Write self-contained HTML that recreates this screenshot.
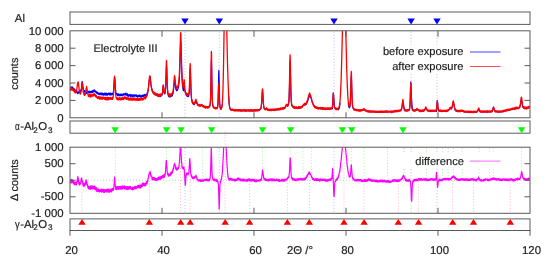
<!DOCTYPE html><html><head><meta charset="utf-8"><style>html,body{margin:0;padding:0;background:#fff;}svg{display:block;will-change:transform;}text{font-family:"Liberation Sans",sans-serif;font-size:11.4px;fill:#222;stroke:#222;stroke-width:0.18px;text-rendering:geometricPrecision;}</style></head><body><svg width="550" height="264" viewBox="0 0 550 264"><rect width="550" height="264" fill="#fff"/><defs><clipPath id="cm"><rect x="70.00" y="30.80" width="460.00" height="87.00"/></clipPath><clipPath id="cd"><rect x="70.00" y="147.20" width="460.00" height="66.10"/></clipPath></defs><path d="M185.0 31.8V117.8M219.3 31.8V117.8M334.0 31.8V117.8M411.1 31.8V117.8M437.0 31.8V117.8" stroke="#0000ff" stroke-opacity="0.27" stroke-width="1" stroke-dasharray="1 2" fill="none"/><path d="M115.3 148.2V186.5M166.6 148.2V161.4M181.0 148.2V150.9M202.7 148.2V179.3M211.6 148.2V155.5M262.6 148.2V169.2M290.3 148.2V157.7M302.9 148.2V178.3M311.4 148.2V175.7M342.4 148.2V148.2M351.2 148.2V165.5M364.2 148.2V179.5M387.5 148.2V179.7M403.4 148.2V174.8M405.0 148.2V177.4M426.5 148.2V178.7M442.5 148.2V178.6M448.2 148.2V178.4M453.6 148.2V175.5M462.2 148.2V178.6M479.1 148.2V177.0M489.6 148.2V178.8M493.3 148.2V178.8M521.6 148.2V170.9" stroke="#00dd00" stroke-opacity="0.35" stroke-width="1" stroke-dasharray="1 2" fill="none"/><path d="M81.8 180.4V213.3M149.5 174.5V213.3M180.6 147.1V213.3M190.1 163.7V213.3M225.1 131.4V213.3M249.7 181.1V213.3M287.4 180.3V213.3M309.4 174.1V213.3M344.0 141.5V213.3M364.1 181.5V213.3M398.3 181.6V213.3M418.6 180.7V213.3M452.7 177.6V213.3M473.6 180.7V213.3M510.2 180.7V213.3" stroke="#ff0000" stroke-opacity="0.3" stroke-width="1" stroke-dasharray="1 2" fill="none"/><path d="M185.0 148.2V213.3M219.3 148.2V213.3M334.0 148.2V213.3M411.1 148.2V213.3M437.0 148.2V213.3" stroke="#0000ff" stroke-opacity="0.27" stroke-width="1" stroke-dasharray="1 2" fill="none"/><path d="M70.0 180.25H530.0" stroke="#000" stroke-opacity="0.22" stroke-width="1" stroke-dasharray="1 2" fill="none"/><g clip-path="url(#cm)"><path d="M70.0 87.7L70.1 88.1L70.2 87.8L70.3 88.3L70.4 87.8L70.5 88.3L70.6 87.4L70.7 87.3L70.8 87.1L70.9 88.0L71.0 86.7L71.1 87.1L71.2 87.8L71.3 87.2L71.4 87.4L71.5 87.9L71.6 87.4L71.7 87.4L71.8 87.1L71.9 88.0L72.0 87.2L72.1 87.5L72.2 86.9L72.3 86.9L72.4 88.0L72.5 87.2L72.6 88.2L72.7 87.5L72.8 88.4L72.9 88.8L73.0 88.1L73.1 88.7L73.2 88.6L73.3 89.2L73.4 88.8L73.5 88.8L73.6 88.1L73.7 88.4L73.8 89.6L73.9 88.9L74.0 89.3L74.1 88.9L74.2 89.1L74.3 90.4L74.4 90.7L74.5 89.1L74.6 90.5L74.7 90.2L74.8 89.8L74.9 89.7L75.0 90.2L75.1 91.1L75.2 90.7L75.3 90.4L75.4 90.7L75.5 90.2L75.6 91.2L75.7 90.4L75.8 90.6L75.9 91.3L76.0 91.3L76.1 92.4L76.2 91.3L76.3 91.2L76.4 92.2L76.5 91.4L76.6 90.9L76.7 90.8L76.8 92.1L76.9 92.5L77.0 91.3L77.1 92.2L77.2 91.8L77.3 92.5L77.4 92.5L77.5 93.3L77.6 93.0L77.7 92.3L77.8 93.6L77.9 93.2L78.0 93.0L78.1 92.5L78.2 93.7L78.3 93.4L78.4 92.4L78.5 92.7L78.6 92.1L78.7 92.4L78.8 92.5L78.9 91.0L79.0 91.9L79.1 91.1L79.2 92.2L79.3 91.9L79.4 92.5L79.5 91.4L79.6 90.9L79.7 91.4L79.8 92.1L79.9 91.9L80.0 91.9L80.1 91.6L80.2 91.2L80.3 90.3L80.4 90.7L80.5 92.1L80.6 90.8L80.7 91.5L80.8 90.5L80.9 90.7L81.0 90.5L81.1 90.2L81.2 89.5L81.3 89.3L81.4 88.5L81.5 87.6L81.6 86.8L81.7 85.6L81.8 84.4L81.9 83.5L82.0 82.3L82.1 81.4L82.2 81.7L82.3 81.8L82.4 82.0L82.5 82.2L82.6 83.1L82.7 84.2L82.8 85.2L82.9 86.1L83.0 87.1L83.1 88.0L83.2 88.3L83.3 89.2L83.4 90.0L83.5 89.8L83.6 89.8L83.7 90.7L83.8 90.8L83.9 90.7L84.0 90.3L84.1 91.7L84.2 90.5L84.3 90.9L84.4 90.7L84.5 91.5L84.6 90.5L84.7 92.2L84.8 90.8L84.9 91.6L85.0 91.8L85.1 91.6L85.2 91.5L85.3 91.5L85.4 92.1L85.5 92.8L85.6 92.7L85.7 93.0L85.8 93.3L85.9 91.9L86.0 92.9L86.1 92.8L86.2 93.1L86.3 93.5L86.4 92.5L86.5 93.5L86.6 92.2L86.7 92.7L86.8 91.7L86.9 92.7L87.0 93.0L87.1 92.5L87.2 92.6L87.3 91.2L87.4 93.0L87.5 91.6L87.6 91.7L87.7 90.9L87.8 93.0L87.9 91.4L88.0 91.7L88.1 91.8L88.2 91.6L88.3 92.5L88.4 92.2L88.5 92.1L88.6 91.9L88.7 91.9L88.8 91.4L88.9 92.7L89.0 91.7L89.1 92.2L89.2 92.0L89.3 91.3L89.4 92.7L89.5 91.8L89.6 92.0L89.7 92.7L89.8 91.4L89.9 93.0L90.0 92.8L90.1 91.3L90.2 91.9L90.3 92.8L90.4 92.2L90.5 92.6L90.6 92.1L90.7 92.3L90.8 92.3L90.9 91.7L91.0 91.8L91.1 91.2L91.2 92.2L91.3 91.7L91.4 92.5L91.5 92.9L91.6 91.7L91.7 91.5L91.8 91.0L91.9 92.3L92.0 92.0L92.1 91.8L92.2 92.4L92.3 90.5L92.4 92.1L92.5 92.5L92.6 92.3L92.7 92.0L92.8 91.8L92.9 90.8L93.0 91.8L93.1 91.2L93.2 92.0L93.3 91.6L93.4 91.4L93.5 90.5L93.6 90.6L93.7 90.0L93.8 91.3L93.9 91.3L94.0 90.8L94.1 91.7L94.2 91.0L94.3 89.7L94.4 91.6L94.5 90.2L94.6 90.6L94.7 90.4L94.8 90.9L94.9 90.3L95.0 91.1L95.1 90.7L95.2 91.0L95.3 91.3L95.4 91.7L95.5 92.2L95.6 91.1L95.7 91.9L95.8 92.5L95.9 92.5L96.0 91.6L96.1 91.4L96.2 91.8L96.3 92.1L96.4 91.5L96.5 93.1L96.6 92.3L96.7 92.6L96.8 93.5L96.9 92.3L97.0 92.4L97.1 93.2L97.2 92.2L97.3 93.5L97.4 92.4L97.5 93.0L97.6 93.6L97.7 92.4L97.8 93.0L97.9 92.8L98.0 93.3L98.1 94.3L98.2 92.8L98.3 93.7L98.4 94.4L98.5 93.3L98.6 93.8L98.7 94.4L98.8 94.0L98.9 93.4L99.0 93.9L99.1 93.8L99.2 94.0L99.3 94.2L99.4 94.0L99.5 93.9L99.6 93.1L99.7 94.6L99.8 94.3L99.9 93.8L100.0 93.1L100.1 94.6L100.2 94.5L100.3 94.7L100.4 93.9L100.5 94.0L100.6 93.6L100.7 93.0L100.8 93.1L100.9 93.0L101.0 93.7L101.1 94.1L101.2 94.8L101.3 94.2L101.4 93.8L101.5 93.3L101.6 93.5L101.7 93.2L101.8 94.6L101.9 93.9L102.0 93.1L102.1 95.0L102.2 93.6L102.3 94.2L102.4 93.1L102.5 94.8L102.6 94.9L102.7 94.4L102.8 93.6L102.9 93.5L103.0 94.3L103.1 93.8L103.2 94.7L103.3 95.2L103.4 93.7L103.5 93.9L103.6 94.8L103.7 93.5L103.8 94.6L103.9 94.8L104.0 94.7L104.1 95.1L104.2 94.8L104.3 93.1L104.4 94.8L104.5 94.9L104.6 93.5L104.7 94.7L104.8 93.4L104.9 94.5L105.0 93.7L105.1 93.8L105.2 94.7L105.3 94.7L105.4 94.5L105.5 94.2L105.6 95.2L105.7 93.1L105.8 93.7L105.9 94.6L106.0 92.9L106.1 92.9L106.2 94.9L106.3 95.2L106.4 95.1L106.5 93.4L106.6 93.9L106.7 93.7L106.8 94.3L106.9 95.2L107.0 93.7L107.1 93.4L107.2 94.5L107.3 94.9L107.4 93.5L107.5 94.7L107.6 95.1L107.7 94.3L107.8 93.5L107.9 94.4L108.0 94.7L108.1 93.6L108.2 93.5L108.3 93.6L108.4 94.3L108.5 94.4L108.6 93.1L108.7 93.5L108.8 93.4L108.9 93.6L109.0 94.4L109.1 93.8L109.2 93.2L109.3 93.0L109.4 94.3L109.5 94.6L109.6 94.8L109.7 93.4L109.8 95.3L109.9 95.2L110.0 94.4L110.1 93.5L110.2 93.8L110.3 93.0L110.4 94.6L110.5 93.1L110.6 94.5L110.7 94.3L110.8 94.9L110.9 94.1L111.0 93.9L111.1 94.9L111.2 94.0L111.3 93.5L111.4 95.0L111.5 93.4L111.6 94.0L111.7 94.3L111.8 93.5L111.9 94.5L112.0 94.7L112.1 93.7L112.2 94.0L112.3 94.5L112.4 93.2L112.5 94.6L112.6 93.2L112.7 94.5L112.8 93.5L112.9 94.4L113.0 94.1L113.1 93.0L113.2 92.7L113.3 92.6L113.4 91.5L113.5 90.8L113.6 89.7L113.7 88.7L113.8 87.1L113.9 85.4L114.0 83.8L114.1 82.1L114.2 80.6L114.3 79.8L114.4 78.6L114.5 77.9L114.6 77.2L114.7 78.1L114.8 78.7L114.9 79.5L115.0 81.0L115.1 82.2L115.2 84.2L115.3 85.7L115.4 87.4L115.5 88.9L115.6 90.0L115.7 90.7L115.8 92.1L115.9 92.9L116.0 93.5L116.1 93.1L116.2 94.2L116.3 93.8L116.4 93.2L116.5 93.9L116.6 94.2L116.7 94.8L116.8 93.4L116.9 94.3L117.0 94.0L117.1 95.3L117.2 94.0L117.3 95.0L117.4 94.8L117.5 94.4L117.6 95.6L117.7 95.3L117.8 93.8L117.9 94.9L118.0 95.4L118.1 94.1L118.2 94.6L118.3 95.8L118.4 93.8L118.5 94.6L118.6 94.6L118.7 95.7L118.8 95.4L118.9 94.0L119.0 95.0L119.1 95.6L119.2 94.7L119.3 94.4L119.4 95.6L119.5 95.1L119.6 94.3L119.7 94.5L119.8 95.7L119.9 95.2L120.0 95.9L120.1 95.6L120.2 94.4L120.3 95.3L120.4 94.1L120.5 94.6L120.6 94.6L120.7 95.7L120.8 94.2L120.9 95.2L121.0 94.9L121.1 94.1L121.2 95.1L121.3 94.4L121.4 95.5L121.5 94.9L121.6 94.6L121.7 95.6L121.8 94.4L121.9 95.0L122.0 95.3L122.1 94.3L122.2 94.7L122.3 95.9L122.4 94.2L122.5 94.9L122.6 95.3L122.7 94.4L122.8 94.2L122.9 94.5L123.0 94.5L123.1 94.7L123.2 94.6L123.3 93.7L123.4 95.2L123.5 94.1L123.6 94.0L123.7 95.3L123.8 94.6L123.9 93.6L124.0 93.8L124.1 95.0L124.2 94.1L124.3 94.2L124.4 93.9L124.5 94.5L124.6 94.7L124.7 94.6L124.8 93.8L124.9 94.3L125.0 94.5L125.1 94.5L125.2 93.6L125.3 95.2L125.4 94.6L125.5 93.7L125.6 93.4L125.7 93.1L125.8 93.9L125.9 94.6L126.0 93.9L126.1 93.8L126.2 93.3L126.3 94.2L126.4 94.4L126.5 93.7L126.6 94.8L126.7 94.5L126.8 94.6L126.9 95.6L127.0 95.5L127.1 94.5L127.2 95.2L127.3 93.9L127.4 95.5L127.5 93.7L127.6 94.0L127.7 94.5L127.8 96.1L127.9 95.8L128.0 95.2L128.1 95.0L128.2 95.4L128.3 94.9L128.4 95.1L128.5 95.3L128.6 95.1L128.7 94.9L128.8 96.4L128.9 95.3L129.0 94.8L129.1 94.9L129.2 95.1L129.3 96.0L129.4 94.6L129.5 95.4L129.6 95.3L129.7 95.8L129.8 94.6L129.9 95.4L130.0 95.5L130.1 94.4L130.2 95.9L130.3 95.4L130.4 95.4L130.5 94.6L130.6 96.5L130.7 96.0L130.8 95.2L130.9 95.6L131.0 95.7L131.1 95.7L131.2 94.7L131.3 96.1L131.4 95.3L131.5 96.2L131.6 96.2L131.7 95.4L131.8 95.9L131.9 96.5L132.0 94.9L132.1 95.6L132.2 96.3L132.3 95.5L132.4 95.2L132.5 95.1L132.6 96.7L132.7 95.4L132.8 95.0L132.9 95.4L133.0 96.7L133.1 94.9L133.2 96.1L133.3 96.1L133.4 95.1L133.5 95.5L133.6 95.6L133.7 96.2L133.8 96.2L133.9 95.8L134.0 95.5L134.1 95.9L134.2 96.0L134.3 94.7L134.4 95.2L134.5 95.5L134.6 96.4L134.7 95.9L134.8 95.6L134.9 95.5L135.0 94.7L135.1 95.7L135.2 95.8L135.3 96.2L135.4 95.1L135.5 95.5L135.6 95.5L135.7 95.7L135.8 95.4L135.9 96.0L136.0 95.3L136.1 94.8L136.2 95.2L136.3 95.0L136.4 96.1L136.5 95.2L136.6 96.6L136.7 95.0L136.8 95.9L136.9 95.6L137.0 96.2L137.1 96.4L137.2 95.3L137.3 96.0L137.4 96.6L137.5 97.0L137.6 96.0L137.7 97.1L137.8 96.8L137.9 96.4L138.0 96.6L138.1 96.5L138.2 96.1L138.3 95.7L138.4 96.0L138.5 95.4L138.6 96.6L138.7 95.4L138.8 95.5L138.9 96.6L139.0 95.8L139.1 96.4L139.2 96.4L139.3 96.3L139.4 96.7L139.5 95.6L139.6 96.2L139.7 96.3L139.8 94.9L139.9 96.6L140.0 96.4L140.1 95.2L140.2 96.2L140.3 95.7L140.4 96.7L140.5 96.9L140.6 95.9L140.7 96.2L140.8 97.0L140.9 96.0L141.0 95.7L141.1 96.4L141.2 96.7L141.3 95.8L141.4 97.1L141.5 95.8L141.6 96.5L141.7 96.9L141.8 95.5L141.9 96.7L142.0 95.7L142.1 95.6L142.2 96.8L142.3 95.9L142.4 96.5L142.5 95.1L142.6 96.2L142.7 96.4L142.8 96.6L142.9 96.6L143.0 95.1L143.1 96.2L143.2 95.3L143.3 95.3L143.4 96.4L143.5 95.8L143.6 96.4L143.7 96.4L143.8 94.7L143.9 95.6L144.0 95.6L144.1 95.5L144.2 95.5L144.3 94.4L144.4 94.7L144.5 95.0L144.6 95.0L144.7 94.9L144.8 94.9L144.9 95.0L145.0 96.2L145.1 95.5L145.2 95.6L145.3 95.3L145.4 95.5L145.5 95.7L145.6 96.1L145.7 94.6L145.8 95.4L145.9 95.5L146.0 95.1L146.1 94.3L146.2 94.3L146.3 94.6L146.4 95.3L146.5 94.8L146.6 94.7L146.7 94.7L146.8 94.5L146.9 94.0L147.0 93.9L147.1 93.1L147.2 93.2L147.3 92.7L147.4 92.2L147.5 93.2L147.6 92.3L147.7 91.9L147.8 91.1L147.9 90.9L148.0 90.4L148.1 89.8L148.2 89.1L148.3 88.7L148.4 88.2L148.5 87.4L148.6 86.2L148.7 85.3L148.8 84.6L148.9 83.5L149.0 82.7L149.1 81.7L149.2 80.9L149.3 80.0L149.4 78.7L149.5 77.9L149.6 77.7L149.7 77.2L149.8 76.2L149.9 76.5L150.0 77.3L150.1 77.5L150.2 78.5L150.3 79.0L150.4 79.8L150.5 80.9L150.6 81.8L150.7 82.6L150.8 83.3L150.9 84.4L151.0 85.1L151.1 85.5L151.2 86.2L151.3 87.2L151.4 87.6L151.5 88.0L151.6 88.5L151.7 88.9L151.8 89.7L151.9 89.8L152.0 90.0L152.1 90.4L152.2 91.4L152.3 90.8L152.4 90.9L152.5 91.1L152.6 92.2L152.7 91.5L152.8 91.6L152.9 92.3L153.0 91.8L153.1 92.4L153.2 92.8L153.3 92.5L153.4 93.1L153.5 92.7L153.6 93.1L153.7 92.9L153.8 92.6L153.9 93.0L154.0 93.1L154.1 94.0L154.2 92.9L154.3 93.9L154.4 93.2L154.5 93.3L154.6 93.1L154.7 93.5L154.8 94.0L154.9 93.4L155.0 93.5L155.1 93.5L155.2 93.5L155.3 94.9L155.4 94.7L155.5 94.3L155.6 94.4L155.7 93.9L155.8 94.9L155.9 94.6L156.0 95.0L156.1 95.2L156.2 95.0L156.3 94.8L156.4 95.2L156.5 95.1L156.6 95.3L156.7 95.5L156.8 94.8L156.9 95.5L157.0 95.4L157.1 94.7L157.2 95.1L157.3 95.7L157.4 95.4L157.5 95.4L157.6 95.1L157.7 96.0L157.8 95.9L157.9 95.3L158.0 96.0L158.1 96.2L158.2 96.5L158.3 95.8L158.4 95.8L158.5 95.8L158.6 95.8L158.7 96.5L158.8 95.9L158.9 96.2L159.0 95.7L159.1 96.5L159.2 96.2L159.3 95.5L159.4 95.8L159.5 95.8L159.6 96.3L159.7 96.3L159.8 95.8L159.9 95.9L160.0 96.4L160.1 95.7L160.2 96.6L160.3 95.9L160.4 96.2L160.5 96.4L160.6 96.0L160.7 96.3L160.8 95.6L160.9 95.8L161.0 95.7L161.1 95.4L161.2 95.1L161.3 95.0L161.4 95.6L161.5 95.6L161.6 95.0L161.7 95.7L161.8 95.7L161.9 95.4L162.0 94.6L162.1 95.0L162.2 94.3L162.3 93.9L162.4 93.9L162.5 93.4L162.6 92.3L162.7 91.6L162.8 90.5L162.9 89.2L163.0 88.1L163.1 86.9L163.2 86.0L163.3 85.4L163.4 85.9L163.5 86.8L163.6 87.9L163.7 89.0L163.8 90.1L163.9 91.4L164.0 92.3L164.1 92.9L164.2 93.5L164.3 93.9L164.4 93.9L164.5 93.6L164.6 93.5L164.7 93.4L164.8 93.4L164.9 93.5L165.0 93.7L165.1 93.1L165.2 92.7L165.3 92.0L165.4 91.5L165.5 90.1L165.6 88.8L165.7 87.1L165.8 85.0L165.9 82.4L166.0 79.4L166.1 76.1L166.2 72.8L166.3 69.7L166.4 67.3L166.5 66.4L166.6 66.8L166.7 68.6L166.8 71.5L166.9 74.7L167.0 78.0L167.1 81.2L167.2 84.1L167.3 86.5L167.4 88.7L167.5 90.3L167.6 91.6L167.7 92.6L167.8 93.5L167.9 94.2L168.0 94.8L168.1 94.5L168.2 95.3L168.3 95.6L168.4 96.0L168.5 95.4L168.6 95.8L168.7 95.9L168.8 96.7L168.9 96.7L169.0 96.8L169.1 96.5L169.2 96.5L169.3 96.2L169.4 96.3L169.5 96.3L169.6 97.0L169.7 96.3L169.8 96.3L169.9 96.7L170.0 96.4L170.1 96.7L170.2 96.5L170.3 96.7L170.4 96.9L170.5 96.2L170.6 96.7L170.7 96.4L170.8 96.6L170.9 96.5L171.0 96.0L171.1 96.0L171.2 96.1L171.3 96.0L171.4 96.2L171.5 96.1L171.6 96.0L171.7 95.6L171.8 96.3L171.9 96.0L172.0 95.8L172.1 95.1L172.2 95.6L172.3 95.6L172.4 95.6L172.5 94.6L172.6 94.5L172.7 94.3L172.8 94.3L172.9 93.7L173.0 93.9L173.1 93.3L173.2 93.0L173.3 92.0L173.4 91.5L173.5 90.9L173.6 90.0L173.7 88.9L173.8 88.0L173.9 86.9L174.0 85.6L174.1 84.4L174.2 83.2L174.3 81.7L174.4 80.8L174.5 80.0L174.6 80.0L174.7 80.2L174.8 80.4L174.9 80.7L175.0 81.9L175.1 82.8L175.2 83.9L175.3 84.8L175.4 85.9L175.5 86.5L175.6 87.2L175.7 88.0L175.8 88.8L175.9 89.3L176.0 89.6L176.1 89.3L176.2 90.1L176.3 90.1L176.4 90.1L176.5 89.8L176.6 90.2L176.7 90.9L176.8 90.1L176.9 89.8L177.0 90.0L177.1 90.6L177.2 90.5L177.3 89.9L177.4 90.1L177.5 90.3L177.6 89.5L177.7 89.4L177.8 88.8L177.9 89.2L178.0 89.0L178.1 88.5L178.2 88.2L178.3 88.1L178.4 87.5L178.5 86.9L178.6 86.5L178.7 85.9L178.8 85.1L178.9 84.1L179.0 83.2L179.1 82.3L179.2 80.9L179.3 79.7L179.4 78.1L179.5 76.2L179.6 74.1L179.7 71.6L179.8 68.8L179.9 65.8L180.0 62.4L180.1 58.8L180.2 55.0L180.3 51.2L180.4 47.7L180.5 44.8L180.6 42.6L180.7 41.5L180.8 42.2L180.9 43.7L181.0 46.4L181.1 49.8L181.2 53.6L181.3 57.4L181.4 61.2L181.5 64.8L181.6 68.1L181.7 71.0L181.8 73.8L181.9 76.2L182.0 78.4L182.1 80.4L182.2 81.9L182.3 83.3L182.4 84.6L182.5 85.8L182.6 86.8L182.7 87.5L182.8 88.2L182.9 88.9L183.0 89.4L183.1 90.2L183.2 90.1L183.3 90.1L183.4 90.9L183.5 90.4L183.6 89.9L183.7 88.9L183.8 87.7L183.9 86.4L184.0 84.5L184.1 83.2L184.2 82.6L184.3 83.1L184.4 84.5L184.5 86.4L184.6 88.1L184.7 89.5L184.8 90.3L184.9 90.7L185.0 90.9L185.1 91.0L185.2 91.5L185.3 91.1L185.4 91.1L185.5 91.8L185.6 92.3L185.7 93.0L185.8 93.6L185.9 94.0L186.0 94.5L186.1 94.9L186.2 94.7L186.3 95.0L186.4 95.8L186.5 95.5L186.6 96.0L186.7 95.3L186.8 95.4L186.9 95.8L187.0 96.3L187.1 95.6L187.2 95.9L187.3 96.5L187.4 95.9L187.5 96.2L187.6 96.6L187.7 96.5L187.8 96.4L187.9 95.9L188.0 96.5L188.1 96.4L188.2 95.9L188.3 95.7L188.4 96.6L188.5 96.3L188.6 96.0L188.7 95.7L188.8 95.9L188.9 95.1L189.0 95.0L189.1 94.4L189.2 93.3L189.3 92.2L189.4 90.6L189.5 88.4L189.6 85.9L189.7 82.7L189.8 79.2L189.9 75.6L190.0 72.1L190.1 69.5L190.2 68.6L190.3 68.8L190.4 70.7L190.5 73.8L190.6 77.3L190.7 81.0L190.8 84.4L190.9 87.7L191.0 90.5L191.1 92.8L191.2 94.7L191.3 96.2L191.4 97.4L191.5 98.5L191.6 99.5L191.7 100.1L191.8 100.5L191.9 101.0L192.0 101.6L192.1 102.0L192.2 102.0L192.3 102.7L192.4 103.0L192.5 102.7L192.6 102.8L192.7 103.2L192.8 103.8L192.9 103.6L193.0 103.9L193.1 104.1L193.2 104.0L193.3 103.9L193.4 103.7L193.5 104.4L193.6 104.5L193.7 103.9L193.8 104.2L193.9 104.6L194.0 104.4L194.1 104.5L194.2 104.0L194.3 104.6L194.4 104.3L194.5 104.2L194.6 103.9L194.7 103.8L194.8 103.5L194.9 103.4L195.0 103.2L195.1 103.1L195.2 102.7L195.3 102.5L195.4 102.2L195.5 102.4L195.6 101.5L195.7 101.4L195.8 101.5L195.9 100.9L196.0 100.7L196.1 100.9L196.2 101.3L196.3 101.7L196.4 102.1L196.5 102.1L196.6 102.3L196.7 102.7L196.8 103.1L196.9 103.3L197.0 103.5L197.1 104.0L197.2 103.8L197.3 104.5L197.4 104.3L197.5 104.5L197.6 105.0L197.7 104.9L197.8 105.1L197.9 104.8L198.0 105.2L198.1 105.1L198.2 105.5L198.3 105.5L198.4 105.0L198.5 105.3L198.6 105.4L198.7 105.1L198.8 105.4L198.9 105.2L199.0 105.0L199.1 105.8L199.2 105.5L199.3 105.6L199.4 105.4L199.5 105.6L199.6 105.2L199.7 104.8L199.8 105.2L199.9 105.6L200.0 105.2L200.1 105.5L200.2 105.3L200.3 105.5L200.4 105.0L200.5 105.7L200.6 105.3L200.7 105.3L200.8 104.9L200.9 105.2L201.0 105.2L201.1 105.3L201.2 105.2L201.3 105.0L201.4 104.7L201.5 105.2L201.6 104.8L201.7 105.3L201.8 105.3L201.9 105.1L202.0 105.4L202.1 105.7L202.2 105.6L202.3 105.3L202.4 105.9L202.5 105.6L202.6 105.7L202.7 105.7L202.8 106.0L202.9 106.0L203.0 106.3L203.1 106.3L203.2 106.5L203.3 105.9L203.4 106.1L203.5 106.5L203.6 106.5L203.7 106.5L203.8 106.2L203.9 106.5L204.0 106.7L204.1 106.9L204.2 107.0L204.3 106.6L204.4 107.0L204.5 107.1L204.6 106.8L204.7 106.7L204.8 107.3L204.9 106.8L205.0 106.7L205.1 107.2L205.2 106.8L205.3 107.0L205.4 107.4L205.5 106.7L205.6 106.9L205.7 106.9L205.8 107.3L205.9 107.4L206.0 106.9L206.1 107.2L206.2 106.9L206.3 107.0L206.4 107.4L206.5 107.0L206.6 107.0L206.7 107.2L206.8 107.4L206.9 107.2L207.0 107.0L207.1 106.9L207.2 107.5L207.3 107.2L207.4 106.9L207.5 107.3L207.6 107.6L207.7 107.5L207.8 107.1L207.9 107.3L208.0 107.0L208.1 107.3L208.2 106.9L208.3 107.3L208.4 107.1L208.5 107.1L208.6 107.1L208.7 106.8L208.8 107.1L208.9 107.2L209.0 106.8L209.1 106.9L209.2 106.7L209.3 106.5L209.4 106.3L209.5 106.5L209.6 106.5L209.7 105.9L209.8 106.2L209.9 105.8L210.0 105.3L210.1 105.1L210.2 104.1L210.3 103.6L210.4 102.1L210.5 100.4L210.6 98.1L210.7 94.8L210.8 90.5L210.9 85.4L211.0 79.4L211.1 73.1L211.2 67.0L211.3 62.4L211.4 60.3L211.5 61.4L211.6 65.3L211.7 71.0L211.8 77.4L211.9 83.5L212.0 89.0L212.1 93.5L212.2 97.1L212.3 99.9L212.4 102.0L212.5 103.3L212.6 104.1L212.7 104.9L212.8 105.7L212.9 106.1L213.0 106.5L213.1 106.8L213.2 106.6L213.3 107.1L213.4 106.9L213.5 107.5L213.6 107.6L213.7 107.5L213.8 107.9L213.9 107.9L214.0 107.6L214.1 107.5L214.2 107.5L214.3 107.6L214.4 107.8L214.5 107.8L214.6 107.8L214.7 108.3L214.8 108.0L214.9 108.1L215.0 108.3L215.1 108.2L215.2 108.3L215.3 107.9L215.4 108.3L215.5 107.9L215.6 108.2L215.7 108.2L215.8 108.1L215.9 108.3L216.0 108.3L216.1 107.8L216.2 108.3L216.3 108.2L216.4 107.8L216.5 107.9L216.6 108.1L216.7 108.2L216.8 108.1L216.9 107.6L217.0 107.6L217.1 107.7L217.2 107.8L217.3 107.5L217.4 107.3L217.5 106.9L217.6 106.5L217.7 106.0L217.8 105.0L217.9 103.6L218.0 101.6L218.1 99.1L218.2 95.7L218.3 91.5L218.4 86.7L218.5 81.5L218.6 76.6L218.7 72.6L218.8 70.3L218.9 70.7L219.0 72.8L219.1 76.3L219.2 80.7L219.3 85.6L219.4 90.3L219.5 94.6L219.6 98.2L219.7 101.1L219.8 103.2L219.9 104.9L220.0 106.0L220.1 106.8L220.2 107.1L220.3 107.4L220.4 107.7L220.5 108.2L220.6 108.5L220.7 108.3L220.8 108.8L220.9 108.9L221.0 108.5L221.1 108.7L221.2 108.7L221.3 108.8L221.4 108.9L221.5 108.0L221.6 107.9L221.7 107.3L221.8 107.2L221.9 106.7L222.0 106.0L222.1 105.3L222.2 104.3M228.7 96.0L228.8 97.7L228.9 99.5L229.0 101.1L229.1 102.5L229.2 103.5L229.3 104.6L229.4 105.5L229.5 106.5L229.6 107.0L229.7 107.5L229.8 107.9L229.9 108.3L230.0 108.5L230.1 109.0L230.2 108.8L230.3 109.1L230.4 109.4L230.5 109.7L230.6 109.7L230.7 109.6L230.8 110.0L230.9 109.5L231.0 109.8L231.1 110.1L231.2 109.6L231.3 110.0L231.4 109.5L231.5 109.9L231.6 109.8L231.7 109.8L231.8 109.9L231.9 109.6L232.0 109.9L232.1 110.2L232.2 110.3L232.3 110.1L232.4 109.8L232.5 110.0L232.6 110.3L232.7 110.2L232.8 110.0L232.9 109.8L233.0 109.8L233.1 110.0L233.2 110.3L233.3 110.0L233.4 110.4L233.5 110.3L233.6 110.2L233.7 109.9L233.8 110.1L233.9 110.5L234.0 110.4L234.1 110.4L234.2 110.3L234.3 110.4L234.4 110.1L234.5 109.8L234.6 110.5L234.7 110.0L234.8 110.0L234.9 110.2L235.0 110.6L235.1 110.2L235.2 110.3L235.3 110.5L235.4 110.3L235.5 110.0L235.6 110.3L235.7 110.5L235.8 110.1L235.9 110.1L236.0 110.6L236.1 110.0L236.2 110.2L236.3 110.4L236.4 110.4L236.5 110.5L236.6 110.2L236.7 110.4L236.8 110.1L236.9 110.2L237.0 110.5L237.1 110.7L237.2 110.6L237.3 110.4L237.4 110.3L237.5 110.2L237.6 110.0L237.7 110.4L237.8 110.0L237.9 110.2L238.0 110.0L238.1 110.2L238.2 110.3L238.3 110.3L238.4 110.1L238.5 110.1L238.6 110.3L238.7 110.4L238.8 110.1L238.9 110.2L239.0 110.5L239.1 110.6L239.2 110.7L239.3 110.3L239.4 110.7L239.5 110.6L239.6 110.1L239.7 110.3L239.8 110.3L239.9 110.3L240.0 110.2L240.1 110.8L240.2 110.5L240.3 110.5L240.4 110.2L240.5 110.5L240.6 110.3L240.7 110.3L240.8 110.7L240.9 110.4L241.0 110.6L241.1 110.1L241.2 110.7L241.3 110.3L241.4 110.5L241.5 110.6L241.6 110.6L241.7 110.5L241.8 110.7L241.9 110.4L242.0 110.4L242.1 110.6L242.2 110.7L242.3 110.4L242.4 110.2L242.5 110.5L242.6 110.6L242.7 110.5L242.8 110.7L242.9 110.3L243.0 110.6L243.1 110.1L243.2 110.5L243.3 110.6L243.4 110.7L243.5 110.8L243.6 110.9L243.7 110.6L243.8 110.3L243.9 110.3L244.0 110.5L244.1 110.2L244.2 110.3L244.3 110.2L244.4 110.2L244.5 110.7L244.6 110.4L244.7 110.9L244.8 110.3L244.9 110.8L245.0 110.2L245.1 110.6L245.2 110.4L245.3 110.2L245.4 110.7L245.5 110.5L245.6 110.5L245.7 110.6L245.8 110.8L245.9 110.4L246.0 110.4L246.1 110.4L246.2 110.4L246.3 110.9L246.4 110.3L246.5 110.5L246.6 110.4L246.7 110.7L246.8 110.9L246.9 110.2L247.0 110.2L247.1 110.3L247.2 110.8L247.3 110.5L247.4 110.2L247.5 110.8L247.6 110.2L247.7 110.8L247.8 110.2L247.9 110.7L248.0 110.5L248.1 110.5L248.2 110.6L248.3 110.6L248.4 110.2L248.5 110.7L248.6 110.6L248.7 110.2L248.8 110.4L248.9 110.7L249.0 110.3L249.1 110.3L249.2 110.6L249.3 110.6L249.4 110.7L249.5 110.6L249.6 110.7L249.7 110.6L249.8 110.4L249.9 110.8L250.0 110.3L250.1 110.5L250.2 110.3L250.3 110.9L250.4 110.7L250.5 110.6L250.6 110.5L250.7 110.5L250.8 110.6L250.9 110.5L251.0 110.2L251.1 110.5L251.2 110.8L251.3 110.7L251.4 110.6L251.5 110.3L251.6 110.7L251.7 110.8L251.8 110.7L251.9 110.2L252.0 110.3L252.1 110.5L252.2 110.5L252.3 110.8L252.4 110.7L252.5 110.4L252.6 110.8L252.7 110.4L252.8 110.4L252.9 110.5L253.0 110.3L253.1 110.8L253.2 110.6L253.3 110.2L253.4 110.4L253.5 110.8L253.6 110.6L253.7 110.4L253.8 110.4L253.9 110.3L254.0 110.7L254.1 110.4L254.2 110.5L254.3 110.6L254.4 110.5L254.5 110.7L254.6 110.3L254.7 110.2L254.8 110.0L254.9 110.3L255.0 110.2L255.1 110.1L255.2 110.4L255.3 110.7L255.4 110.2L255.5 110.3L255.6 110.1L255.7 110.8L255.8 110.6L255.9 110.5L256.0 110.1L256.1 110.4L256.2 110.3L256.3 110.1L256.4 110.4L256.5 110.6L256.6 110.4L256.7 110.1L256.8 110.4L256.9 110.6L257.0 110.1L257.1 110.5L257.2 110.3L257.3 110.5L257.4 110.6L257.5 110.1L257.6 110.1L257.7 110.4L257.8 110.5L257.9 110.3L258.0 110.1L258.1 110.1L258.2 110.4L258.3 110.0L258.4 110.0L258.5 110.4L258.6 109.9L258.7 109.8L258.8 109.8L258.9 110.2L259.0 110.2L259.1 109.9L259.2 109.9L259.3 110.0L259.4 109.8L259.5 110.0L259.6 109.6L259.7 109.7L259.8 109.5L259.9 109.8L260.0 109.4L260.1 109.7L260.2 109.2L260.3 109.4L260.4 109.6L260.5 109.2L260.6 108.9L260.7 108.9L260.8 108.5L260.9 108.1L261.0 108.1L261.1 107.5L261.2 107.1L261.3 106.5L261.4 105.6L261.5 104.7L261.6 103.6L261.7 102.2L261.8 100.6L261.9 99.0L262.0 97.2L262.1 95.3L262.2 93.8L262.3 92.4L262.4 91.5L262.5 91.6L262.6 91.8L262.7 92.8L262.8 94.3L262.9 95.8L263.0 97.6L263.1 99.4L263.2 101.1L263.3 102.4L263.4 103.7L263.5 104.9L263.6 105.9L263.7 106.4L263.8 107.0L263.9 107.8L264.0 108.0L264.1 108.2L264.2 108.5L264.3 108.9L264.4 109.0L264.5 108.9L264.6 108.7L264.7 109.3L264.8 109.1L264.9 109.5L265.0 109.0L265.1 109.3L265.2 109.4L265.3 109.6L265.4 109.0L265.5 109.1L265.6 109.2L265.7 109.2L265.8 109.3L265.9 109.1L266.0 109.3L266.1 108.6L266.2 108.9L266.3 109.0L266.4 108.6L266.5 108.4L266.6 108.6L266.7 108.5L266.8 108.8L266.9 108.8L267.0 109.0L267.1 108.8L267.2 109.4L267.3 109.1L267.4 109.6L267.5 109.6L267.6 109.4L267.7 109.8L267.8 109.4L267.9 109.9L268.0 110.1L268.1 109.8L268.2 109.9L268.3 109.8L268.4 109.7L268.5 109.9L268.6 110.1L268.7 109.8L268.8 110.1L268.9 109.8L269.0 109.8L269.1 109.7L269.2 110.2L269.3 110.0L269.4 109.7L269.5 110.0L269.6 109.9L269.7 109.9L269.8 109.7L269.9 109.8L270.0 110.1L270.1 110.2L270.2 109.8L270.3 109.8L270.4 110.3L270.5 110.2L270.6 110.2L270.7 109.8L270.8 110.0L270.9 109.9L271.0 110.2L271.1 110.3L271.2 109.9L271.3 110.0L271.4 110.0L271.5 110.2L271.6 110.1L271.7 110.3L271.8 109.6L271.9 109.7L272.0 109.8L272.1 110.0L272.2 109.8L272.3 109.8L272.4 109.9L272.5 110.1L272.6 110.2L272.7 110.1L272.8 110.1L272.9 109.6L273.0 109.9L273.1 109.9L273.2 109.6L273.3 109.8L273.4 109.7L273.5 109.6L273.6 109.9L273.7 109.7L273.8 110.1L273.9 109.7L274.0 109.9L274.1 109.9L274.2 109.6L274.3 109.5L274.4 110.0L274.5 109.7L274.6 109.8L274.7 109.7L274.8 109.5L274.9 109.8L275.0 109.8L275.1 109.5L275.2 110.0L275.3 109.8L275.4 109.7L275.5 109.4L275.6 109.9L275.7 109.9L275.8 109.4L275.9 109.9L276.0 110.0L276.1 109.7L276.2 109.4L276.3 109.4L276.4 109.4L276.5 109.3L276.6 109.5L276.7 109.6L276.8 109.5L276.9 109.7L277.0 109.4L277.1 109.5L277.2 109.3L277.3 109.5L277.4 109.5L277.5 109.5L277.6 109.6L277.7 109.6L277.8 109.1L277.9 109.3L278.0 109.6L278.1 109.6L278.2 109.0L278.3 109.1L278.4 109.6L278.5 109.4L278.6 109.1L278.7 109.2L278.8 109.1L278.9 108.9L279.0 109.3L279.1 109.2L279.2 109.2L279.3 109.5L279.4 108.8L279.5 108.7L279.6 109.3L279.7 109.0L279.8 109.0L279.9 109.1L280.0 108.9L280.1 108.7L280.2 108.9L280.3 108.9L280.4 108.9L280.5 108.9L280.6 108.9L280.7 108.5L280.8 108.8L280.9 109.1L281.0 109.2L281.1 108.7L281.2 109.0L281.3 108.9L281.4 109.2L281.5 108.6L281.6 109.0L281.7 109.0L281.8 108.9L281.9 108.9L282.0 109.0L282.1 108.9L282.2 108.8L282.3 108.4L282.4 108.4L282.5 108.3L282.6 108.7L282.7 108.2L282.8 108.5L282.9 108.1L283.0 108.4L283.1 108.7L283.2 108.5L283.3 108.1L283.4 108.3L283.5 108.3L283.6 108.4L283.7 108.3L283.8 108.7L283.9 108.4L284.0 108.0L284.1 108.6L284.2 108.1L284.3 108.4L284.4 108.3L284.5 107.8L284.6 107.8L284.7 107.8L284.8 108.0L284.9 107.6L285.0 107.8L285.1 107.4L285.2 107.6L285.3 107.4L285.4 107.3L285.5 106.8L285.6 106.8L285.7 106.1L285.8 106.0L285.9 106.2L286.0 105.5L286.1 105.8L286.2 105.1L286.3 105.0L286.4 105.1L286.5 104.6L286.6 104.6L286.7 105.3L286.8 104.7L286.9 104.4L287.0 104.8L287.1 105.0L287.2 104.9L287.3 105.7L287.4 105.4L287.5 105.5L287.6 105.5L287.7 105.6L287.8 105.7L287.9 105.5L288.0 105.2L288.1 105.2L288.2 104.9L288.3 105.0L288.4 104.7L288.5 104.5L288.6 103.7L288.7 103.4L288.8 102.3L288.9 101.1L289.0 99.6L289.1 97.7L289.2 95.3L289.3 92.2L289.4 88.4L289.5 84.1L289.6 79.2L289.7 74.1L289.8 69.0L289.9 64.7L290.0 61.7L290.1 60.9L290.2 62.3L290.3 65.7L290.4 70.2L290.5 75.3L290.6 80.5L290.7 85.2L290.8 89.4L290.9 93.0L291.0 95.9L291.1 98.3L291.2 100.2L291.3 101.6L291.4 102.6L291.5 103.6L291.6 104.3L291.7 104.5L291.8 105.2L291.9 105.6L292.0 105.6L292.1 106.2L292.2 106.2L292.3 106.2L292.4 106.2L292.5 106.6L292.6 106.5L292.7 106.7L292.8 106.9L292.9 106.8L293.0 107.0L293.1 107.2L293.2 106.9L293.3 107.4L293.4 107.6L293.5 107.0L293.6 107.7L293.7 107.7L293.8 107.5L293.9 107.6L294.0 107.2L294.1 107.2L294.2 107.8L294.3 107.5L294.4 107.3L294.5 107.9L294.6 107.5L294.7 107.6L294.8 107.4L294.9 108.1L295.0 107.7L295.1 107.5L295.2 107.6L295.3 107.8L295.4 108.0L295.5 107.9L295.6 107.7L295.7 107.8L295.8 107.6L295.9 107.7L296.0 107.8L296.1 107.7L296.2 108.3L296.3 107.8L296.4 108.0L296.5 107.5L296.6 107.8L296.7 107.9L296.8 107.7L296.9 108.1L297.0 107.7L297.1 107.9L297.2 107.6L297.3 107.9L297.4 108.0L297.5 108.2L297.6 108.0L297.7 108.2L297.8 107.8L297.9 108.2L298.0 107.8L298.1 108.3L298.2 107.7L298.3 107.9L298.4 107.7L298.5 107.7L298.6 108.0L298.7 108.0L298.8 107.5L298.9 107.4L299.0 107.8L299.1 107.9L299.2 108.0L299.3 108.1L299.4 108.1L299.5 107.6L299.6 108.2L299.7 108.0L299.8 107.7L299.9 107.7L300.0 107.6L300.1 107.9L300.2 107.8L300.3 107.6L300.4 107.5L300.5 107.6L300.6 107.2L300.7 107.9L300.8 107.8L300.9 107.5L301.0 107.7L301.1 107.3L301.2 107.6L301.3 107.4L301.4 106.9L301.5 107.0L301.6 107.4L301.7 107.2L301.8 107.1L301.9 107.2L302.0 106.8L302.1 107.1L302.2 107.0L302.3 106.5L302.4 106.4L302.5 106.0L302.6 106.5L302.7 105.9L302.8 106.1L302.9 106.0L303.0 106.0L303.1 105.5L303.2 105.5L303.3 105.2L303.4 105.0L303.5 105.0L303.6 104.8L303.7 105.0L303.8 104.7L303.9 105.0L304.0 104.7L304.1 104.6L304.2 104.8L304.3 104.8L304.4 104.5L304.5 104.3L304.6 105.1L304.7 104.6L304.8 104.5L304.9 104.6L305.0 104.7L305.1 104.9L305.2 104.3L305.3 104.6L305.4 104.3L305.5 104.4L305.6 104.5L305.7 104.6L305.8 104.3L305.9 104.3L306.0 104.0L306.1 104.1L306.2 104.5L306.3 104.1L306.4 104.0L306.5 103.5L306.6 103.1L306.7 103.4L306.8 103.2L306.9 102.9L307.0 102.5L307.1 102.7L307.2 102.3L307.3 101.7L307.4 101.4L307.5 101.5L307.6 101.0L307.7 101.0L307.8 100.7L307.9 100.1L308.0 100.0L308.1 99.3L308.2 99.1L308.3 98.8L308.4 98.9L308.5 98.6L308.6 98.3L308.7 97.6L308.8 97.4L308.9 97.5L309.0 97.2L309.1 96.9L309.2 96.7L309.3 96.3L309.4 95.8L309.5 96.3L309.6 96.4L309.7 96.5L309.8 96.1L309.9 96.1L310.0 96.3L310.1 96.1L310.2 96.5L310.3 96.3L310.4 97.0L310.5 97.1L310.6 97.2L310.7 97.5L310.8 97.6L310.9 97.6L311.0 98.1L311.1 98.3L311.2 98.9L311.3 99.1L311.4 99.4L311.5 100.1L311.6 100.2L311.7 100.2L311.8 100.6L311.9 101.0L312.0 101.3L312.1 101.7L312.2 102.0L312.3 102.6L312.4 102.5L312.5 102.6L312.6 102.9L312.7 103.3L312.8 103.5L312.9 103.7L313.0 103.8L313.1 104.4L313.2 104.4L313.3 104.6L313.4 104.9L313.5 105.2L313.6 105.4L313.7 105.6L313.8 105.8L313.9 105.9L314.0 106.3L314.1 106.0L314.2 106.2L314.3 106.0L314.4 106.6L314.5 106.5L314.6 106.6L314.7 106.9L314.8 106.6L314.9 107.0L315.0 107.3L315.1 107.5L315.2 107.1L315.3 107.3L315.4 107.6L315.5 107.4L315.6 107.7L315.7 107.4L315.8 107.6L315.9 107.3L316.0 107.3L316.1 107.5L316.2 107.8L316.3 107.9L316.4 107.7L316.5 108.1L316.6 107.7L316.7 107.7L316.8 107.8L316.9 107.5L317.0 107.6L317.1 107.7L317.2 108.3L317.3 108.3L317.4 107.8L317.5 107.9L317.6 108.4L317.7 108.0L317.8 107.7L317.9 107.8L318.0 107.8L318.1 108.0L318.2 108.3L318.3 108.3L318.4 108.2L318.5 108.1L318.6 108.3L318.7 108.2L318.8 108.3L318.9 108.6L319.0 107.9L319.1 108.0L319.2 108.5L319.3 108.1L319.4 108.1L319.5 108.3L319.6 108.0L319.7 108.7L319.8 108.0L319.9 108.6L320.0 108.0L320.1 108.2L320.2 108.6L320.3 108.0L320.4 108.4L320.5 108.7L320.6 108.9L320.7 108.7L320.8 108.2L320.9 108.1L321.0 108.5L321.1 108.1L321.2 108.3L321.3 108.5L321.4 108.2L321.5 108.6L321.6 108.6L321.7 108.3L321.8 108.3L321.9 108.4L322.0 108.5L322.1 108.7L322.2 108.8L322.3 108.5L322.4 108.3L322.5 108.8L322.6 108.5L322.7 108.2L322.8 108.2L322.9 108.4L323.0 108.9L323.1 108.3L323.2 108.4L323.3 108.9L323.4 108.7L323.5 108.6L323.6 109.0L323.7 108.9L323.8 108.7L323.9 108.5L324.0 108.8L324.1 108.8L324.2 108.8L324.3 108.8L324.4 108.7L324.5 108.8L324.6 109.0L324.7 109.0L324.8 108.5L324.9 108.4L325.0 108.8L325.1 109.1L325.2 108.3L325.3 108.7L325.4 109.0L325.5 108.8L325.6 108.9L325.7 108.9L325.8 108.8L325.9 109.0L326.0 108.9L326.1 108.9L326.2 108.9L326.3 108.6L326.4 108.9L326.5 108.9L326.6 108.6L326.7 108.9L326.8 108.8L326.9 109.2L327.0 108.9L327.1 108.6L327.2 108.9L327.3 108.5L327.4 108.6L327.5 108.4L327.6 108.6L327.7 109.0L327.8 109.1L327.9 108.7L328.0 108.5L328.1 108.7L328.2 109.1L328.3 109.0L328.4 108.7L328.5 108.9L328.6 108.6L328.7 108.7L328.8 108.9L328.9 108.5L329.0 108.7L329.1 108.8L329.2 108.5L329.3 108.8L329.4 108.4L329.5 108.5L329.6 108.6L329.7 109.0L329.8 109.0L329.9 108.8L330.0 108.6L330.1 108.6L330.2 108.5L330.3 108.6L330.4 108.8L330.5 108.5L330.6 108.8L330.7 108.4L330.8 108.7L330.9 108.3L331.0 108.4L331.1 108.9L331.2 108.8L331.3 108.2L331.4 108.5L331.5 108.3L331.6 108.8L331.7 108.4L331.8 108.5L331.9 108.8L332.0 108.5L332.1 108.5L332.2 108.9L332.3 108.9L332.4 108.7L332.5 108.1L332.6 107.2L332.7 105.5L332.8 103.3L332.9 100.8L333.0 98.2L333.1 95.8L333.2 93.9L333.3 92.8L333.4 93.1L333.5 93.7L333.6 94.9L333.7 96.4L333.8 97.7L333.9 98.9L334.0 100.2L334.1 101.4L334.2 102.8L334.3 104.1L334.4 105.2L334.5 106.1L334.6 106.7L334.7 107.2L334.8 107.8L334.9 107.7L335.0 108.1L335.1 108.2L335.2 108.5L335.3 108.5L335.4 108.8L335.5 108.7L335.6 108.5L335.7 109.1L335.8 109.2L335.9 109.1L336.0 108.6L336.1 109.1L336.2 109.3L336.3 108.7L336.4 109.0L336.5 109.1L336.6 108.9L336.7 109.0L336.8 109.1L336.9 109.3L337.0 109.2L337.1 109.6L337.2 109.4L337.3 109.2L337.4 109.6L337.5 109.1L337.6 109.2L337.7 109.1L337.8 109.2L337.9 109.3L338.0 109.2L338.1 109.1L338.2 109.4L338.3 109.3L338.4 109.8L338.5 109.5L338.6 109.3L338.7 108.9L338.8 109.0L338.9 108.6L339.0 109.0L339.1 108.4L339.2 108.4L339.3 108.1L339.4 107.7L339.5 107.2L339.6 106.8L339.7 106.1L339.8 105.5L339.9 104.7L340.0 103.9L340.1 102.8M348.2 103.2L348.3 104.1L348.4 104.6L348.5 105.3L348.6 105.7L348.7 106.5L348.8 106.5L348.9 107.0L349.0 107.4L349.1 107.4L349.2 107.4L349.3 107.6L349.4 107.9L349.5 107.5L349.6 107.8L349.7 107.4L349.8 106.7L349.9 106.6L350.0 106.0L350.1 105.3L350.2 104.1L350.3 102.7L350.4 100.8L350.5 98.7L350.6 96.0L350.7 92.9L350.8 89.4L350.9 85.7L351.0 82.0L351.1 78.7L351.2 76.5L351.3 75.9L351.4 76.3L351.5 78.8L351.6 81.9L351.7 85.7L351.8 89.5L351.9 92.9L352.0 96.1L352.1 98.8L352.2 100.9L352.3 102.7L352.4 104.1L352.5 105.4L352.6 106.0L352.7 106.7L352.8 107.2L352.9 107.5L353.0 108.0L353.1 107.9L353.2 108.3L353.3 108.5L353.4 109.0L353.5 108.7L353.6 109.2L353.7 109.2L353.8 109.3L353.9 109.3L354.0 109.7L354.1 109.3L354.2 109.2L354.3 109.3L354.4 109.4L354.5 109.7L354.6 109.3L354.7 109.9L354.8 109.8L354.9 109.9L355.0 109.9L355.1 109.9L355.2 109.7L355.3 109.7L355.4 109.7L355.5 109.6L355.6 109.7L355.7 110.2L355.8 110.2L355.9 110.0L356.0 109.9L356.1 110.3L356.2 110.0L356.3 110.1L356.4 110.0L356.5 110.1L356.6 110.1L356.7 110.3L356.8 110.4L356.9 110.0L357.0 110.2L357.1 110.4L357.2 110.4L357.3 110.2L357.4 110.2L357.5 110.1L357.6 110.4L357.7 110.3L357.8 110.4L357.9 110.3L358.0 110.5L358.1 110.4L358.2 110.3L358.3 110.3L358.4 110.3L358.5 110.2L358.6 110.6L358.7 110.1L358.8 110.3L358.9 110.2L359.0 110.1L359.1 110.6L359.2 110.3L359.3 110.4L359.4 110.5L359.5 110.0L359.6 110.2L359.7 110.6L359.8 110.3L359.9 110.3L360.0 110.8L360.1 110.4L360.2 110.6L360.3 110.1L360.4 110.7L360.5 110.6L360.6 110.5L360.7 110.5L360.8 110.4L360.9 110.1L361.0 110.3L361.1 110.3L361.2 110.3L361.3 110.4L361.4 110.4L361.5 110.2L361.6 110.3L361.7 110.1L361.8 110.2L361.9 110.1L362.0 109.8L362.1 110.2L362.2 110.1L362.3 110.1L362.4 109.8L362.5 109.9L362.6 109.7L362.7 109.6L362.8 109.5L362.9 109.4L363.0 109.9L363.1 109.7L363.2 109.8L363.3 109.4L363.4 109.5L363.5 109.2L363.6 109.3L363.7 109.2L363.8 109.5L363.9 109.5L364.0 109.6L364.1 109.1L364.2 109.4L364.3 109.6L364.4 109.1L364.5 109.8L364.6 109.5L364.7 110.0L364.8 109.6L364.9 109.9L365.0 109.9L365.1 109.8L365.2 109.9L365.3 110.3L365.4 110.2L365.5 110.5L365.6 110.6L365.7 110.2L365.8 110.6L365.9 110.7L366.0 110.8L366.1 110.7L366.2 110.6L366.3 110.4L366.4 111.1L366.5 111.0L366.6 110.7L366.7 111.1L366.8 110.7L366.9 111.2L367.0 111.1L367.1 111.0L367.2 111.3L367.3 111.3L367.4 110.9L367.5 111.3L367.6 110.9L367.7 111.1L367.8 111.1L367.9 111.2L368.0 111.3L368.1 111.3L368.2 111.1L368.3 111.4L368.4 111.0L368.5 111.0L368.6 111.4L368.7 111.3L368.8 111.6L368.9 111.3L369.0 111.1L369.1 111.2L369.2 111.0L369.3 111.6L369.4 111.6L369.5 111.1L369.6 111.3L369.7 111.3L369.8 111.3L369.9 111.3L370.0 111.6L370.1 111.4L370.2 111.2L370.3 111.7L370.4 111.3L370.5 111.5L370.6 111.5L370.7 111.6L370.8 111.5L370.9 111.7L371.0 111.3L371.1 111.7L371.2 111.3L371.3 111.7L371.4 111.2L371.5 111.5L371.6 111.4L371.7 111.3L371.8 111.7L371.9 111.6L372.0 111.6L372.1 111.5L372.2 111.7L372.3 111.5L372.4 111.4L372.5 111.6L372.6 111.7L372.7 111.7L372.8 111.3L372.9 111.8L373.0 111.6L373.1 111.7L373.2 111.6L373.3 111.5L373.4 112.0L373.5 111.9L373.6 111.7L373.7 111.5L373.8 111.4L373.9 111.7L374.0 111.7L374.1 111.3L374.2 111.5L374.3 111.7L374.4 111.8L374.5 111.9L374.6 111.8L374.7 111.3L374.8 111.9L374.9 111.7L375.0 111.7L375.1 111.7L375.2 111.6L375.3 111.8L375.4 111.3L375.5 111.4L375.6 111.6L375.7 111.9L375.8 111.3L375.9 111.7L376.0 111.7L376.1 111.9L376.2 111.8L376.3 111.5L376.4 112.0L376.5 111.9L376.6 111.5L376.7 111.7L376.8 111.7L376.9 111.6L377.0 111.6L377.1 111.6L377.2 111.7L377.3 112.0L377.4 111.8L377.5 111.5L377.6 111.6L377.7 111.9L377.8 111.5L377.9 111.5L378.0 111.8L378.1 111.4L378.2 111.8L378.3 111.5L378.4 111.6L378.5 111.6L378.6 111.7L378.7 111.5L378.8 111.6L378.9 111.7L379.0 111.9L379.1 111.5L379.2 111.9L379.3 112.0L379.4 111.8L379.5 111.5L379.6 111.7L379.7 111.7L379.8 111.8L379.9 111.7L380.0 111.5L380.1 111.5L380.2 111.4L380.3 111.5L380.4 111.8L380.5 111.8L380.6 111.4L380.7 111.5L380.8 111.7L380.9 111.6L381.0 111.6L381.1 111.8L381.2 111.7L381.3 111.5L381.4 111.8L381.5 111.5L381.6 111.5L381.7 111.5L381.8 111.4L381.9 111.5L382.0 111.3L382.1 111.8L382.2 111.6L382.3 112.0L382.4 111.4L382.5 111.6L382.6 111.8L382.7 111.5L382.8 111.7L382.9 111.7L383.0 111.5L383.1 111.8L383.2 111.6L383.3 111.7L383.4 111.8L383.5 111.2L383.6 112.0L383.7 111.5L383.8 111.8L383.9 111.8L384.0 111.8L384.1 111.7L384.2 111.8L384.3 111.7L384.4 111.4L384.5 111.9L384.6 111.4L384.7 111.4L384.8 111.5L384.9 111.6L385.0 111.9L385.1 111.4L385.2 111.9L385.3 111.4L385.4 111.6L385.5 111.5L385.6 111.8L385.7 111.7L385.8 111.4L385.9 111.6L386.0 111.7L386.1 111.4L386.2 111.4L386.3 111.5L386.4 111.4L386.5 111.4L386.6 111.3L386.7 111.6L386.8 111.4L386.9 111.8L387.0 111.7L387.1 111.9L387.2 111.8L387.3 111.8L387.4 111.9L387.5 111.9L387.6 111.9L387.7 111.4L387.8 111.8L387.9 111.6L388.0 111.5L388.1 111.9L388.2 111.7L388.3 111.8L388.4 111.9L388.5 111.5L388.6 111.8L388.7 111.4L388.8 111.4L388.9 111.5L389.0 111.5L389.1 111.3L389.2 111.8L389.3 111.8L389.4 111.6L389.5 111.5L389.6 111.8L389.7 111.7L389.8 111.5L389.9 111.4L390.0 111.9L390.1 111.8L390.2 111.5L390.3 111.6L390.4 111.6L390.5 111.7L390.6 111.8L390.7 111.7L390.8 111.5L390.9 111.5L391.0 111.4L391.1 111.6L391.2 111.8L391.3 111.4L391.4 111.6L391.5 111.3L391.6 111.4L391.7 111.7L391.8 111.3L391.9 111.6L392.0 111.4L392.1 111.3L392.2 111.7L392.3 111.5L392.4 111.6L392.5 111.7L392.6 111.7L392.7 111.2L392.8 111.6L392.9 111.4L393.0 111.5L393.1 111.3L393.2 111.5L393.3 111.2L393.4 111.7L393.5 111.4L393.6 111.5L393.7 111.3L393.8 111.5L393.9 111.3L394.0 111.5L394.1 111.3L394.2 111.3L394.3 111.3L394.4 111.2L394.5 111.4L394.6 111.1L394.7 111.5L394.8 111.3L394.9 110.9L395.0 111.2L395.1 111.1L395.2 110.9L395.3 111.3L395.4 110.9L395.5 111.2L395.6 111.5L395.7 111.2L395.8 111.2L395.9 111.0L396.0 111.4L396.1 111.2L396.2 110.9L396.3 111.0L396.4 111.1L396.5 110.8L396.6 111.0L396.7 111.3L396.8 111.3L396.9 110.9L397.0 111.3L397.1 111.1L397.2 111.2L397.3 110.9L397.4 111.2L397.5 111.0L397.6 110.8L397.7 110.9L397.8 110.9L397.9 110.9L398.0 111.2L398.1 110.6L398.2 110.9L398.3 111.0L398.4 111.1L398.5 110.5L398.6 111.1L398.7 110.5L398.8 110.6L398.9 110.4L399.0 110.6L399.1 110.9L399.2 110.9L399.3 110.7L399.4 110.8L399.5 110.7L399.6 110.3L399.7 110.4L399.8 110.4L399.9 110.9L400.0 110.5L400.1 110.7L400.2 110.8L400.3 110.4L400.4 110.3L400.5 110.3L400.6 110.4L400.7 110.3L400.8 110.0L400.9 109.8L401.0 110.0L401.1 110.1L401.2 109.7L401.3 109.7L401.4 109.5L401.5 109.2L401.6 108.6L401.7 108.5L401.8 108.1L401.9 107.5L402.0 106.9L402.1 106.1L402.2 105.4L402.3 104.5L402.4 103.7L402.5 103.0L402.6 102.4L402.7 101.7L402.8 101.1L402.9 101.6L403.0 101.8L403.1 102.1L403.2 102.7L403.3 103.4L403.4 104.2L403.5 105.1L403.6 106.0L403.7 106.7L403.8 107.7L403.9 108.0L404.0 108.6L404.1 109.1L404.2 109.4L404.3 109.7L404.4 110.3L404.5 109.9L404.6 110.2L404.7 110.7L404.8 110.3L404.9 110.8L405.0 110.5L405.1 110.7L405.2 110.3L405.3 110.8L405.4 110.3L405.5 110.8L405.6 110.2L405.7 110.5L405.8 110.5L405.9 110.5L406.0 110.8L406.1 110.7L406.2 110.4L406.3 110.7L406.4 110.4L406.5 110.8L406.6 110.5L406.7 110.5L406.8 110.2L406.9 110.4L407.0 110.3L407.1 110.6L407.2 110.7L407.3 110.4L407.4 110.7L407.5 110.7L407.6 110.2L407.7 110.6L407.8 110.1L407.9 110.1L408.0 110.0L408.1 110.2L408.2 110.0L408.3 110.1L408.4 110.3L408.5 110.3L408.6 109.9L408.7 110.3L408.8 110.0L408.9 110.0L409.0 109.7L409.1 109.9L409.2 109.3L409.3 109.4L409.4 109.0L409.5 108.8L409.6 108.6L409.7 107.8L409.8 107.1L409.9 105.9L410.0 104.4L410.1 102.4L410.2 99.7L410.3 96.6L410.4 93.0L410.5 89.3L410.6 85.8L410.7 83.1L410.8 81.8L410.9 82.3L411.0 84.3L411.1 87.0L411.2 89.9L411.3 92.5L411.4 95.0L411.5 96.9L411.6 98.9L411.7 100.6L411.8 102.1L411.9 103.6L412.0 105.0L412.1 106.0L412.2 107.0L412.3 107.7L412.4 108.4L412.5 108.8L412.6 109.1L412.7 109.2L412.8 109.5L412.9 109.8L413.0 110.0L413.1 110.2L413.2 110.1L413.3 110.4L413.4 110.1L413.5 110.4L413.6 110.4L413.7 110.1L413.8 110.1L413.9 110.0L414.0 110.2L414.1 110.3L414.2 110.4L414.3 110.7L414.4 110.4L414.5 110.5L414.6 110.8L414.7 110.6L414.8 110.7L414.9 110.7L415.0 110.6L415.1 110.8L415.2 110.3L415.3 110.6L415.4 110.3L415.5 110.6L415.6 110.3L415.7 110.4L415.8 110.5L415.9 110.0L416.0 109.9L416.1 110.0L416.2 109.8L416.3 109.9L416.4 109.7L416.5 109.7L416.6 109.8L416.7 109.3L416.8 109.0L416.9 109.4L417.0 109.2L417.1 109.6L417.2 108.8L417.3 109.3L417.4 109.2L417.5 109.7L417.6 109.2L417.7 109.3L417.8 109.4L417.9 109.8L418.0 110.0L418.1 110.0L418.2 109.9L418.3 109.9L418.4 110.1L418.5 110.6L418.6 110.5L418.7 110.2L418.8 110.8L418.9 110.6L419.0 110.5L419.1 110.8L419.2 110.5L419.3 110.5L419.4 110.9L419.5 111.0L419.6 111.0L419.7 110.5L419.8 111.0L419.9 110.7L420.0 111.0L420.1 110.7L420.2 110.8L420.3 111.1L420.4 110.8L420.5 110.7L420.6 110.7L420.7 110.8L420.8 110.6L420.9 111.1L421.0 111.1L421.1 110.6L421.2 110.9L421.3 110.7L421.4 111.0L421.5 110.7L421.6 111.2L421.7 110.9L421.8 110.6L421.9 111.1L422.0 110.7L422.1 111.2L422.2 110.9L422.3 110.7L422.4 111.1L422.5 110.6L422.6 111.0L422.7 110.7L422.8 110.5L422.9 110.5L423.0 111.1L423.1 110.8L423.2 110.7L423.3 110.7L423.4 111.0L423.5 110.7L423.6 111.0L423.7 111.0L423.8 110.4L423.9 110.6L424.0 110.4L424.1 110.5L424.2 110.6L424.3 110.3L424.4 110.4L424.5 110.4L424.6 109.9L424.7 109.8L424.8 109.7L424.9 109.5L425.0 109.4L425.1 109.1L425.2 109.0L425.3 108.6L425.4 108.2L425.5 108.3L425.6 108.1L425.7 107.7L425.8 107.8L425.9 107.8L426.0 107.8L426.1 107.8L426.2 108.0L426.3 108.4L426.4 108.6L426.5 108.7L426.6 109.0L426.7 109.0L426.8 109.2L426.9 109.7L427.0 109.5L427.1 110.0L427.2 110.2L427.3 109.9L427.4 110.4L427.5 110.4L427.6 110.4L427.7 110.3L427.8 110.6L427.9 110.6L428.0 110.5L428.1 110.4L428.2 110.6L428.3 110.9L428.4 110.9L428.5 110.9L428.6 110.6L428.7 110.8L428.8 110.6L428.9 110.9L429.0 110.6L429.1 111.2L429.2 111.1L429.3 110.7L429.4 111.0L429.5 111.1L429.6 110.8L429.7 111.2L429.8 111.2L429.9 111.2L430.0 110.8L430.1 111.0L430.2 111.1L430.3 110.8L430.4 110.7L430.5 110.7L430.6 110.9L430.7 110.8L430.8 111.1L430.9 110.8L431.0 110.9L431.1 110.8L431.2 110.9L431.3 110.9L431.4 111.0L431.5 111.1L431.6 111.0L431.7 111.2L431.8 111.1L431.9 111.0L432.0 111.2L432.1 111.0L432.2 111.3L432.3 110.9L432.4 111.2L432.5 110.7L432.6 111.2L432.7 111.3L432.8 110.9L432.9 111.0L433.0 111.2L433.1 110.7L433.2 111.1L433.3 111.0L433.4 111.1L433.5 110.7L433.6 110.8L433.7 110.7L433.8 111.2L433.9 110.9L434.0 111.0L434.1 110.8L434.2 110.8L434.3 111.0L434.4 110.8L434.5 110.7L434.6 111.2L434.7 111.2L434.8 111.2L434.9 111.1L435.0 110.7L435.1 111.1L435.2 110.9L435.3 110.9L435.4 110.7L435.5 110.8L435.6 110.5L435.7 111.0L435.8 110.5L435.9 110.9L436.0 111.2L436.1 111.0L436.2 111.1L436.3 111.4L436.4 111.5L436.5 110.8L436.6 110.0L436.7 108.7L436.8 107.3L436.9 105.7L437.0 104.2L437.1 102.6L437.2 101.5L437.3 101.0L437.4 100.7L437.5 101.4L437.6 102.0L437.7 103.1L437.8 104.5L437.9 105.8L438.0 107.2L438.1 108.2L438.2 108.8L438.3 109.4L438.4 109.7L438.5 110.3L438.6 110.3L438.7 110.4L438.8 110.5L438.9 110.7L439.0 110.9L439.1 110.5L439.2 110.9L439.3 111.1L439.4 110.6L439.5 111.0L439.6 110.9L439.7 110.6L439.8 111.2L439.9 111.2L440.0 111.0L440.1 111.0L440.2 111.1L440.3 111.1L440.4 111.0L440.5 111.2L440.6 111.0L440.7 110.7L440.8 110.9L440.9 111.2L441.0 110.8L441.1 110.8L441.2 111.2L441.3 111.1L441.4 110.7L441.5 111.0L441.6 111.1L441.7 110.7L441.8 111.4L441.9 110.9L442.0 110.9L442.1 110.9L442.2 111.1L442.3 110.8L442.4 111.1L442.5 111.2L442.6 111.3L442.7 110.9L442.8 111.3L442.9 111.2L443.0 110.8L443.1 110.8L443.2 111.3L443.3 110.8L443.4 110.9L443.5 110.9L443.6 110.9L443.7 110.8L443.8 110.9L443.9 110.8L444.0 111.0L444.1 110.9L444.2 111.0L444.3 110.9L444.4 110.6L444.5 110.9L444.6 111.2L444.7 111.0L444.8 111.1L444.9 110.9L445.0 111.2L445.1 111.2L445.2 110.8L445.3 110.9L445.4 111.1L445.5 111.3L445.6 111.1L445.7 111.3L445.8 110.9L445.9 110.9L446.0 110.7L446.1 111.0L446.2 110.6L446.3 110.7L446.4 110.8L446.5 110.9L446.6 111.0L446.7 111.2L446.8 110.6L446.9 110.9L447.0 111.1L447.1 111.1L447.2 111.0L447.3 110.5L447.4 110.7L447.5 111.0L447.6 110.5L447.7 110.8L447.8 110.6L447.9 110.6L448.0 110.7L448.1 110.8L448.2 110.8L448.3 110.6L448.4 110.4L448.5 110.4L448.6 110.0L448.7 110.0L448.8 110.2L448.9 109.7L449.0 109.5L449.1 109.6L449.2 109.2L449.3 109.4L449.4 109.0L449.5 109.0L449.6 109.0L449.7 108.4L449.8 108.8L449.9 108.3L450.0 108.3L450.1 108.1L450.2 107.7L450.3 108.5L450.4 108.0L450.5 108.2L450.6 108.2L450.7 108.5L450.8 108.5L450.9 108.9L451.0 108.4L451.1 108.6L451.2 109.0L451.3 108.9L451.4 109.1L451.5 108.7L451.6 108.7L451.7 108.4L451.8 108.2L451.9 107.9L452.0 107.9L452.1 107.4L452.2 107.0L452.3 106.6L452.4 106.2L452.5 105.5L452.6 105.0L452.7 104.3L452.8 103.9L452.9 103.2L453.0 102.9L453.1 102.5L453.2 101.8L453.3 102.7L453.4 102.5L453.5 102.7L453.6 102.8L453.7 103.6L453.8 104.1L453.9 104.8L454.0 105.3L454.1 106.0L454.2 106.4L454.3 107.1L454.4 107.4L454.5 108.0L454.6 108.5L454.7 108.7L454.8 109.0L454.9 109.6L455.0 109.8L455.1 110.0L455.2 110.2L455.3 110.0L455.4 110.4L455.5 110.6L455.6 110.5L455.7 110.6L455.8 110.6L455.9 110.5L456.0 111.1L456.1 110.7L456.2 111.0L456.3 111.2L456.4 110.8L456.5 111.2L456.6 110.7L456.7 111.2L456.8 111.2L456.9 110.7L457.0 111.2L457.1 111.1L457.2 111.0L457.3 111.1L457.4 111.0L457.5 111.2L457.6 111.1L457.7 111.4L457.8 111.1L457.9 111.2L458.0 110.9L458.1 111.3L458.2 111.3L458.3 110.8L458.4 111.0L458.5 111.2L458.6 111.1L458.7 111.0L458.8 111.6L458.9 111.5L459.0 111.3L459.1 111.3L459.2 111.3L459.3 111.0L459.4 111.2L459.5 111.3L459.6 111.5L459.7 111.2L459.8 111.4L459.9 111.0L460.0 111.3L460.1 110.9L460.2 111.2L460.3 111.0L460.4 111.0L460.5 111.3L460.6 111.4L460.7 111.4L460.8 111.3L460.9 111.1L461.0 110.9L461.1 111.1L461.2 110.8L461.3 110.7L461.4 110.9L461.5 110.6L461.6 110.9L461.7 110.5L461.8 110.4L461.9 110.6L462.0 110.6L462.1 110.5L462.2 110.5L462.3 110.6L462.4 111.1L462.5 111.0L462.6 111.0L462.7 111.0L462.8 110.9L462.9 111.0L463.0 111.2L463.1 111.2L463.2 111.0L463.3 111.1L463.4 111.5L463.5 111.4L463.6 111.3L463.7 111.6L463.8 111.3L463.9 111.5L464.0 111.4L464.1 111.4L464.2 111.9L464.3 111.4L464.4 111.7L464.5 111.8L464.6 111.4L464.7 111.8L464.8 111.9L464.9 111.7L465.0 111.9L465.1 111.9L465.2 111.7L465.3 111.7L465.4 112.0L465.5 111.8L465.6 112.1L465.7 111.5L465.8 111.7L465.9 111.7L466.0 112.0L466.1 111.8L466.2 111.6L466.3 112.1L466.4 112.0L466.5 111.9L466.6 111.6L466.7 111.8L466.8 111.9L466.9 112.0L467.0 111.9L467.1 112.1L467.2 111.7L467.3 111.9L467.4 112.1L467.5 111.9L467.6 111.7L467.7 112.0L467.8 112.1L467.9 112.1L468.0 112.2L468.1 111.7L468.2 112.2L468.3 112.1L468.4 112.2L468.5 112.2L468.6 111.9L468.7 112.1L468.8 112.2L468.9 112.3L469.0 112.0L469.1 111.8L469.2 112.0L469.3 112.1L469.4 111.9L469.5 112.4L469.6 112.1L469.7 112.0L469.8 112.3L469.9 111.9L470.0 111.8L470.1 111.9L470.2 112.3L470.3 112.2L470.4 112.3L470.5 112.0L470.6 111.9L470.7 111.9L470.8 112.1L470.9 112.0L471.0 112.0L471.1 112.3L471.2 112.0L471.3 112.2L471.4 111.9L471.5 112.2L471.6 111.9L471.7 112.1L471.8 111.8L471.9 112.2L472.0 112.3L472.1 112.0L472.2 111.9L472.3 112.1L472.4 111.9L472.5 112.2L472.6 111.9L472.7 112.1L472.8 112.2L472.9 112.1L473.0 112.1L473.1 112.2L473.2 112.2L473.3 111.7L473.4 111.9L473.5 112.2L473.6 112.1L473.7 112.1L473.8 112.0L473.9 112.2L474.0 112.1L474.1 111.9L474.2 112.2L474.3 112.1L474.4 112.2L474.5 112.1L474.6 111.9L474.7 112.1L474.8 111.9L474.9 111.9L475.0 112.1L475.1 111.9L475.2 112.2L475.3 112.2L475.4 112.1L475.5 111.7L475.6 112.1L475.7 111.8L475.8 111.7L475.9 111.9L476.0 111.8L476.1 112.1L476.2 112.1L476.3 112.0L476.4 112.2L476.5 111.6L476.6 112.0L476.7 111.8L476.8 111.6L476.9 111.6L477.0 112.1L477.1 112.0L477.2 111.4L477.3 111.5L477.4 111.4L477.5 111.3L477.6 111.1L477.7 110.8L477.8 110.8L477.9 110.9L478.0 110.5L478.1 110.4L478.2 109.8L478.3 109.6L478.4 109.2L478.5 109.0L478.6 109.2L478.7 109.1L478.8 109.0L478.9 109.3L479.0 109.5L479.1 109.6L479.2 109.7L479.3 110.4L479.4 110.6L479.5 110.8L479.6 111.0L479.7 111.2L479.8 111.5L479.9 111.3L480.0 111.7L480.1 111.5L480.2 111.6L480.3 111.9L480.4 111.6L480.5 111.7L480.6 111.8L480.7 111.6L480.8 111.8L480.9 111.6L481.0 111.6L481.1 111.8L481.2 111.6L481.3 111.8L481.4 111.9L481.5 111.8L481.6 111.5L481.7 111.6L481.8 111.8L481.9 111.6L482.0 111.5L482.1 111.9L482.2 111.5L482.3 111.9L482.4 111.7L482.5 111.6L482.6 112.1L482.7 111.7L482.8 111.8L482.9 111.9L483.0 111.8L483.1 112.0L483.2 111.6L483.3 111.7L483.4 111.9L483.5 111.7L483.6 111.8L483.7 111.8L483.8 111.8L483.9 111.8L484.0 111.7L484.1 111.8L484.2 111.5L484.3 111.8L484.4 111.6L484.5 112.0L484.6 112.0L484.7 111.6L484.8 111.7L484.9 111.7L485.0 111.7L485.1 111.9L485.2 111.7L485.3 111.9L485.4 111.6L485.5 111.5L485.6 111.8L485.7 111.6L485.8 111.6L485.9 111.8L486.0 111.4L486.1 111.7L486.2 111.6L486.3 111.9L486.4 111.7L486.5 111.6L486.6 111.7L486.7 111.4L486.8 111.9L486.9 111.5L487.0 112.0L487.1 111.7L487.2 111.5L487.3 111.9L487.4 111.8L487.5 111.6L487.6 111.7L487.7 111.9L487.8 112.0L487.9 111.4L488.0 111.6L488.1 111.5L488.2 111.8L488.3 111.7L488.4 111.8L488.5 111.8L488.6 111.4L488.7 111.6L488.8 111.9L488.9 111.8L489.0 111.4L489.1 111.4L489.2 111.5L489.3 111.4L489.4 111.4L489.5 111.6L489.6 111.5L489.7 111.8L489.8 111.7L489.9 111.6L490.0 111.7L490.1 111.7L490.2 111.7L490.3 111.8L490.4 111.9L490.5 111.4L490.6 111.4L490.7 111.9L490.8 111.3L490.9 111.3L491.0 111.8L491.1 111.6L491.2 111.4L491.3 111.2L491.4 111.4L491.5 111.5L491.6 111.3L491.7 111.2L491.8 111.2L491.9 111.2L492.0 111.5L492.1 111.2L492.2 111.2L492.3 111.0L492.4 110.7L492.5 110.6L492.6 110.1L492.7 109.9L492.8 109.6L492.9 109.2L493.0 108.5L493.1 108.3L493.2 107.7L493.3 107.6L493.4 107.7L493.5 107.8L493.6 107.6L493.7 107.7L493.8 108.0L493.9 108.3L494.0 108.8L494.1 109.1L494.2 109.5L494.3 109.8L494.4 110.3L494.5 110.5L494.6 110.5L494.7 110.7L494.8 111.2L494.9 111.1L495.0 111.4L495.1 111.3L495.2 111.3L495.3 111.2L495.4 111.1L495.5 111.6L495.6 111.3L495.7 111.3L495.8 111.8L495.9 111.6L496.0 111.8L496.1 111.5L496.2 111.3L496.3 111.8L496.4 111.4L496.5 111.8L496.6 111.4L496.7 111.4L496.8 111.6L496.9 111.6L497.0 111.6L497.1 111.6L497.2 111.6L497.3 111.5L497.4 111.9L497.5 111.5L497.6 111.7L497.7 112.0L497.8 111.6L497.9 111.4L498.0 111.4L498.1 112.0L498.2 111.5L498.3 111.8L498.4 111.8L498.5 111.5L498.6 111.4L498.7 111.8L498.8 111.6L498.9 111.5L499.0 111.4L499.1 111.8L499.2 111.7L499.3 111.7L499.4 111.9L499.5 111.9L499.6 111.6L499.7 111.6L499.8 111.6L499.9 111.7L500.0 111.5L500.1 111.6L500.2 111.4L500.3 111.6L500.4 111.8L500.5 111.4L500.6 111.9L500.7 111.8L500.8 111.9L500.9 111.3L501.0 111.7L501.1 111.6L501.2 111.7L501.3 111.8L501.4 111.3L501.5 111.4L501.6 111.3L501.7 111.4L501.8 111.6L501.9 111.4L502.0 111.6L502.1 111.3L502.2 111.2L502.3 111.3L502.4 111.7L502.5 111.6L502.6 111.2L502.7 111.4L502.8 111.4L502.9 111.2L503.0 111.3L503.1 111.3L503.2 111.4L503.3 111.2L503.4 111.0L503.5 111.2L503.6 111.3L503.7 111.0L503.8 111.0L503.9 110.9L504.0 111.1L504.1 110.8L504.2 111.3L504.3 111.2L504.4 111.1L504.5 110.8L504.6 110.8L504.7 111.1L504.8 110.6L504.9 110.7L505.0 111.0L505.1 110.7L505.2 111.0L505.3 110.6L505.4 111.0L505.5 110.5L505.6 110.5L505.7 110.3L505.8 110.3L505.9 110.4L506.0 110.2L506.1 110.8L506.2 110.8L506.3 110.4L506.4 110.6L506.5 110.5L506.6 110.2L506.7 110.1L506.8 110.4L506.9 110.0L507.0 110.5L507.1 110.5L507.2 110.6L507.3 110.1L507.4 110.4L507.5 110.5L507.6 110.2L507.7 109.9L507.8 110.0L507.9 109.9L508.0 110.2L508.1 110.2L508.2 110.0L508.3 110.0L508.4 110.3L508.5 110.3L508.6 110.2L508.7 109.9L508.8 110.0L508.9 109.6L509.0 110.1L509.1 109.7L509.2 109.5L509.3 109.9L509.4 109.8L509.5 109.6L509.6 109.4L509.7 110.0L509.8 109.8L509.9 109.5L510.0 109.5L510.1 109.6L510.2 109.8L510.3 109.2L510.4 109.3L510.5 109.4L510.6 109.5L510.7 109.3L510.8 109.7L510.9 109.2L511.0 109.4L511.1 109.5L511.2 109.0L511.3 109.4L511.4 109.4L511.5 109.0L511.6 109.3L511.7 109.0L511.8 109.4L511.9 109.3L512.0 109.0L512.1 109.2L512.2 109.5L512.3 108.9L512.4 109.3L512.5 109.1L512.6 109.4L512.7 109.2L512.8 109.3L512.9 108.7L513.0 108.8L513.1 109.1L513.2 108.9L513.3 108.7L513.4 108.7L513.5 108.6L513.6 108.5L513.7 108.7L513.8 108.6L513.9 108.4L514.0 108.6L514.1 108.8L514.2 108.6L514.3 108.8L514.4 109.0L514.5 108.8L514.6 108.7L514.7 108.9L514.8 108.9L514.9 108.4L515.0 108.3L515.1 108.9L515.2 108.4L515.3 108.5L515.4 108.3L515.5 108.4L515.6 108.6L515.7 108.4L515.8 108.7L515.9 108.4L516.0 108.4L516.1 108.4L516.2 108.0L516.3 108.6L516.4 108.3L516.5 108.6L516.6 108.1L516.7 107.8L516.8 108.2L516.9 107.9L517.0 108.2L517.1 107.9L517.2 108.1L517.3 107.8L517.4 108.3L517.5 108.1L517.6 108.2L517.7 108.2L517.8 108.4L517.9 108.3L518.0 108.3L518.1 108.1L518.2 108.0L518.3 107.9L518.4 108.2L518.5 107.5L518.6 108.0L518.7 107.7L518.8 107.7L518.9 108.1L519.0 107.7L519.1 107.5L519.2 107.5L519.3 107.8L519.4 107.8L519.5 107.4L519.6 107.5L519.7 107.4L519.8 107.2L519.9 106.9L520.0 106.5L520.1 106.0L520.2 105.6L520.3 105.3L520.4 104.7L520.5 104.1L520.6 103.4L520.7 102.8L520.8 101.8L520.9 101.2L521.0 100.3L521.1 99.7L521.2 99.5L521.3 99.2L521.4 99.1L521.5 99.1L521.6 99.8L521.7 100.5L521.8 101.4L521.9 101.9L522.0 102.8L522.1 103.5L522.2 104.2L522.3 104.8L522.4 105.4L522.5 105.9L522.6 106.1L522.7 106.4L522.8 106.8L522.9 107.3L523.0 107.0L523.1 107.1L523.2 107.5L523.3 107.3L523.4 107.5L523.5 107.6L523.6 108.1L523.7 107.7L523.8 107.6L523.9 107.6L524.0 107.9L524.1 108.3L524.2 108.3L524.3 108.1L524.4 108.2L524.5 108.1L524.6 107.8L524.7 108.4L524.8 107.8L524.9 108.0L525.0 108.3L525.1 108.1L525.2 107.8L525.3 108.1L525.4 108.3L525.5 107.8L525.6 108.2L525.7 108.4L525.8 107.9L525.9 108.6L526.0 108.2L526.1 108.1L526.2 108.0L526.3 107.8L526.4 108.6L526.5 108.1L526.6 108.4L526.7 108.5L526.8 108.0L526.9 108.1L527.0 108.0L527.1 108.0L527.2 108.5L527.3 108.2L527.4 108.1L527.5 108.2L527.6 108.1L527.7 108.0L527.8 107.8L527.9 107.7L528.0 107.7L528.1 107.7L528.2 107.7L528.3 107.5L528.4 108.0L528.5 107.9L528.6 107.2L528.7 107.4L528.8 107.4L528.9 107.5L529.0 107.7L529.1 106.9L529.2 107.2L529.3 107.2L529.4 107.2L529.5 107.3L529.6 106.9L529.7 106.9L529.8 106.6L529.9 107.2L530.0 107.2" stroke="#0000ff" stroke-width="1.1" fill="none" stroke-linejoin="round"/><path d="M70.0 90.0L70.1 89.8L70.2 90.5L70.3 90.3L70.4 88.3L70.5 90.3L70.6 90.0L70.7 89.8L70.8 89.5L70.9 90.2L71.0 90.1L71.1 88.3L71.2 87.5L71.3 88.9L71.4 89.8L71.5 88.5L71.6 88.6L71.7 89.9L71.8 89.1L71.9 89.5L72.0 89.1L72.1 89.1L72.2 88.7L72.3 89.7L72.4 88.4L72.5 88.7L72.6 88.6L72.7 89.6L72.8 89.4L72.9 90.5L73.0 89.3L73.1 90.5L73.2 89.3L73.3 90.8L73.4 90.9L73.5 89.9L73.6 90.3L73.7 89.6L73.8 91.0L73.9 91.0L74.0 90.7L74.1 90.9L74.2 90.9L74.3 91.7L74.4 90.6L74.5 91.9L74.6 91.6L74.7 91.0L74.8 92.5L74.9 92.0L75.0 91.9L75.1 92.2L75.2 91.7L75.3 91.9L75.4 90.8L75.5 92.2L75.6 91.7L75.7 92.4L75.8 92.5L75.9 93.0L76.0 92.5L76.1 91.0L76.2 90.7L76.3 91.3L76.4 91.2L76.5 90.7L76.6 90.5L76.7 90.0L76.8 88.6L76.9 88.5L77.0 87.5L77.1 86.7L77.2 86.4L77.3 84.8L77.4 84.2L77.5 83.5L77.6 83.2L77.7 83.0L77.8 82.9L77.9 82.8L78.0 82.3L78.1 81.8L78.2 81.8L78.3 83.0L78.4 83.5L78.5 84.1L78.6 84.9L78.7 85.8L78.8 86.3L78.9 87.1L79.0 87.7L79.1 88.7L79.2 89.8L79.3 90.2L79.4 90.7L79.5 91.0L79.6 91.4L79.7 92.3L79.8 92.7L79.9 93.4L80.0 93.6L80.1 92.1L80.2 92.1L80.3 94.1L80.4 92.8L80.5 93.1L80.6 93.6L80.7 93.1L80.8 91.9L80.9 92.3L81.0 91.9L81.1 91.7L81.2 90.5L81.3 90.8L81.4 89.4L81.5 88.7L81.6 87.7L81.7 86.3L81.8 85.1L81.9 84.6L82.0 84.2L82.1 83.8L82.2 83.8L82.3 82.9L82.4 84.1L82.5 84.2L82.6 85.5L82.7 86.9L82.8 87.5L82.9 88.9L83.0 90.1L83.1 90.9L83.2 91.8L83.3 92.3L83.4 91.9L83.5 92.3L83.6 92.6L83.7 93.0L83.8 93.2L83.9 94.7L84.0 94.7L84.1 93.3L84.2 94.0L84.3 95.0L84.4 94.3L84.5 94.5L84.6 95.1L84.7 95.2L84.8 93.6L84.9 95.2L85.0 94.2L85.1 93.2L85.2 93.5L85.3 94.4L85.4 92.9L85.5 92.7L85.6 92.8L85.7 91.8L85.8 91.6L85.9 90.4L86.0 89.5L86.1 89.4L86.2 88.1L86.3 88.5L86.4 87.7L86.5 87.6L86.6 86.3L86.7 87.6L86.8 87.9L86.9 88.2L87.0 89.0L87.1 89.6L87.2 90.1L87.3 91.2L87.4 91.7L87.5 92.6L87.6 92.6L87.7 93.0L87.8 93.6L87.9 93.6L88.0 94.7L88.1 95.5L88.2 95.4L88.3 96.1L88.4 95.5L88.5 95.3L88.6 95.1L88.7 95.0L88.8 96.6L88.9 96.4L89.0 96.5L89.1 95.0L89.2 96.0L89.3 95.6L89.4 95.9L89.5 95.9L89.6 94.5L89.7 94.9L89.8 94.8L89.9 94.9L90.0 95.3L90.1 94.5L90.2 95.7L90.3 97.0L90.4 95.5L90.5 94.8L90.6 96.6L90.7 96.8L90.8 96.6L90.9 94.5L91.0 96.2L91.1 95.3L91.2 96.7L91.3 95.4L91.4 95.0L91.5 96.7L91.6 96.3L91.7 96.1L91.8 95.7L91.9 95.7L92.0 95.9L92.1 95.6L92.2 95.3L92.3 95.0L92.4 95.5L92.5 94.7L92.6 94.7L92.7 94.5L92.8 96.1L92.9 95.3L93.0 94.2L93.1 93.9L93.2 95.5L93.3 95.9L93.4 94.1L93.5 95.0L93.6 94.6L93.7 94.2L93.8 94.8L93.9 95.1L94.0 95.7L94.1 93.8L94.2 94.6L94.3 93.7L94.4 93.8L94.5 94.1L94.6 94.7L94.7 94.6L94.8 93.9L94.9 95.1L95.0 94.5L95.1 94.4L95.2 96.0L95.3 95.5L95.4 94.8L95.5 96.1L95.6 96.7L95.7 96.4L95.8 95.3L95.9 96.4L96.0 96.0L96.1 96.1L96.2 95.5L96.3 95.9L96.4 97.4L96.5 96.6L96.6 96.1L96.7 96.6L96.8 97.0L96.9 96.3L97.0 97.5L97.1 97.2L97.2 97.4L97.3 97.7L97.4 98.1L97.5 98.3L97.6 97.7L97.7 98.5L97.8 98.4L97.9 96.9L98.0 97.2L98.1 97.4L98.2 97.7L98.3 96.7L98.4 97.6L98.5 98.4L98.6 97.8L98.7 97.9L98.8 98.0L98.9 97.9L99.0 96.6L99.1 97.8L99.2 98.3L99.3 97.4L99.4 98.9L99.5 99.0L99.6 97.7L99.7 99.2L99.8 97.5L99.9 97.9L100.0 99.2L100.1 96.9L100.2 98.0L100.3 97.9L100.4 97.9L100.5 98.2L100.6 98.3L100.7 98.9L100.8 97.2L100.9 97.4L101.0 98.7L101.1 98.2L101.2 98.7L101.3 98.9L101.4 99.0L101.5 97.7L101.6 97.5L101.7 98.7L101.8 97.1L101.9 98.5L102.0 98.6L102.1 98.2L102.2 99.2L102.3 97.2L102.4 97.4L102.5 99.0L102.6 98.8L102.7 97.3L102.8 99.1L102.9 98.8L103.0 97.4L103.1 98.1L103.2 98.5L103.3 98.2L103.4 97.8L103.5 97.2L103.6 97.6L103.7 97.8L103.8 97.8L103.9 97.6L104.0 98.0L104.1 97.6L104.2 98.1L104.3 98.5L104.4 98.0L104.5 97.9L104.6 99.3L104.7 99.3L104.8 97.6L104.9 97.4L105.0 98.5L105.1 97.3L105.2 98.9L105.3 98.1L105.4 99.6L105.5 98.0L105.6 98.8L105.7 97.5L105.8 97.6L105.9 97.7L106.0 99.7L106.1 99.3L106.2 98.8L106.3 99.3L106.4 99.3L106.5 98.2L106.6 99.5L106.7 97.8L106.8 99.9L106.9 97.3L107.0 98.7L107.1 98.7L107.2 98.8L107.3 97.2L107.4 98.1L107.5 99.6L107.6 97.7L107.7 98.1L107.8 98.8L107.9 99.8L108.0 97.8L108.1 98.0L108.2 97.8L108.3 99.8L108.4 98.0L108.5 99.1L108.6 97.4L108.7 98.4L108.8 98.9L108.9 99.0L109.0 99.0L109.1 98.3L109.2 97.9L109.3 98.3L109.4 98.6L109.5 98.5L109.6 97.8L109.7 99.3L109.8 97.8L109.9 98.4L110.0 98.4L110.1 97.9L110.2 99.2L110.3 97.9L110.4 99.2L110.5 97.3L110.6 97.3L110.7 98.6L110.8 98.5L110.9 98.6L111.0 99.1L111.1 99.0L111.2 99.2L111.3 98.8L111.4 99.1L111.5 98.9L111.6 99.3L111.7 99.0L111.8 97.9L111.9 98.3L112.0 98.6L112.1 98.3L112.2 98.4L112.3 98.0L112.4 97.6L112.5 99.3L112.6 97.9L112.7 97.2L112.8 97.6L112.9 98.5L113.0 97.0L113.1 97.9L113.2 96.2L113.3 95.8L113.4 95.6L113.5 94.2L113.6 93.4L113.7 91.4L113.8 89.8L113.9 88.1L114.0 85.7L114.1 83.7L114.2 81.7L114.3 79.6L114.4 77.9L114.5 77.5L114.6 76.2L114.7 77.1L114.8 78.0L114.9 80.0L115.0 81.5L115.1 83.7L115.2 85.9L115.3 87.8L115.4 89.9L115.5 91.8L115.6 93.5L115.7 94.3L115.8 95.4L115.9 96.0L116.0 96.9L116.1 97.2L116.2 97.4L116.3 97.9L116.4 98.5L116.5 98.6L116.6 98.6L116.7 97.7L116.8 98.9L116.9 98.1L117.0 99.3L117.1 99.1L117.2 98.2L117.3 99.6L117.4 98.9L117.5 99.4L117.6 99.2L117.7 99.0L117.8 97.9L117.9 98.6L118.0 99.9L118.1 99.4L118.2 98.9L118.3 99.9L118.4 99.7L118.5 98.6L118.6 99.3L118.7 98.2L118.8 98.0L118.9 98.9L119.0 99.6L119.1 99.4L119.2 98.5L119.3 98.7L119.4 99.5L119.5 99.3L119.6 99.6L119.7 97.7L119.8 99.5L119.9 99.4L120.0 98.6L120.1 99.7L120.2 99.1L120.3 99.4L120.4 99.8L120.5 99.0L120.6 99.5L120.7 99.0L120.8 99.8L120.9 99.1L121.0 98.0L121.1 98.0L121.2 99.7L121.3 99.4L121.4 98.0L121.5 99.5L121.6 99.4L121.7 99.0L121.8 99.3L121.9 99.7L122.0 98.3L122.1 97.6L122.2 99.3L122.3 98.3L122.4 99.3L122.5 98.9L122.6 98.9L122.7 99.2L122.8 97.9L122.9 97.7L123.0 98.8L123.1 97.8L123.2 98.7L123.3 97.9L123.4 99.6L123.5 98.9L123.6 98.7L123.7 99.1L123.8 97.6L123.9 98.4L124.0 98.3L124.1 97.2L124.2 97.4L124.3 98.4L124.4 97.7L124.5 98.7L124.6 97.9L124.7 97.8L124.8 96.6L124.9 98.6L125.0 97.7L125.1 97.3L125.2 97.2L125.3 97.0L125.4 98.3L125.5 97.5L125.6 97.8L125.7 97.6L125.8 98.9L125.9 98.0L126.0 97.7L126.1 99.0L126.2 98.6L126.3 99.3L126.4 98.6L126.5 97.6L126.6 98.1L126.7 98.8L126.8 97.7L126.9 98.3L127.0 97.3L127.1 98.7L127.2 98.7L127.3 98.0L127.4 98.7L127.5 98.0L127.6 98.7L127.7 99.2L127.8 99.0L127.9 98.6L128.0 97.8L128.1 99.8L128.2 98.8L128.3 98.7L128.4 97.8L128.5 99.6L128.6 99.8L128.7 99.4L128.8 98.6L128.9 99.1L129.0 99.4L129.1 99.8L129.2 99.1L129.3 99.2L129.4 100.0L129.5 98.7L129.6 98.5L129.7 99.5L129.8 99.4L129.9 98.6L130.0 99.8L130.1 99.6L130.2 98.0L130.3 99.1L130.4 99.5L130.5 99.7L130.6 99.5L130.7 98.0L130.8 98.2L130.9 100.0L131.0 100.0L131.1 98.4L131.2 99.2L131.3 99.6L131.4 99.1L131.5 98.6L131.6 99.1L131.7 100.2L131.8 99.4L131.9 97.9L132.0 98.3L132.1 98.4L132.2 99.3L132.3 98.9L132.4 99.7L132.5 98.5L132.6 99.9L132.7 99.3L132.8 100.2L132.9 99.5L133.0 99.2L133.1 100.1L133.2 99.0L133.3 99.1L133.4 99.2L133.5 97.9L133.6 98.8L133.7 98.1L133.8 98.6L133.9 98.6L134.0 98.7L134.1 99.5L134.2 99.3L134.3 99.2L134.4 98.3L134.5 98.8L134.6 98.5L134.7 100.1L134.8 98.5L134.9 99.6L135.0 99.3L135.1 98.1L135.2 100.0L135.3 99.4L135.4 99.1L135.5 100.1L135.6 99.1L135.7 99.0L135.8 98.8L135.9 100.0L136.0 98.8L136.1 99.9L136.2 99.9L136.3 99.4L136.4 99.5L136.5 98.7L136.6 99.3L136.7 99.2L136.8 100.3L136.9 99.6L137.0 100.2L137.1 99.0L137.2 98.6L137.3 98.4L137.4 99.5L137.5 98.8L137.6 98.9L137.7 99.5L137.8 99.4L137.9 100.1L138.0 100.3L138.1 98.6L138.2 99.3L138.3 100.4L138.4 99.0L138.5 99.5L138.6 99.3L138.7 99.7L138.8 99.7L138.9 98.9L139.0 98.7L139.1 99.5L139.2 100.2L139.3 99.1L139.4 99.1L139.5 98.7L139.6 100.3L139.7 98.6L139.8 99.0L139.9 98.5L140.0 99.4L140.1 99.3L140.2 98.4L140.3 99.4L140.4 98.6L140.5 98.6L140.6 98.6L140.7 100.2L140.8 100.0L140.9 98.7L141.0 98.2L141.1 98.1L141.2 98.7L141.3 98.1L141.4 99.4L141.5 99.3L141.6 98.7L141.7 98.1L141.8 99.8L141.9 98.5L142.0 98.3L142.1 99.9L142.2 99.5L142.3 99.6L142.4 98.5L142.5 99.3L142.6 99.4L142.7 99.5L142.8 99.7L142.9 98.9L143.0 99.5L143.1 99.6L143.2 98.1L143.3 98.9L143.4 99.6L143.5 99.4L143.6 99.0L143.7 98.4L143.8 99.0L143.9 98.5L144.0 97.9L144.1 98.6L144.2 98.9L144.3 97.7L144.4 97.1L144.5 97.0L144.6 97.2L144.7 97.6L144.8 97.5L144.9 96.9L145.0 97.6L145.1 98.0L145.2 98.2L145.3 97.6L145.4 98.8L145.5 96.7L145.6 98.3L145.7 96.3L145.8 97.5L145.9 96.7L146.0 97.8L146.1 97.3L146.2 97.4L146.3 96.3L146.4 95.9L146.5 97.0L146.6 96.5L146.7 96.1L146.8 95.7L146.9 95.5L147.0 96.0L147.1 94.4L147.2 94.7L147.3 95.1L147.4 93.6L147.5 93.9L147.6 93.6L147.7 92.7L147.8 92.1L147.9 91.7L148.0 91.7L148.1 90.9L148.2 90.2L148.3 88.9L148.4 88.5L148.5 87.2L148.6 86.5L148.7 85.5L148.8 84.4L148.9 83.1L149.0 81.9L149.1 80.5L149.2 79.9L149.3 78.6L149.4 78.0L149.5 76.5L149.6 76.1L149.7 76.3L149.8 75.9L149.9 76.1L150.0 76.1L150.1 76.3L150.2 76.6L150.3 77.8L150.4 78.7L150.5 79.4L150.6 80.3L150.7 81.3L150.8 82.6L150.9 83.2L151.0 84.5L151.1 84.8L151.2 86.0L151.3 86.4L151.4 87.5L151.5 87.2L151.6 88.1L151.7 88.6L151.8 88.5L151.9 88.8L152.0 89.2L152.1 90.2L152.2 90.8L152.3 90.3L152.4 90.7L152.5 90.5L152.6 91.5L152.7 90.8L152.8 91.5L152.9 92.6L153.0 92.2L153.1 91.9L153.2 92.8L153.3 91.7L153.4 93.2L153.5 93.2L153.6 93.0L153.7 92.6L153.8 92.1L153.9 93.5L154.0 93.5L154.1 94.3L154.2 92.8L154.3 93.3L154.4 94.1L154.5 93.9L154.6 93.7L154.7 92.7L154.8 94.7L154.9 93.3L155.0 94.2L155.1 94.0L155.2 94.4L155.3 94.8L155.4 94.0L155.5 94.3L155.6 93.1L155.7 94.7L155.8 93.9L155.9 93.3L156.0 93.4L156.1 93.8L156.2 93.5L156.3 93.7L156.4 94.4L156.5 94.4L156.6 93.9L156.7 94.1L156.8 94.7L156.9 94.6L157.0 94.1L157.1 94.2L157.2 95.7L157.3 93.7L157.4 94.6L157.5 94.2L157.6 95.2L157.7 95.1L157.8 96.1L157.9 95.4L158.0 95.3L158.1 94.2L158.2 94.2L158.3 95.3L158.4 95.9L158.5 96.2L158.6 95.9L158.7 96.3L158.8 95.8L158.9 95.5L159.0 95.2L159.1 96.4L159.2 96.6L159.3 95.8L159.4 94.4L159.5 95.1L159.6 96.1L159.7 95.7L159.8 95.5L159.9 96.2L160.0 95.9L160.1 95.5L160.2 93.8L160.3 95.5L160.4 94.7L160.5 95.4L160.6 94.1L160.7 95.0L160.8 94.3L160.9 94.7L161.0 95.9L161.1 95.5L161.2 95.3L161.3 95.6L161.4 93.8L161.5 95.0L161.6 94.7L161.7 95.0L161.8 93.8L161.9 94.1L162.0 94.2L162.1 93.6L162.2 93.5L162.3 93.2L162.4 92.4L162.5 91.9L162.6 91.4L162.7 90.6L162.8 89.8L162.9 88.4L163.0 86.8L163.1 85.9L163.2 85.2L163.3 85.1L163.4 85.0L163.5 85.8L163.6 86.9L163.7 87.6L163.8 89.1L163.9 89.8L164.0 91.3L164.1 91.8L164.2 91.9L164.3 91.8L164.4 92.6L164.5 91.6L164.6 92.4L164.7 93.0L164.8 91.7L164.9 92.7L165.0 92.5L165.1 91.4L165.2 91.2L165.3 90.4L165.4 89.1L165.5 87.7L165.6 86.0L165.7 83.8L165.8 81.3L165.9 78.2L166.0 74.9L166.1 71.1L166.2 67.3L166.3 64.1L166.4 61.7L166.5 60.3L166.6 62.1L166.7 64.4L166.8 67.6L166.9 71.3L167.0 75.2L167.1 78.6L167.2 81.7L167.3 84.5L167.4 86.7L167.5 88.3L167.6 89.9L167.7 91.0L167.8 91.4L167.9 92.2L168.0 92.5L168.1 93.3L168.2 93.3L168.3 93.4L168.4 94.0L168.5 93.7L168.6 93.6L168.7 95.0L168.8 94.0L168.9 95.1L169.0 94.7L169.1 94.9L169.2 95.7L169.3 94.2L169.4 94.1L169.5 94.9L169.6 96.2L169.7 94.8L169.8 95.2L169.9 95.4L170.0 94.0L170.1 94.9L170.2 95.3L170.3 96.3L170.4 95.3L170.5 95.2L170.6 94.3L170.7 94.6L170.8 94.4L170.9 94.4L171.0 93.8L171.1 94.1L171.2 94.1L171.3 93.8L171.4 93.3L171.5 95.5L171.6 93.9L171.7 93.9L171.8 94.4L171.9 94.4L172.0 94.0L172.1 93.2L172.2 93.6L172.3 93.1L172.4 93.6L172.5 92.8L172.6 93.4L172.7 92.3L172.8 91.7L172.9 92.2L173.0 90.8L173.1 91.3L173.2 90.7L173.3 89.4L173.4 88.5L173.5 87.5L173.6 86.9L173.7 85.8L173.8 84.3L173.9 83.3L174.0 81.8L174.1 80.5L174.2 79.2L174.3 77.7L174.4 76.8L174.5 75.9L174.6 75.8L174.7 76.3L174.8 76.5L174.9 77.3L175.0 77.9L175.1 78.7L175.2 79.8L175.3 81.1L175.4 82.7L175.5 83.1L175.6 84.4L175.7 84.6L175.8 85.8L175.9 85.8L176.0 85.9L176.1 87.1L176.2 87.2L176.3 86.2L176.4 87.3L176.5 86.6L176.6 88.8L176.7 87.1L176.8 87.3L176.9 87.6L177.0 87.9L177.1 88.3L177.2 87.1L177.3 87.2L177.4 87.7L177.5 87.3L177.6 87.2L177.7 87.3L177.8 87.2L177.9 85.5L178.0 85.9L178.1 85.2L178.2 85.6L178.3 84.2L178.4 84.2L178.5 83.9L178.6 82.8L178.7 82.4L178.8 81.7L178.9 80.3L179.0 79.8L179.1 78.3L179.2 76.9L179.3 75.3L179.4 73.5L179.5 71.0L179.6 68.7L179.7 65.7L179.8 62.6L179.9 59.0L180.0 55.0L180.1 50.7L180.2 46.7L180.3 42.5L180.4 38.8L180.5 35.6L180.6 33.9L180.7 32.6L180.8 33.8L180.9 35.7L181.0 39.1L181.1 42.8L181.2 47.0L181.3 51.4L181.4 55.6L181.5 59.7L181.6 63.4L181.7 66.6L181.8 69.4L181.9 72.3L182.0 74.7L182.1 76.6L182.2 78.7L182.3 79.6L182.4 81.3L182.5 82.1L182.6 83.7L182.7 84.7L182.8 84.9L182.9 85.8L183.0 86.5L183.1 86.8L183.2 87.4L183.3 86.7L183.4 87.7L183.5 87.6L183.6 86.7L183.7 85.9L183.8 84.6L183.9 83.1L184.0 81.6L184.1 79.6L184.2 80.3L184.3 80.8L184.4 82.2L184.5 84.2L184.6 86.4L184.7 88.2L184.8 89.2L184.9 90.7L185.0 91.4L185.1 91.4L185.2 92.6L185.3 92.5L185.4 91.7L185.5 93.5L185.6 92.3L185.7 94.1L185.8 93.3L185.9 92.3L186.0 93.0L186.1 92.8L186.2 94.1L186.3 94.4L186.4 93.7L186.5 94.3L186.6 94.4L186.7 94.8L186.8 94.2L186.9 93.7L187.0 94.1L187.1 95.1L187.2 94.0L187.3 95.2L187.4 93.6L187.5 95.8L187.6 94.8L187.7 95.4L187.8 94.8L187.9 94.9L188.0 95.5L188.1 93.9L188.2 94.1L188.3 94.5L188.4 94.2L188.5 93.9L188.6 93.9L188.7 93.5L188.8 94.3L188.9 93.3L189.0 92.2L189.1 91.7L189.2 89.9L189.3 88.7L189.4 86.5L189.5 83.8L189.6 80.9L189.7 77.4L189.8 73.6L189.9 70.0L190.0 67.1L190.1 64.7L190.2 63.6L190.3 65.3L190.4 67.7L190.5 71.0L190.6 75.0L190.7 79.0L190.8 82.7L190.9 86.2L191.0 89.0L191.1 91.3L191.2 93.3L191.3 95.3L191.4 96.3L191.5 97.9L191.6 98.6L191.7 99.0L191.8 99.4L191.9 100.5L192.0 100.2L192.1 100.6L192.2 100.8L192.3 101.9L192.4 102.1L192.5 102.2L192.6 102.9L192.7 102.2L192.8 103.3L192.9 103.1L193.0 103.3L193.1 103.2L193.2 102.6L193.3 103.1L193.4 102.8L193.5 103.9L193.6 104.0L193.7 104.4L193.8 103.4L193.9 102.4L194.0 103.9L194.1 103.0L194.2 103.8L194.3 103.2L194.4 103.6L194.5 102.7L194.6 103.8L194.7 102.8L194.8 103.3L194.9 103.1L195.0 102.6L195.1 101.6L195.2 101.9L195.3 101.5L195.4 101.0L195.5 100.5L195.6 101.3L195.7 100.6L195.8 100.0L195.9 99.2L196.0 100.2L196.1 100.7L196.2 99.8L196.3 101.2L196.4 100.5L196.5 100.9L196.6 102.0L196.7 101.6L196.8 102.7L196.9 102.5L197.0 102.5L197.1 103.5L197.2 102.9L197.3 103.3L197.4 104.3L197.5 104.5L197.6 104.3L197.7 104.9L197.8 104.2L197.9 104.9L198.0 104.9L198.1 105.5L198.2 104.3L198.3 105.0L198.4 104.4L198.5 104.5L198.6 104.9L198.7 105.4L198.8 105.3L198.9 104.8L199.0 105.1L199.1 106.1L199.2 104.3L199.3 105.2L199.4 106.2L199.5 105.6L199.6 105.5L199.7 104.8L199.8 105.0L199.9 106.2L200.0 105.5L200.1 105.2L200.2 106.2L200.3 105.8L200.4 105.9L200.5 104.8L200.6 105.3L200.7 105.6L200.8 104.9L200.9 106.2L201.0 104.9L201.1 105.1L201.2 105.7L201.3 104.4L201.4 105.3L201.5 105.4L201.6 104.3L201.7 104.5L201.8 104.6L201.9 104.9L202.0 105.6L202.1 104.7L202.2 105.6L202.3 105.1L202.4 106.2L202.5 105.2L202.6 105.1L202.7 105.9L202.8 105.7L202.9 106.8L203.0 106.1L203.1 106.6L203.2 106.0L203.3 106.2L203.4 106.5L203.5 106.9L203.6 105.9L203.7 106.8L203.8 106.7L203.9 106.9L204.0 105.9L204.1 107.1L204.2 106.6L204.3 107.2L204.4 106.8L204.5 107.4L204.6 107.5L204.7 107.1L204.8 107.7L204.9 106.9L205.0 106.7L205.1 107.3L205.2 106.2L205.3 107.4L205.4 107.2L205.5 108.1L205.6 106.4L205.7 106.6L205.8 107.8L205.9 107.1L206.0 106.7L206.1 107.5L206.2 107.2L206.3 107.3L206.4 106.8L206.5 106.5L206.6 107.7L206.7 107.6L206.8 107.9L206.9 107.3L207.0 106.9L207.1 106.7L207.2 107.3L207.3 107.7L207.4 107.9L207.5 107.2L207.6 106.9L207.7 106.8L207.8 108.1L207.9 107.8L208.0 107.5L208.1 108.1L208.2 107.5L208.3 107.2L208.4 107.6L208.5 107.1L208.6 107.7L208.7 106.6L208.8 107.3L208.9 106.2L209.0 106.2L209.1 106.8L209.2 107.1L209.3 106.1L209.4 106.8L209.5 106.3L209.6 106.3L209.7 106.3L209.8 106.0L209.9 105.2L210.0 104.7L210.1 104.1L210.2 103.6L210.3 102.5L210.4 100.9L210.5 98.6L210.6 95.6L210.7 91.6L210.8 86.4L210.9 80.2L211.0 73.1L211.1 65.8L211.2 59.0L211.3 53.9L211.4 51.4L211.5 54.0L211.6 59.1L211.7 65.9L211.8 73.3L211.9 80.4L212.0 86.7L212.1 91.8L212.2 95.9L212.3 98.9L212.4 101.0L212.5 102.7L212.6 103.8L212.7 104.5L212.8 104.8L212.9 106.0L213.0 106.2L213.1 106.3L213.2 106.9L213.3 106.7L213.4 106.4L213.5 107.4L213.6 107.5L213.7 107.3L213.8 107.6L213.9 107.7L214.0 107.3L214.1 107.1L214.2 108.0L214.3 107.5L214.4 108.2L214.5 107.7L214.6 107.9L214.7 108.4L214.8 107.6L214.9 107.8L215.0 108.4L215.1 108.1L215.2 108.7L215.3 107.7L215.4 107.4L215.5 108.8L215.6 107.8L215.7 107.8L215.8 107.8L215.9 108.3L216.0 109.0L216.1 108.3L216.2 108.6L216.3 107.7L216.4 108.4L216.5 107.9L216.6 107.8L216.7 107.9L216.8 108.0L216.9 108.4L217.0 107.4L217.1 107.6L217.2 108.5L217.3 107.5L217.4 107.2L217.5 107.9L217.6 106.8L217.7 106.5L217.8 106.0L217.9 105.1L218.0 103.5L218.1 101.5L218.2 98.9L218.3 96.0L218.4 92.4L218.5 88.9L218.6 85.8L218.7 83.7L218.8 83.3L218.9 83.4L219.0 85.9L219.1 89.1L219.2 92.5L219.3 96.0L219.4 99.1L219.5 101.4L219.6 103.7L219.7 105.1L219.8 106.1L219.9 106.7L220.0 107.6L220.1 107.7L220.2 108.2L220.3 107.7L220.4 108.8L220.5 109.0L220.6 109.2L220.7 109.1L220.8 108.0L220.9 109.2L221.0 108.0L221.1 108.1L221.2 109.0L221.3 109.0L221.4 107.8L221.5 107.9L221.6 107.8L221.7 107.9L221.8 107.2L221.9 106.4L222.0 106.2L222.1 105.7L222.2 104.3L222.3 103.5L222.4 102.2L222.5 100.5L222.6 98.8L222.7 96.7L222.8 94.3L222.9 91.5L223.0 88.2L223.1 84.8L223.2 80.8L223.3 76.5L223.4 71.7L223.5 66.6L223.6 61.0L223.7 55.2L223.8 49.0L223.9 42.4L224.0 35.8L224.1 28.9L224.2 21.9L224.3 15.1L224.4 8.4L224.5 1.8L224.6 -4.4L224.7 -10.1L224.8 -15.4L224.9 -20.0L225.0 -24.1L225.1 -27.2L225.2 -29.7L225.3 -30.6L225.4 -31.2L225.5 -31.5L225.6 -30.0L225.7 -27.7L225.8 -24.8L225.9 -21.2L226.0 -16.8L226.1 -11.9L226.2 -6.6L226.3 -0.9L226.4 5.0L226.5 11.1L226.6 17.3L226.7 23.3L226.8 29.3L226.9 35.0L227.0 40.5L227.1 45.5L227.2 50.4L227.3 54.8L227.4 59.0L227.5 62.9L227.6 66.5L227.7 69.9L227.8 73.0L227.9 76.1L228.0 79.0L228.1 81.8L228.2 84.3L228.3 87.0L228.4 89.3L228.5 91.7L228.6 93.9L228.7 96.0L228.8 97.8L228.9 99.4L229.0 101.2L229.1 102.3L229.2 103.3L229.3 104.5L229.4 105.4L229.5 106.0L229.6 107.0L229.7 107.5L229.8 108.2L229.9 108.3L230.0 109.0L230.1 108.8L230.2 108.5L230.3 108.7L230.4 109.5L230.5 109.1L230.6 109.6L230.7 109.0L230.8 110.0L230.9 109.4L231.0 109.5L231.1 110.2L231.2 110.0L231.3 109.7L231.4 110.2L231.5 110.2L231.6 109.1L231.7 110.3L231.8 109.4L231.9 110.2L232.0 109.3L232.1 109.7L232.2 109.8L232.3 109.1L232.4 110.4L232.5 109.7L232.6 110.2L232.7 109.5L232.8 109.4L232.9 109.4L233.0 109.9L233.1 109.9L233.2 110.4L233.3 110.0L233.4 110.0L233.5 110.1L233.6 109.5L233.7 109.9L233.8 110.4L233.9 110.6L234.0 109.9L234.1 109.8L234.2 110.9L234.3 110.3L234.4 109.6L234.5 109.7L234.6 110.5L234.7 109.7L234.8 110.2L234.9 111.0L235.0 110.1L235.1 109.9L235.2 110.5L235.3 110.4L235.4 110.8L235.5 109.5L235.6 110.7L235.7 109.7L235.8 109.9L235.9 110.2L236.0 110.6L236.1 109.6L236.2 110.8L236.3 110.2L236.4 110.5L236.5 110.0L236.6 110.0L236.7 110.3L236.8 110.3L236.9 110.6L237.0 110.1L237.1 110.5L237.2 109.9L237.3 110.7L237.4 110.0L237.5 110.9L237.6 110.6L237.7 109.7L237.8 110.5L237.9 110.3L238.0 110.1L238.1 109.8L238.2 110.9L238.3 110.8L238.4 110.2L238.5 110.4L238.6 110.0L238.7 110.8L238.8 111.1L238.9 110.1L239.0 110.2L239.1 110.0L239.2 110.2L239.3 110.2L239.4 110.2L239.5 110.0L239.6 110.0L239.7 109.7L239.8 110.0L239.9 110.4L240.0 110.6L240.1 109.9L240.2 110.8L240.3 110.1L240.4 111.2L240.5 109.7L240.6 109.7L240.7 111.2L240.8 110.1L240.9 109.8L241.0 110.4L241.1 110.9L241.2 110.3L241.3 110.3L241.4 110.8L241.5 109.8L241.6 111.0L241.7 110.7L241.8 110.6L241.9 110.1L242.0 111.2L242.1 109.9L242.2 109.8L242.3 110.4L242.4 110.7L242.5 110.0L242.6 111.0L242.7 110.2L242.8 110.1L242.9 110.7L243.0 110.5L243.1 109.9L243.2 110.4L243.3 109.8L243.4 110.4L243.5 110.6L243.6 109.7L243.7 110.3L243.8 110.5L243.9 109.9L244.0 110.1L244.1 109.8L244.2 110.4L244.3 110.7L244.4 109.7L244.5 110.7L244.6 111.1L244.7 109.7L244.8 110.3L244.9 110.2L245.0 110.0L245.1 110.9L245.2 110.2L245.3 111.1L245.4 111.1L245.5 109.9L245.6 111.1L245.7 111.1L245.8 109.8L245.9 111.1L246.0 110.7L246.1 110.1L246.2 110.6L246.3 110.9L246.4 110.9L246.5 111.1L246.6 110.7L246.7 110.0L246.8 110.3L246.9 110.2L247.0 110.6L247.1 110.2L247.2 110.4L247.3 110.3L247.4 110.5L247.5 110.7L247.6 110.9L247.7 109.8L247.8 110.4L247.9 110.3L248.0 110.7L248.1 110.9L248.2 110.9L248.3 110.2L248.4 109.9L248.5 111.0L248.6 110.1L248.7 110.9L248.8 109.7L248.9 110.8L249.0 110.1L249.1 110.9L249.2 109.8L249.3 111.0L249.4 110.8L249.5 110.7L249.6 110.4L249.7 111.0L249.8 110.5L249.9 110.8L250.0 110.3L250.1 109.6L250.2 110.5L250.3 110.6L250.4 110.8L250.5 110.0L250.6 109.7L250.7 110.1L250.8 110.6L250.9 110.4L251.0 110.0L251.1 110.9L251.2 109.7L251.3 111.0L251.4 110.2L251.5 111.2L251.6 110.1L251.7 110.7L251.8 109.9L251.9 110.1L252.0 110.6L252.1 110.6L252.2 110.1L252.3 110.8L252.4 111.2L252.5 110.5L252.6 110.2L252.7 110.6L252.8 110.3L252.9 110.7L253.0 110.7L253.1 111.0L253.2 110.0L253.3 110.0L253.4 109.9L253.5 111.3L253.6 111.2L253.7 111.0L253.8 110.6L253.9 110.0L254.0 110.4L254.1 109.8L254.2 110.3L254.3 109.9L254.4 109.8L254.5 109.9L254.6 110.3L254.7 110.0L254.8 109.7L254.9 110.8L255.0 110.7L255.1 111.1L255.2 110.9L255.3 111.0L255.4 110.5L255.5 110.4L255.6 110.3L255.7 110.0L255.8 109.6L255.9 110.8L256.0 110.1L256.1 110.5L256.2 110.7L256.3 110.7L256.4 110.1L256.5 110.4L256.6 110.8L256.7 110.1L256.8 110.3L256.9 110.5L257.0 110.3L257.1 109.8L257.2 110.2L257.3 110.2L257.4 110.8L257.5 110.9L257.6 109.5L257.7 110.9L257.8 110.1L257.9 110.3L258.0 110.2L258.1 110.5L258.2 110.1L258.3 110.1L258.4 110.0L258.5 110.7L258.6 109.9L258.7 109.8L258.8 109.9L258.9 110.6L259.0 109.4L259.1 110.1L259.2 110.1L259.3 110.4L259.4 109.6L259.5 109.8L259.6 109.3L259.7 109.5L259.8 109.1L259.9 109.2L260.0 109.4L260.1 109.1L260.2 109.1L260.3 109.0L260.4 108.8L260.5 108.6L260.6 109.0L260.7 108.8L260.8 108.9L260.9 107.7L261.0 108.1L261.1 107.0L261.2 106.5L261.3 105.6L261.4 105.1L261.5 103.8L261.6 102.5L261.7 101.3L261.8 99.7L261.9 97.5L262.0 95.7L262.1 93.7L262.2 91.9L262.3 90.2L262.4 89.1L262.5 90.2L262.6 89.0L262.7 90.1L262.8 91.9L262.9 93.8L263.0 95.5L263.1 97.4L263.2 99.4L263.3 101.4L263.4 102.5L263.5 103.6L263.6 105.2L263.7 105.6L263.8 106.4L263.9 107.4L264.0 107.5L264.1 107.6L264.2 108.2L264.3 108.7L264.4 108.1L264.5 108.5L264.6 108.6L264.7 108.4L264.8 109.3L264.9 108.6L265.0 108.8L265.1 109.1L265.2 109.7L265.3 108.7L265.4 109.8L265.5 109.3L265.6 108.7L265.7 108.6L265.8 109.1L265.9 108.3L266.0 108.5L266.1 109.5L266.2 109.1L266.3 108.8L266.4 109.0L266.5 108.0L266.6 108.3L266.7 107.9L266.8 108.7L266.9 108.2L267.0 108.4L267.1 109.6L267.2 108.6L267.3 109.7L267.4 109.3L267.5 109.4L267.6 109.1L267.7 109.2L267.8 109.3L267.9 109.8L268.0 110.3L268.1 109.5L268.2 109.2L268.3 110.5L268.4 110.0L268.5 109.7L268.6 110.2L268.7 110.0L268.8 109.9L268.9 109.4L269.0 110.3L269.1 109.5L269.2 109.9L269.3 109.5L269.4 109.5L269.5 110.0L269.6 110.3L269.7 110.7L269.8 110.5L269.9 110.3L270.0 110.0L270.1 109.6L270.2 110.3L270.3 109.9L270.4 109.1L270.5 110.0L270.6 109.7L270.7 109.3L270.8 110.2L270.9 110.3L271.0 110.5L271.1 110.7L271.2 110.4L271.3 109.4L271.4 110.1L271.5 109.8L271.6 110.0L271.7 110.2L271.8 109.1L271.9 109.5L272.0 109.3L272.1 109.4L272.2 109.9L272.3 110.0L272.4 109.6L272.5 109.2L272.6 110.4L272.7 109.3L272.8 109.3L272.9 110.2L273.0 109.5L273.1 109.9L273.2 109.2L273.3 110.3L273.4 109.7L273.5 110.4L273.6 109.6L273.7 110.3L273.8 109.2L273.9 109.5L274.0 110.6L274.1 109.2L274.2 110.1L274.3 109.8L274.4 109.8L274.5 109.4L274.6 109.5L274.7 110.4L274.8 109.6L274.9 109.0L275.0 109.9L275.1 109.1L275.2 109.8L275.3 110.0L275.4 109.5L275.5 108.9L275.6 110.0L275.7 109.9L275.8 109.7L275.9 110.2L276.0 109.4L276.1 109.1L276.2 109.4L276.3 110.0L276.4 109.9L276.5 109.1L276.6 109.8L276.7 109.8L276.8 109.1L276.9 109.8L277.0 109.3L277.1 108.8L277.2 109.6L277.3 109.0L277.4 109.4L277.5 110.0L277.6 108.9L277.7 109.4L277.8 109.3L277.9 108.7L278.0 109.4L278.1 108.9L278.2 109.7L278.3 109.6L278.4 109.2L278.5 108.8L278.6 108.5L278.7 108.6L278.8 109.1L278.9 109.2L279.0 108.6L279.1 109.4L279.2 109.0L279.3 110.0L279.4 108.9L279.5 108.8L279.6 109.6L279.7 108.8L279.8 109.3L279.9 109.1L280.0 108.2L280.1 109.5L280.2 109.6L280.3 108.4L280.4 108.5L280.5 108.9L280.6 108.2L280.7 108.8L280.8 107.9L280.9 108.9L281.0 108.8L281.1 109.6L281.2 109.1L281.3 108.5L281.4 108.9L281.5 109.4L281.6 108.1L281.7 108.4L281.8 108.1L281.9 108.3L282.0 108.7L282.1 107.8L282.2 108.4L282.3 108.3L282.4 107.8L282.5 108.7L282.6 108.2L282.7 108.0L282.8 109.1L282.9 108.3L283.0 108.3L283.1 107.8L283.2 109.2L283.3 108.6L283.4 108.0L283.5 108.8L283.6 108.4L283.7 108.2L283.8 108.1L283.9 107.5L284.0 108.5L284.1 107.4L284.2 107.4L284.3 108.3L284.4 108.5L284.5 108.4L284.6 107.5L284.7 108.1L284.8 107.3L284.9 107.2L285.0 107.3L285.1 107.4L285.2 107.4L285.3 107.5L285.4 106.8L285.5 106.5L285.6 106.5L285.7 106.0L285.8 106.3L285.9 105.6L286.0 105.5L286.1 104.8L286.2 105.4L286.3 104.8L286.4 105.3L286.5 104.4L286.6 104.5L286.7 105.2L286.8 105.0L286.9 104.1L287.0 104.1L287.1 104.8L287.2 105.7L287.3 104.6L287.4 105.4L287.5 105.5L287.6 106.3L287.7 104.9L287.8 104.6L287.9 104.6L288.0 105.6L288.1 104.6L288.2 104.8L288.3 104.6L288.4 104.6L288.5 103.8L288.6 103.1L288.7 102.8L288.8 101.7L288.9 100.6L289.0 98.9L289.1 96.7L289.2 93.9L289.3 90.4L289.4 86.5L289.5 81.6L289.6 76.2L289.7 70.6L289.8 65.1L289.9 60.0L290.0 56.3L290.1 54.9L290.2 56.4L290.3 59.9L290.4 65.0L290.5 70.6L290.6 76.2L290.7 81.7L290.8 86.4L290.9 90.5L291.0 93.9L291.1 96.7L291.2 98.8L291.3 100.7L291.4 101.9L291.5 103.0L291.6 103.6L291.7 104.0L291.8 104.7L291.9 105.4L292.0 105.1L292.1 105.4L292.2 105.0L292.3 106.5L292.4 106.5L292.5 105.9L292.6 106.3L292.7 106.0L292.8 106.3L292.9 106.3L293.0 107.3L293.1 106.5L293.2 107.2L293.3 107.4L293.4 107.4L293.5 106.5L293.6 106.8L293.7 107.8L293.8 106.7L293.9 107.1L294.0 107.7L294.1 106.8L294.2 107.4L294.3 108.3L294.4 106.7L294.5 107.1L294.6 106.9L294.7 107.2L294.8 108.2L294.9 107.6L295.0 107.7L295.1 107.2L295.2 107.9L295.3 106.9L295.4 107.3L295.5 107.2L295.6 108.2L295.7 107.2L295.8 107.2L295.9 107.3L296.0 107.3L296.1 108.1L296.2 107.4L296.3 106.9L296.4 108.3L296.5 107.8L296.6 107.1L296.7 107.5L296.8 107.2L296.9 108.4L297.0 108.3L297.1 107.1L297.2 107.4L297.3 107.7L297.4 107.8L297.5 108.3L297.6 108.2L297.7 108.4L297.8 107.9L297.9 107.9L298.0 108.7L298.1 108.2L298.2 107.5L298.3 108.1L298.4 107.8L298.5 107.3L298.6 106.7L298.7 108.0L298.8 106.6L298.9 108.0L299.0 108.3L299.1 107.1L299.2 108.1L299.3 107.9L299.4 108.4L299.5 108.3L299.6 106.7L299.7 107.2L299.8 108.0L299.9 107.7L300.0 107.0L300.1 107.7L300.2 107.3L300.3 107.3L300.4 106.7L300.5 107.5L300.6 107.8L300.7 107.4L300.8 107.0L300.9 107.6L301.0 107.5L301.1 108.1L301.2 107.6L301.3 106.8L301.4 107.2L301.5 106.5L301.6 106.4L301.7 107.1L301.8 106.2L301.9 106.3L302.0 107.4L302.1 106.2L302.2 106.8L302.3 106.8L302.4 106.2L302.5 106.6L302.6 105.8L302.7 105.5L302.8 106.1L302.9 105.3L303.0 105.1L303.1 105.3L303.2 105.5L303.3 105.0L303.4 105.5L303.5 104.4L303.6 105.2L303.7 105.3L303.8 104.6L303.9 104.5L304.0 104.3L304.1 103.7L304.2 104.1L304.3 104.4L304.4 103.4L304.5 104.1L304.6 104.0L304.7 105.2L304.8 104.5L304.9 103.9L305.0 104.1L305.1 103.3L305.2 103.8L305.3 104.7L305.4 103.8L305.5 103.9L305.6 104.5L305.7 103.5L305.8 103.9L305.9 104.5L306.0 102.9L306.1 103.5L306.2 103.9L306.3 103.8L306.4 103.1L306.5 103.1L306.6 102.2L306.7 101.8L306.8 101.6L306.9 102.5L307.0 101.0L307.1 101.5L307.2 100.3L307.3 101.2L307.4 100.6L307.5 100.4L307.6 100.3L307.7 99.5L307.8 99.5L307.9 99.2L308.0 98.0L308.1 97.3L308.2 97.8L308.3 97.4L308.4 96.6L308.5 96.8L308.6 96.4L308.7 95.8L308.8 95.0L308.9 96.2L309.0 94.9L309.1 94.2L309.2 95.1L309.3 95.2L309.4 93.9L309.5 95.0L309.6 92.9L309.7 94.9L309.8 95.4L309.9 94.5L310.0 94.0L310.1 94.0L310.2 95.0L310.3 94.6L310.4 95.9L310.5 95.8L310.6 95.4L310.7 96.1L310.8 95.8L310.9 96.4L311.0 96.6L311.1 97.2L311.2 97.6L311.3 98.1L311.4 98.5L311.5 98.4L311.6 98.9L311.7 99.6L311.8 100.1L311.9 100.0L312.0 100.8L312.1 101.6L312.2 101.2L312.3 101.8L312.4 102.0L312.5 102.9L312.6 102.4L312.7 103.0L312.8 103.8L312.9 103.6L313.0 103.6L313.1 103.9L313.2 103.9L313.3 104.6L313.4 105.3L313.5 105.1L313.6 104.6L313.7 105.6L313.8 105.8L313.9 105.1L314.0 105.4L314.1 106.4L314.2 105.7L314.3 106.7L314.4 105.8L314.5 106.4L314.6 106.8L314.7 107.2L314.8 107.0L314.9 106.2L315.0 107.2L315.1 107.8L315.2 106.3L315.3 106.4L315.4 107.6L315.5 107.2L315.6 106.8L315.7 107.7L315.8 107.9L315.9 107.0L316.0 108.0L316.1 107.7L316.2 107.8L316.3 106.8L316.4 108.3L316.5 108.5L316.6 107.1L316.7 108.3L316.8 107.4L316.9 107.2L317.0 107.6L317.1 108.2L317.2 108.0L317.3 107.1L317.4 108.5L317.5 107.8L317.6 108.0L317.7 107.7L317.8 108.7L317.9 108.2L318.0 108.4L318.1 109.0L318.2 108.4L318.3 108.5L318.4 107.7L318.5 107.5L318.6 108.5L318.7 108.3L318.8 108.8L318.9 107.7L319.0 107.6L319.1 107.9L319.2 108.7L319.3 108.0L319.4 107.9L319.5 108.5L319.6 108.6L319.7 107.6L319.8 108.4L319.9 108.1L320.0 108.8L320.1 108.6L320.2 108.6L320.3 107.5L320.4 108.4L320.5 107.6L320.6 108.1L320.7 108.0L320.8 108.5L320.9 107.9L321.0 107.9L321.1 108.8L321.2 108.8L321.3 108.9L321.4 108.8L321.5 108.5L321.6 107.7L321.7 107.8L321.8 108.4L321.9 109.1L322.0 108.4L322.1 108.4L322.2 109.1L322.3 107.9L322.4 108.2L322.5 109.4L322.6 107.9L322.7 108.7L322.8 108.0L322.9 108.2L323.0 109.4L323.1 108.7L323.2 108.7L323.3 108.0L323.4 109.2L323.5 108.7L323.6 107.8L323.7 108.5L323.8 107.9L323.9 109.0L324.0 108.6L324.1 108.0L324.2 108.0L324.3 108.1L324.4 108.2L324.5 108.6L324.6 108.2L324.7 108.4L324.8 109.3L324.9 108.9L325.0 108.6L325.1 108.7L325.2 108.3L325.3 108.1L325.4 108.5L325.5 109.6L325.6 108.7L325.7 108.2L325.8 108.3L325.9 108.4L326.0 108.5L326.1 108.3L326.2 108.8L326.3 109.0L326.4 109.0L326.5 109.1L326.6 108.9L326.7 109.0L326.8 108.0L326.9 108.6L327.0 109.3L327.1 109.1L327.2 109.4L327.3 108.0L327.4 108.8L327.5 108.9L327.6 108.6L327.7 108.2L327.8 108.6L327.9 109.2L328.0 108.3L328.1 109.4L328.2 109.0L328.3 108.8L328.4 108.5L328.5 109.3L328.6 108.0L328.7 107.9L328.8 108.8L328.9 108.0L329.0 108.3L329.1 108.1L329.2 109.3L329.3 108.6L329.4 108.2L329.5 108.3L329.6 108.1L329.7 108.4L329.8 107.9L329.9 109.2L330.0 108.7L330.1 108.0L330.2 109.0L330.3 108.4L330.4 108.0L330.5 108.9L330.6 108.9L330.7 108.5L330.8 108.2L330.9 108.7L331.0 109.1L331.1 108.4L331.2 108.9L331.3 108.6L331.4 108.0L331.5 108.5L331.6 108.8L331.7 107.7L331.8 107.6L331.9 107.4L332.0 107.2L332.1 107.4L332.2 107.1L332.3 106.9L332.4 106.2L332.5 105.5L332.6 104.0L332.7 103.0L332.8 101.1L332.9 98.9L333.0 96.8L333.1 94.9L333.2 93.7L333.3 93.4L333.4 93.5L333.5 95.2L333.6 97.0L333.7 99.1L333.8 101.1L333.9 102.7L334.0 104.1L334.1 105.4L334.2 106.0L334.3 106.9L334.4 107.4L334.5 107.4L334.6 108.1L334.7 107.8L334.8 108.3L334.9 108.2L335.0 108.6L335.1 108.4L335.2 108.5L335.3 108.6L335.4 108.1L335.5 109.0L335.6 107.8L335.7 108.6L335.8 109.2L335.9 109.3L336.0 109.0L336.1 109.0L336.2 109.6L336.3 109.6L336.4 108.7L336.5 109.2L336.6 108.5L336.7 109.0L336.8 108.5L336.9 109.7L337.0 108.4L337.1 108.4L337.2 109.1L337.3 109.2L337.4 109.1L337.5 108.9L337.6 108.4L337.7 108.8L337.8 108.7L337.9 108.4L338.0 109.2L338.1 109.0L338.2 108.9L338.3 108.3L338.4 108.0L338.5 107.8L338.6 108.5L338.7 108.1L338.8 107.8L338.9 107.3L339.0 107.2L339.1 107.1L339.2 106.5L339.3 106.5L339.4 105.5L339.5 104.9L339.6 104.6L339.7 103.6L339.8 102.8L339.9 102.2L340.0 100.7L340.1 99.9L340.2 98.5L340.3 97.4L340.4 95.7L340.5 93.9L340.6 92.1L340.7 90.2L340.8 87.8L340.9 85.3L341.0 83.0L341.1 80.2L341.2 77.2L341.3 74.3L341.4 71.0L341.5 67.7L341.6 64.0L341.7 60.1L341.8 56.3L341.9 52.4L342.0 48.2L342.1 44.1L342.2 39.9L342.3 35.5L342.4 31.3L342.5 27.0L342.6 22.7L342.7 18.6L342.8 14.6L342.9 10.5L343.0 7.0L343.1 3.2L343.2 0.1L343.3 -3.0L343.4 -5.6L343.5 -8.0L343.6 -10.5L343.7 -12.0L343.8 -13.2L343.9 -14.6L344.0 -15.3L344.1 -15.2L344.2 -15.6L344.3 -14.7L344.4 -13.3L344.5 -11.9L344.6 -10.1L344.7 -8.3L344.8 -5.7L344.9 -3.0L345.0 0.1L345.1 3.3L345.2 6.9L345.3 10.8L345.4 14.7L345.5 18.7L345.6 22.8L345.7 27.0L345.8 31.3L345.9 35.7L346.0 40.0L346.1 44.1L346.2 48.4L346.3 52.5L346.4 56.5L346.5 60.3L346.6 64.1L346.7 67.7L346.8 71.2L346.9 74.2L347.0 77.4L347.1 80.2L347.2 83.0L347.3 85.5L347.4 87.9L347.5 89.9L347.6 92.1L347.7 93.8L347.8 95.7L347.9 96.9L348.0 98.4L348.1 99.7L348.2 101.0L348.3 101.7L348.4 102.5L348.5 103.7L348.6 104.1L348.7 104.9L348.8 104.8L348.9 105.4L349.0 106.1L349.1 105.9L349.2 106.0L349.3 106.3L349.4 106.7L349.5 106.0L349.6 105.8L349.7 106.3L349.8 106.2L349.9 105.9L350.0 105.1L350.1 104.1L350.2 103.2L350.3 101.5L350.4 99.6L350.5 97.3L350.6 94.3L350.7 90.9L350.8 87.0L350.9 82.9L351.0 78.7L351.1 75.4L351.2 72.8L351.3 71.5L351.4 73.1L351.5 75.5L351.6 78.9L351.7 83.2L351.8 87.3L351.9 91.0L352.0 94.5L352.1 97.5L352.2 99.9L352.3 102.0L352.4 103.4L352.5 104.7L352.6 105.7L352.7 106.3L352.8 106.3L352.9 107.1L353.0 107.4L353.1 108.2L353.2 107.9L353.3 108.0L353.4 108.1L353.5 108.9L353.6 108.7L353.7 108.8L353.8 109.6L353.9 109.2L354.0 108.9L354.1 108.9L354.2 109.5L354.3 109.9L354.4 108.9L354.5 109.4L354.6 109.1L354.7 109.2L354.8 110.0L354.9 109.6L355.0 110.0L355.1 110.3L355.2 109.1L355.3 109.6L355.4 109.3L355.5 109.4L355.6 109.9L355.7 109.9L355.8 110.2L355.9 109.5L356.0 109.4L356.1 110.3L356.2 109.6L356.3 110.2L356.4 109.3L356.5 110.7L356.6 110.7L356.7 109.6L356.8 110.7L356.9 110.3L357.0 110.9L357.1 110.7L357.2 110.2L357.3 110.0L357.4 110.1L357.5 110.4L357.6 109.8L357.7 110.7L357.8 110.7L357.9 110.5L358.0 110.4L358.1 110.0L358.2 110.6L358.3 110.1L358.4 110.5L358.5 110.0L358.6 110.0L358.7 110.5L358.8 110.0L358.9 111.0L359.0 110.8L359.1 110.7L359.2 110.1L359.3 110.3L359.4 110.1L359.5 110.6L359.6 111.1L359.7 110.0L359.8 110.0L359.9 110.4L360.0 111.2L360.1 109.9L360.2 109.9L360.3 110.4L360.4 110.0L360.5 110.1L360.6 110.6L360.7 109.9L360.8 110.0L360.9 110.5L361.0 111.0L361.1 109.9L361.2 110.1L361.3 110.1L361.4 109.9L361.5 109.8L361.6 110.1L361.7 109.9L361.8 110.4L361.9 109.9L362.0 110.7L362.1 110.3L362.2 110.6L362.3 109.9L362.4 110.5L362.5 109.9L362.6 109.6L362.7 110.3L362.8 109.6L362.9 109.4L363.0 109.7L363.1 109.8L363.2 109.3L363.3 109.4L363.4 109.1L363.5 108.8L363.6 109.0L363.7 110.0L363.8 109.8L363.9 109.1L364.0 109.8L364.1 109.2L364.2 109.2L364.3 109.3L364.4 109.4L364.5 109.5L364.6 109.2L364.7 110.2L364.8 109.8L364.9 109.5L365.0 110.0L365.1 110.0L365.2 110.5L365.3 109.8L365.4 110.2L365.5 110.7L365.6 110.8L365.7 110.0L365.8 110.5L365.9 111.0L366.0 110.5L366.1 110.9L366.2 110.4L366.3 110.4L366.4 110.4L366.5 111.1L366.6 110.6L366.7 110.5L366.8 110.6L366.9 110.8L367.0 110.9L367.1 111.7L367.2 111.8L367.3 111.3L367.4 111.6L367.5 111.7L367.6 110.7L367.7 111.2L367.8 111.7L367.9 111.8L368.0 111.3L368.1 111.0L368.2 111.2L368.3 111.0L368.4 111.7L368.5 111.7L368.6 111.2L368.7 110.7L368.8 112.0L368.9 111.8L369.0 111.8L369.1 111.7L369.2 112.1L369.3 111.1L369.4 111.0L369.5 111.9L369.6 112.0L369.7 111.2L369.8 111.6L369.9 111.0L370.0 111.1L370.1 112.1L370.2 111.9L370.3 111.2L370.4 111.7L370.5 111.9L370.6 111.5L370.7 111.6L370.8 111.9L370.9 111.1L371.0 112.0L371.1 111.6L371.2 111.2L371.3 111.4L371.4 111.5L371.5 111.8L371.6 111.2L371.7 112.0L371.8 111.0L371.9 111.6L372.0 111.5L372.1 111.1L372.2 112.0L372.3 112.1L372.4 111.5L372.5 111.2L372.6 112.1L372.7 111.3L372.8 112.1L372.9 111.7L373.0 112.0L373.1 111.4L373.2 111.8L373.3 111.8L373.4 111.9L373.5 112.1L373.6 111.4L373.7 111.6L373.8 111.5L373.9 111.0L374.0 111.8L374.1 112.2L374.2 112.0L374.3 111.5L374.4 112.1L374.5 111.6L374.6 111.4L374.7 111.5L374.8 111.6L374.9 111.4L375.0 111.9L375.1 111.3L375.2 111.5L375.3 112.2L375.4 112.4L375.5 112.0L375.6 111.6L375.7 111.4L375.8 111.4L375.9 111.5L376.0 112.0L376.1 112.1L376.2 111.2L376.3 111.7L376.4 112.0L376.5 111.9L376.6 111.4L376.7 111.8L376.8 112.3L376.9 112.2L377.0 111.5L377.1 112.2L377.2 112.3L377.3 112.3L377.4 112.2L377.5 111.2L377.6 111.6L377.7 112.1L377.8 112.2L377.9 112.3L378.0 111.7L378.1 111.6L378.2 112.0L378.3 111.6L378.4 111.6L378.5 112.2L378.6 111.4L378.7 112.2L378.8 111.1L378.9 111.2L379.0 111.4L379.1 112.0L379.2 111.4L379.3 112.4L379.4 111.8L379.5 111.3L379.6 111.6L379.7 112.2L379.8 111.2L379.9 111.2L380.0 111.4L380.1 111.2L380.2 111.4L380.3 111.6L380.4 112.3L380.5 111.6L380.6 111.7L380.7 111.2L380.8 111.7L380.9 111.9L381.0 111.8L381.1 112.2L381.2 111.7L381.3 112.3L381.4 111.5L381.5 112.0L381.6 112.1L381.7 112.2L381.8 111.4L381.9 112.0L382.0 112.3L382.1 111.8L382.2 112.4L382.3 112.4L382.4 111.4L382.5 111.7L382.6 111.6L382.7 112.2L382.8 111.1L382.9 111.8L383.0 111.1L383.1 111.3L383.2 112.3L383.3 111.4L383.4 111.8L383.5 112.3L383.6 111.3L383.7 111.5L383.8 112.0L383.9 111.7L384.0 111.8L384.1 111.3L384.2 111.8L384.3 112.2L384.4 111.8L384.5 112.1L384.6 112.0L384.7 111.7L384.8 111.7L384.9 111.5L385.0 111.4L385.1 111.0L385.2 112.4L385.3 111.6L385.4 112.1L385.5 111.6L385.6 111.9L385.7 112.2L385.8 111.8L385.9 111.9L386.0 112.4L386.1 111.2L386.2 112.2L386.3 111.3L386.4 111.7L386.5 110.9L386.6 111.4L386.7 112.0L386.8 112.1L386.9 111.3L387.0 111.3L387.1 111.2L387.2 112.2L387.3 111.7L387.4 112.2L387.5 111.9L387.6 112.0L387.7 111.1L387.8 112.2L387.9 111.4L388.0 111.8L388.1 111.5L388.2 111.4L388.3 112.0L388.4 111.1L388.5 111.4L388.6 111.4L388.7 111.4L388.8 111.9L388.9 112.2L389.0 112.2L389.1 111.7L389.2 112.1L389.3 111.9L389.4 111.6L389.5 111.7L389.6 112.2L389.7 111.9L389.8 111.1L389.9 112.1L390.0 111.6L390.1 111.9L390.2 111.6L390.3 111.3L390.4 111.5L390.5 111.3L390.6 111.8L390.7 111.7L390.8 111.8L390.9 111.2L391.0 112.0L391.1 111.3L391.2 111.7L391.3 111.6L391.4 112.6L391.5 111.9L391.6 112.5L391.7 111.3L391.8 111.6L391.9 112.2L392.0 112.2L392.1 111.8L392.2 111.6L392.3 111.3L392.4 111.8L392.5 112.3L392.6 111.8L392.7 112.1L392.8 111.8L392.9 111.1L393.0 111.1L393.1 111.3L393.2 112.1L393.3 111.2L393.4 112.1L393.5 111.5L393.6 111.6L393.7 111.9L393.8 111.0L393.9 111.3L394.0 111.6L394.1 112.1L394.2 111.8L394.3 111.1L394.4 111.2L394.5 111.6L394.6 111.2L394.7 111.2L394.8 111.5L394.9 110.7L395.0 111.3L395.1 110.8L395.2 110.6L395.3 111.9L395.4 110.6L395.5 111.5L395.6 111.6L395.7 110.7L395.8 110.6L395.9 110.5L396.0 111.7L396.1 111.3L396.2 110.8L396.3 111.8L396.4 111.3L396.5 111.7L396.6 110.3L396.7 111.3L396.8 111.6L396.9 111.1L397.0 111.0L397.1 110.7L397.2 110.6L397.3 110.9L397.4 111.0L397.5 110.3L397.6 110.5L397.7 111.1L397.8 111.6L397.9 110.7L398.0 111.0L398.1 110.9L398.2 111.3L398.3 111.0L398.4 110.9L398.5 110.4L398.6 110.3L398.7 110.8L398.8 110.4L398.9 110.6L399.0 110.5L399.1 111.2L399.2 110.6L399.3 110.9L399.4 110.7L399.5 110.9L399.6 110.4L399.7 110.3L399.8 111.1L399.9 110.8L400.0 110.7L400.1 110.3L400.2 109.9L400.3 109.9L400.4 110.0L400.5 109.9L400.6 110.9L400.7 110.7L400.8 110.0L400.9 110.6L401.0 109.4L401.1 109.6L401.2 109.9L401.3 109.6L401.4 108.8L401.5 109.4L401.6 108.9L401.7 108.0L401.8 107.5L401.9 107.2L402.0 106.3L402.1 105.7L402.2 105.1L402.3 104.2L402.4 102.9L402.5 102.3L402.6 101.8L402.7 101.4L402.8 100.4L402.9 99.3L403.0 100.9L403.1 100.7L403.2 101.4L403.3 102.3L403.4 102.9L403.5 104.1L403.6 105.1L403.7 105.6L403.8 106.5L403.9 106.8L404.0 107.5L404.1 107.8L404.2 108.1L404.3 108.6L404.4 109.0L404.5 108.9L404.6 109.8L404.7 109.8L404.8 109.6L404.9 109.8L405.0 109.8L405.1 109.6L405.2 110.9L405.3 110.8L405.4 110.1L405.5 110.7L405.6 110.3L405.7 110.9L405.8 110.4L405.9 110.9L406.0 110.5L406.1 110.5L406.2 110.9L406.3 110.9L406.4 110.0L406.5 110.8L406.6 110.8L406.7 111.2L406.8 110.3L406.9 110.7L407.0 110.4L407.1 110.7L407.2 109.7L407.3 110.9L407.4 110.1L407.5 110.4L407.6 109.9L407.7 111.0L407.8 110.8L407.9 110.9L408.0 110.7L408.1 110.9L408.2 110.6L408.3 109.6L408.4 109.7L408.5 110.5L408.6 110.2L408.7 110.4L408.8 109.9L408.9 110.3L409.0 109.5L409.1 109.2L409.2 110.1L409.3 109.2L409.4 109.1L409.5 109.1L409.6 108.3L409.7 108.2L409.8 107.0L409.9 106.2L410.0 104.7L410.1 102.6L410.2 99.9L410.3 96.8L410.4 93.6L410.5 89.9L410.6 86.6L410.7 84.2L410.8 83.3L410.9 84.2L411.0 86.6L411.1 89.9L411.2 93.5L411.3 96.9L411.4 100.2L411.5 102.6L411.6 104.6L411.7 106.2L411.8 107.4L411.9 107.8L412.0 108.6L412.1 109.1L412.2 109.0L412.3 109.4L412.4 109.8L412.5 109.6L412.6 110.2L412.7 110.3L412.8 109.9L412.9 109.7L413.0 109.7L413.1 109.8L413.2 110.8L413.3 110.1L413.4 110.1L413.5 110.5L413.6 110.2L413.7 110.1L413.8 111.0L413.9 111.2L414.0 110.8L414.1 110.7L414.2 110.4L414.3 110.1L414.4 111.0L414.5 110.5L414.6 110.1L414.7 110.1L414.8 110.9L414.9 110.3L415.0 111.0L415.1 110.0L415.2 109.7L415.3 110.0L415.4 110.0L415.5 109.8L415.6 110.9L415.7 110.4L415.8 110.1L415.9 109.7L416.0 110.5L416.1 110.2L416.2 109.6L416.3 109.8L416.4 110.2L416.5 110.1L416.6 109.9L416.7 109.5L416.8 109.5L416.9 108.8L417.0 108.4L417.1 108.9L417.2 109.5L417.3 109.0L417.4 109.4L417.5 109.7L417.6 109.6L417.7 109.2L417.8 109.1L417.9 110.1L418.0 109.4L418.1 110.0L418.2 110.1L418.3 110.1L418.4 109.9L418.5 110.7L418.6 110.7L418.7 110.2L418.8 110.1L418.9 110.5L419.0 110.1L419.1 110.1L419.2 110.2L419.3 110.1L419.4 110.7L419.5 110.1L419.6 109.9L419.7 110.1L419.8 111.2L419.9 110.3L420.0 111.5L420.1 111.1L420.2 110.6L420.3 111.3L420.4 110.2L420.5 111.1L420.6 110.8L420.7 110.7L420.8 111.7L420.9 110.2L421.0 110.5L421.1 111.0L421.2 110.2L421.3 111.4L421.4 110.4L421.5 110.6L421.6 111.1L421.7 111.3L421.8 111.2L421.9 111.3L422.0 110.5L422.1 110.4L422.2 110.7L422.3 110.0L422.4 110.6L422.5 110.8L422.6 110.4L422.7 110.1L422.8 110.2L422.9 110.5L423.0 110.8L423.1 111.3L423.2 110.2L423.3 109.9L423.4 110.4L423.5 110.4L423.6 110.6L423.7 110.4L423.8 111.2L423.9 110.1L424.0 110.0L424.1 110.2L424.2 110.8L424.3 110.2L424.4 109.9L424.5 109.7L424.6 109.9L424.7 110.0L424.8 109.8L424.9 109.8L425.0 108.9L425.1 108.6L425.2 108.4L425.3 108.0L425.4 108.6L425.5 107.8L425.6 108.1L425.7 107.4L425.8 107.0L425.9 107.0L426.0 107.8L426.1 108.4L426.2 108.1L426.3 108.3L426.4 108.2L426.5 109.0L426.6 109.1L426.7 109.4L426.8 109.7L426.9 109.4L427.0 109.9L427.1 110.1L427.2 110.1L427.3 109.7L427.4 110.1L427.5 110.8L427.6 110.6L427.7 110.3L427.8 111.0L427.9 110.6L428.0 110.4L428.1 110.6L428.2 110.8L428.3 110.5L428.4 110.5L428.5 110.8L428.6 110.3L428.7 110.9L428.8 110.8L428.9 110.1L429.0 111.0L429.1 111.3L429.2 110.8L429.3 110.3L429.4 110.8L429.5 110.3L429.6 110.5L429.7 110.2L429.8 111.2L429.9 111.1L430.0 110.9L430.1 110.7L430.2 110.4L430.3 111.1L430.4 110.4L430.5 111.6L430.6 111.3L430.7 110.4L430.8 111.4L430.9 111.4L431.0 110.2L431.1 110.8L431.2 110.6L431.3 110.9L431.4 111.3L431.5 110.5L431.6 110.4L431.7 110.4L431.8 110.4L431.9 111.2L432.0 110.5L432.1 111.1L432.2 110.3L432.3 110.6L432.4 111.1L432.5 111.3L432.6 110.9L432.7 110.8L432.8 110.2L432.9 110.8L433.0 110.8L433.1 110.3L433.2 111.2L433.3 110.2L433.4 110.8L433.5 110.3L433.6 111.2L433.7 110.7L433.8 111.4L433.9 110.8L434.0 111.2L434.1 110.6L434.2 110.3L434.3 110.6L434.4 110.7L434.5 111.2L434.6 110.1L434.7 110.7L434.8 111.2L434.9 110.4L435.0 110.6L435.1 110.6L435.2 111.1L435.3 110.3L435.4 111.0L435.5 111.1L435.6 110.4L435.7 111.0L435.8 110.2L435.9 109.7L436.0 110.6L436.1 110.5L436.2 110.3L436.3 109.4L436.4 108.9L436.5 108.9L436.6 108.1L436.7 107.0L436.8 106.2L436.9 105.0L437.0 103.6L437.1 102.7L437.2 101.9L437.3 100.4L437.4 101.3L437.5 102.6L437.6 103.4L437.7 104.8L437.8 106.4L437.9 107.2L438.0 108.3L438.1 108.9L438.2 109.0L438.3 110.0L438.4 110.2L438.5 109.7L438.6 110.7L438.7 109.9L438.8 110.3L438.9 110.5L439.0 110.5L439.1 111.2L439.2 110.4L439.3 110.9L439.4 111.3L439.5 110.1L439.6 110.1L439.7 110.3L439.8 110.1L439.9 110.2L440.0 111.1L440.1 110.0L440.2 110.4L440.3 110.2L440.4 110.4L440.5 111.0L440.6 111.2L440.7 111.4L440.8 110.2L440.9 111.3L441.0 111.4L441.1 110.6L441.2 110.5L441.3 110.7L441.4 111.4L441.5 111.6L441.6 110.9L441.7 110.8L441.8 110.5L441.9 110.7L442.0 110.7L442.1 111.1L442.2 110.8L442.3 110.7L442.4 111.3L442.5 111.2L442.6 110.3L442.7 110.7L442.8 111.1L442.9 111.2L443.0 110.2L443.1 110.4L443.2 111.3L443.3 111.1L443.4 110.4L443.5 110.7L443.6 111.1L443.7 110.9L443.8 111.3L443.9 110.7L444.0 110.8L444.1 110.7L444.2 111.2L444.3 110.6L444.4 111.3L444.5 110.6L444.6 110.6L444.7 111.1L444.8 110.4L444.9 110.3L445.0 111.2L445.1 111.3L445.2 110.6L445.3 110.6L445.4 111.1L445.5 110.9L445.6 110.9L445.7 110.3L445.8 111.2L445.9 110.5L446.0 111.4L446.1 111.6L446.2 110.5L446.3 110.8L446.4 111.1L446.5 110.4L446.6 111.4L446.7 110.6L446.8 110.8L446.9 110.4L447.0 110.6L447.1 110.1L447.2 111.0L447.3 111.2L447.4 111.2L447.5 111.2L447.6 111.0L447.7 110.8L447.8 109.8L447.9 111.0L448.0 110.8L448.1 110.3L448.2 110.3L448.3 110.3L448.4 110.3L448.5 110.1L448.6 109.7L448.7 109.3L448.8 109.5L448.9 109.1L449.0 109.2L449.1 109.6L449.2 109.5L449.3 108.8L449.4 108.8L449.5 108.6L449.6 108.7L449.7 108.7L449.8 108.8L449.9 107.6L450.0 108.3L450.1 107.7L450.2 107.8L450.3 107.5L450.4 107.5L450.5 107.3L450.6 108.6L450.7 107.9L450.8 107.6L450.9 108.9L451.0 108.8L451.1 108.6L451.2 108.1L451.3 108.4L451.4 107.6L451.5 107.5L451.6 108.1L451.7 107.9L451.8 107.6L451.9 107.7L452.0 106.8L452.1 106.4L452.2 105.8L452.3 106.1L452.4 105.3L452.5 104.8L452.6 104.2L452.7 103.1L452.8 103.1L452.9 102.7L453.0 101.6L453.1 101.2L453.2 101.6L453.3 101.1L453.4 100.8L453.5 102.0L453.6 102.2L453.7 102.4L453.8 103.1L453.9 103.9L454.0 104.1L454.1 105.0L454.2 105.4L454.3 106.5L454.4 106.5L454.5 107.3L454.6 107.3L454.7 108.1L454.8 108.0L454.9 108.6L455.0 109.4L455.1 109.4L455.2 109.4L455.3 109.6L455.4 109.5L455.5 109.7L455.6 110.5L455.7 109.5L455.8 110.5L455.9 110.6L456.0 110.7L456.1 110.8L456.2 110.0L456.3 110.5L456.4 110.5L456.5 110.3L456.6 110.4L456.7 110.5L456.8 111.2L456.9 110.6L457.0 111.1L457.1 111.0L457.2 111.2L457.3 110.9L457.4 111.0L457.5 110.5L457.6 111.5L457.7 110.7L457.8 111.0L457.9 111.3L458.0 111.1L458.1 110.7L458.2 111.6L458.3 110.5L458.4 111.3L458.5 110.9L458.6 111.3L458.7 110.8L458.8 111.5L458.9 111.1L459.0 110.5L459.1 111.4L459.2 110.9L459.3 110.7L459.4 111.5L459.5 110.5L459.6 110.6L459.7 110.6L459.8 111.0L459.9 111.6L460.0 110.4L460.1 111.6L460.2 110.7L460.3 111.0L460.4 111.4L460.5 111.4L460.6 110.4L460.7 111.0L460.8 110.9L460.9 110.5L461.0 111.5L461.1 110.7L461.2 111.0L461.3 110.9L461.4 110.5L461.5 110.4L461.6 110.3L461.7 110.9L461.8 111.1L461.9 110.6L462.0 110.3L462.1 110.1L462.2 110.4L462.3 110.3L462.4 110.5L462.5 110.4L462.6 110.7L462.7 111.3L462.8 111.3L462.9 111.4L463.0 110.6L463.1 111.1L463.2 110.7L463.3 111.5L463.4 111.3L463.5 110.5L463.6 111.6L463.7 111.6L463.8 110.7L463.9 112.0L464.0 110.8L464.1 111.9L464.2 112.2L464.3 111.4L464.4 111.6L464.5 111.3L464.6 111.5L464.7 112.0L464.8 111.8L464.9 111.5L465.0 112.1L465.1 111.4L465.2 111.9L465.3 111.5L465.4 112.2L465.5 111.3L465.6 111.5L465.7 111.2L465.8 111.1L465.9 111.7L466.0 111.3L466.1 111.3L466.2 111.5L466.3 112.1L466.4 111.6L466.5 111.1L466.6 111.5L466.7 111.8L466.8 111.3L466.9 111.7L467.0 112.0L467.1 111.8L467.2 111.9L467.3 112.3L467.4 112.3L467.5 112.1L467.6 111.8L467.7 111.2L467.8 111.7L467.9 111.5L468.0 112.1L468.1 111.6L468.2 111.9L468.3 111.6L468.4 111.5L468.5 111.2L468.6 111.8L468.7 111.5L468.8 111.4L468.9 111.7L469.0 111.5L469.1 111.3L469.2 111.6L469.3 112.1L469.4 111.9L469.5 112.1L469.6 112.3L469.7 112.0L469.8 112.1L469.9 112.4L470.0 111.5L470.1 111.9L470.2 111.2L470.3 111.9L470.4 112.3L470.5 112.1L470.6 112.5L470.7 112.1L470.8 111.4L470.9 111.5L471.0 112.2L471.1 112.5L471.2 111.3L471.3 112.4L471.4 112.3L471.5 111.3L471.6 111.7L471.7 112.4L471.8 112.4L471.9 112.3L472.0 112.4L472.1 112.4L472.2 112.4L472.3 111.9L472.4 111.8L472.5 111.7L472.6 111.5L472.7 111.8L472.8 111.4L472.9 112.4L473.0 112.2L473.1 112.6L473.2 111.4L473.3 112.0L473.4 111.7L473.5 112.4L473.6 111.3L473.7 112.2L473.8 112.0L473.9 111.5L474.0 111.9L474.1 111.5L474.2 111.6L474.3 111.4L474.4 112.3L474.5 111.6L474.6 112.2L474.7 111.4L474.8 112.3L474.9 112.5L475.0 111.7L475.1 112.2L475.2 111.5L475.3 111.1L475.4 112.1L475.5 111.9L475.6 112.1L475.7 111.9L475.8 112.3L475.9 111.7L476.0 111.7L476.1 112.1L476.2 112.4L476.3 111.4L476.4 111.6L476.5 112.1L476.6 111.4L476.7 111.4L476.8 111.7L476.9 111.5L477.0 111.2L477.1 111.7L477.2 111.3L477.3 110.9L477.4 111.0L477.5 111.1L477.6 110.8L477.7 111.0L477.8 110.2L477.9 110.3L478.0 109.9L478.1 110.0L478.2 109.0L478.3 108.8L478.4 108.6L478.5 109.1L478.6 108.5L478.7 108.9L478.8 107.8L478.9 108.8L479.0 108.9L479.1 109.5L479.2 109.1L479.3 109.5L479.4 110.4L479.5 110.7L479.6 110.6L479.7 111.2L479.8 111.4L479.9 111.1L480.0 111.3L480.1 110.7L480.2 111.6L480.3 111.7L480.4 111.5L480.5 111.7L480.6 111.2L480.7 111.4L480.8 112.2L480.9 111.0L481.0 111.1L481.1 111.3L481.2 111.9L481.3 111.6L481.4 111.5L481.5 111.5L481.6 111.8L481.7 111.1L481.8 111.6L481.9 111.6L482.0 111.7L482.1 111.3L482.2 111.2L482.3 112.0L482.4 111.6L482.5 112.1L482.6 111.5L482.7 111.7L482.8 110.9L482.9 111.7L483.0 110.9L483.1 111.7L483.2 111.7L483.3 112.0L483.4 111.7L483.5 111.6L483.6 111.1L483.7 111.3L483.8 111.9L483.9 112.3L484.0 111.3L484.1 111.6L484.2 111.4L484.3 111.2L484.4 111.9L484.5 112.2L484.6 111.6L484.7 112.0L484.8 110.8L484.9 112.1L485.0 111.1L485.1 110.6L485.2 111.0L485.3 111.4L485.4 111.8L485.5 111.1L485.6 112.1L485.7 111.5L485.8 112.2L485.9 111.7L486.0 111.3L486.1 111.3L486.2 112.0L486.3 111.7L486.4 111.1L486.5 111.3L486.6 111.2L486.7 111.7L486.8 111.9L486.9 111.5L487.0 111.0L487.1 112.1L487.2 112.0L487.3 111.0L487.4 111.0L487.5 111.7L487.6 112.3L487.7 110.9L487.8 112.1L487.9 111.5L488.0 111.8L488.1 111.4L488.2 111.8L488.3 111.2L488.4 111.2L488.5 112.0L488.6 111.2L488.7 111.9L488.8 111.3L488.9 111.8L489.0 111.0L489.1 111.6L489.2 111.6L489.3 111.8L489.4 111.6L489.5 111.7L489.6 111.1L489.7 112.1L489.8 111.6L489.9 111.3L490.0 111.5L490.1 111.3L490.2 111.3L490.3 111.5L490.4 111.4L490.5 110.8L490.6 111.9L490.7 111.9L490.8 111.1L490.9 112.2L491.0 111.5L491.1 111.5L491.2 111.9L491.3 110.9L491.4 110.9L491.5 112.0L491.6 111.0L491.7 111.2L491.8 111.8L491.9 110.9L492.0 111.6L492.1 110.6L492.2 111.4L492.3 110.3L492.4 110.6L492.5 110.7L492.6 110.2L492.7 109.8L492.8 109.3L492.9 109.2L493.0 108.8L493.1 107.9L493.2 107.9L493.3 107.7L493.4 107.6L493.5 107.0L493.6 107.2L493.7 107.4L493.8 107.6L493.9 108.1L494.0 108.8L494.1 109.3L494.2 109.2L494.3 110.0L494.4 110.2L494.5 110.1L494.6 110.6L494.7 110.2L494.8 110.5L494.9 110.7L495.0 111.5L495.1 110.9L495.2 111.0L495.3 111.2L495.4 111.1L495.5 111.0L495.6 111.4L495.7 112.0L495.8 111.3L495.9 111.9L496.0 111.9L496.1 111.1L496.2 111.3L496.3 111.4L496.4 111.7L496.5 111.8L496.6 111.7L496.7 112.0L496.8 111.1L496.9 110.9L497.0 111.7L497.1 111.8L497.2 111.8L497.3 112.0L497.4 111.0L497.5 110.9L497.6 111.4L497.7 111.8L497.8 111.3L497.9 111.8L498.0 111.7L498.1 111.3L498.2 111.5L498.3 111.7L498.4 112.1L498.5 112.0L498.6 111.2L498.7 111.2L498.8 112.1L498.9 112.3L499.0 112.0L499.1 111.3L499.2 111.1L499.3 111.6L499.4 112.3L499.5 111.5L499.6 111.8L499.7 110.9L499.8 111.5L499.9 111.3L500.0 111.0L500.1 111.3L500.2 111.3L500.3 111.6L500.4 111.5L500.5 111.5L500.6 111.2L500.7 111.1L500.8 111.5L500.9 111.9L501.0 112.0L501.1 112.0L501.2 112.0L501.3 111.5L501.4 111.4L501.5 111.2L501.6 111.7L501.7 111.6L501.8 111.2L501.9 110.8L502.0 110.9L502.1 111.5L502.2 111.5L502.3 111.6L502.4 110.9L502.5 111.3L502.6 111.8L502.7 110.7L502.8 112.0L502.9 110.9L503.0 111.4L503.1 111.2L503.2 110.8L503.3 110.9L503.4 110.5L503.5 111.4L503.6 110.5L503.7 111.7L503.8 111.7L503.9 111.3L504.0 110.5L504.1 111.0L504.2 111.3L504.3 110.5L504.4 110.7L504.5 111.2L504.6 110.1L504.7 110.6L504.8 111.0L504.9 111.1L505.0 111.2L505.1 111.2L505.2 110.3L505.3 111.1L505.4 110.2L505.5 110.7L505.6 110.5L505.7 110.8L505.8 110.9L505.9 110.1L506.0 110.9L506.1 110.0L506.2 110.8L506.3 109.8L506.4 110.7L506.5 110.9L506.6 109.9L506.7 110.3L506.8 110.2L506.9 110.9L507.0 109.9L507.1 109.5L507.2 110.0L507.3 109.7L507.4 110.0L507.5 110.3L507.6 110.0L507.7 109.5L507.8 109.6L507.9 110.4L508.0 109.9L508.1 109.5L508.2 109.8L508.3 109.3L508.4 109.9L508.5 109.4L508.6 109.7L508.7 110.5L508.8 109.7L508.9 110.2L509.0 109.5L509.1 109.2L509.2 109.5L509.3 109.4L509.4 109.6L509.5 109.7L509.6 109.4L509.7 110.0L509.8 109.5L509.9 110.0L510.0 110.0L510.1 109.9L510.2 109.8L510.3 108.9L510.4 109.3L510.5 109.4L510.6 109.8L510.7 110.0L510.8 109.2L510.9 109.6L511.0 109.1L511.1 109.6L511.2 109.4L511.3 108.9L511.4 109.3L511.5 109.1L511.6 109.3L511.7 109.6L511.8 109.3L511.9 109.7L512.0 109.1L512.1 108.2L512.2 109.1L512.3 108.4L512.4 109.2L512.5 108.6L512.6 109.2L512.7 108.4L512.8 109.1L512.9 108.7L513.0 108.9L513.1 107.9L513.2 108.6L513.3 109.0L513.4 108.9L513.5 108.5L513.6 108.9L513.7 108.8L513.8 108.5L513.9 109.0L514.0 108.8L514.1 109.0L514.2 108.9L514.3 109.3L514.4 108.9L514.5 108.4L514.6 107.7L514.7 108.7L514.8 108.0L514.9 108.9L515.0 108.9L515.1 108.7L515.2 108.1L515.3 108.6L515.4 108.4L515.5 108.1L515.6 108.0L515.7 109.2L515.8 107.2L515.9 108.9L516.0 107.3L516.1 107.7L516.2 108.5L516.3 107.1L516.4 108.4L516.5 107.7L516.6 108.4L516.7 108.2L516.8 107.6L516.9 108.2L517.0 108.2L517.1 108.4L517.2 107.1L517.3 108.6L517.4 108.4L517.5 107.4L517.6 108.2L517.7 107.9L517.8 108.2L517.9 107.6L518.0 108.4L518.1 107.9L518.2 107.9L518.3 108.6L518.4 107.7L518.5 107.8L518.6 107.9L518.7 107.7L518.8 107.3L518.9 108.1L519.0 107.5L519.1 107.6L519.2 107.2L519.3 107.3L519.4 107.1L519.5 106.6L519.6 107.1L519.7 107.4L519.8 106.9L519.9 106.3L520.0 105.6L520.1 105.7L520.2 105.1L520.3 104.6L520.4 104.1L520.5 103.7L520.6 102.6L520.7 101.5L520.8 100.9L520.9 100.0L521.0 99.4L521.1 98.5L521.2 97.3L521.3 97.6L521.4 97.5L521.5 97.5L521.6 97.1L521.7 98.1L521.8 99.3L521.9 99.6L522.0 101.0L522.1 102.1L522.2 102.8L522.3 103.1L522.4 103.7L522.5 104.6L522.6 104.9L522.7 105.7L522.8 106.1L522.9 106.4L523.0 107.0L523.1 106.4L523.2 106.4L523.3 106.6L523.4 107.7L523.5 106.9L523.6 106.8L523.7 107.4L523.8 107.4L523.9 108.1L524.0 108.0L524.1 108.3L524.2 108.5L524.3 107.0L524.4 108.4L524.5 107.6L524.6 107.1L524.7 108.6L524.8 107.6L524.9 107.0L525.0 108.1L525.1 108.6L525.2 107.6L525.3 108.6L525.4 108.7L525.5 108.0L525.6 107.5L525.7 107.8L525.8 107.4L525.9 107.8L526.0 107.9L526.1 107.8L526.2 108.1L526.3 107.5L526.4 108.4L526.5 108.8L526.6 107.7L526.7 107.3L526.8 107.6L526.9 108.5L527.0 108.7L527.1 108.2L527.2 107.2L527.3 107.8L527.4 106.9L527.5 107.7L527.6 107.7L527.7 107.7L527.8 107.2L527.9 107.0L528.0 108.1L528.1 107.2L528.2 106.8L528.3 107.2L528.4 106.8L528.5 108.1L528.6 106.9L528.7 107.9L528.8 108.1L528.9 106.5L529.0 107.7L529.1 106.7L529.2 107.4L529.3 107.7L529.4 106.8L529.5 106.7L529.6 107.0L529.7 107.1L529.8 106.3L529.9 107.0L530.0 106.7" stroke="#ff0000" stroke-width="1.3" fill="none" stroke-linejoin="round"/></g><g clip-path="url(#cd)"><path d="M70.0 180.3L70.1 181.3L70.2 181.1L70.3 181.6L70.4 180.6L70.5 182.5L70.6 180.3L70.7 182.6L70.8 180.8L70.9 181.5L71.0 181.3L71.1 181.2L71.2 181.1L71.3 181.6L71.4 179.6L71.5 179.3L71.6 182.9L71.7 179.8L71.8 180.7L71.9 179.9L72.0 181.5L72.1 182.5L72.2 180.7L72.3 180.0L72.4 180.7L72.5 179.8L72.6 179.8L72.7 179.9L72.8 181.1L72.9 182.8L73.0 180.6L73.1 181.6L73.2 181.0L73.3 180.7L73.4 183.7L73.5 181.2L73.6 181.3L73.7 183.7L73.8 181.5L73.9 182.0L74.0 184.0L74.1 181.8L74.2 184.3L74.3 182.5L74.4 183.7L74.5 182.3L74.6 182.9L74.7 184.6L74.8 184.6L74.9 182.0L75.0 184.5L75.1 182.5L75.2 182.8L75.3 182.0L75.4 183.9L75.5 184.7L75.6 184.4L75.7 184.4L75.8 183.4L75.9 182.6L76.0 182.1L76.1 183.6L76.2 184.9L76.3 183.5L76.4 183.5L76.5 184.6L76.6 184.2L76.7 183.8L76.8 183.1L76.9 181.6L77.0 182.9L77.1 181.7L77.2 181.7L77.3 179.4L77.4 181.4L77.5 178.4L77.6 179.4L77.7 179.2L77.8 176.3L77.9 178.5L78.0 178.3L78.1 178.5L78.2 177.9L78.3 178.7L78.4 178.8L78.5 180.6L78.6 181.9L78.7 182.8L78.8 183.4L78.9 182.3L79.0 182.6L79.1 183.6L79.2 185.0L79.3 182.7L79.4 183.4L79.5 182.9L79.6 185.0L79.7 182.3L79.8 184.4L79.9 184.3L80.0 183.1L80.1 183.6L80.2 182.4L80.3 183.5L80.4 182.6L80.5 183.9L80.6 182.2L80.7 182.6L80.8 181.7L80.9 180.8L81.0 181.7L81.1 178.8L81.2 180.3L81.3 180.4L81.4 179.9L81.5 178.1L81.6 178.6L81.7 179.7L81.8 178.1L81.9 179.8L82.0 180.1L82.1 181.0L82.2 180.5L82.3 181.9L82.4 180.6L82.5 181.2L82.6 181.6L82.7 183.6L82.8 183.3L82.9 185.2L83.0 182.5L83.1 183.5L83.2 185.4L83.3 184.2L83.4 184.1L83.5 184.8L83.6 183.5L83.7 186.3L83.8 184.0L83.9 185.7L84.0 185.2L84.1 186.3L84.2 184.0L84.3 186.1L84.4 184.5L84.5 185.2L84.6 184.8L84.7 185.1L84.8 185.2L84.9 184.8L85.0 183.8L85.1 182.5L85.2 184.7L85.3 184.5L85.4 183.8L85.5 183.3L85.6 184.2L85.7 181.8L85.8 183.4L85.9 180.2L86.0 181.7L86.1 182.6L86.2 179.8L86.3 181.8L86.4 181.0L86.5 180.8L86.6 181.9L86.7 183.1L86.8 182.7L86.9 185.1L87.0 182.5L87.1 184.0L87.2 184.6L87.3 184.9L87.4 185.7L87.5 184.7L87.6 185.4L87.7 185.8L87.8 187.7L87.9 186.5L88.0 187.3L88.1 186.8L88.2 186.6L88.3 186.0L88.4 186.5L88.5 188.7L88.6 187.4L88.7 186.9L88.8 187.1L88.9 188.6L89.0 188.7L89.1 188.5L89.2 189.0L89.3 186.7L89.4 189.2L89.5 186.4L89.6 188.4L89.7 187.7L89.8 188.5L89.9 187.2L90.0 187.1L90.1 188.4L90.2 189.3L90.3 187.6L90.4 186.8L90.5 186.7L90.6 188.3L90.7 188.7L90.8 185.9L90.9 187.5L91.0 186.2L91.1 189.0L91.2 186.2L91.3 186.2L91.4 187.8L91.5 188.7L91.6 187.9L91.7 185.8L91.8 186.8L91.9 186.8L92.0 188.1L92.1 187.6L92.2 185.8L92.3 186.8L92.4 187.5L92.5 187.0L92.6 187.5L92.7 188.3L92.8 188.9L92.9 188.3L93.0 187.6L93.1 186.5L93.2 186.2L93.3 186.6L93.4 187.5L93.5 188.3L93.6 188.5L93.7 188.6L93.8 186.9L93.9 186.8L94.0 186.7L94.1 187.5L94.2 188.7L94.3 188.8L94.4 187.4L94.5 186.2L94.6 189.1L94.7 188.8L94.8 187.9L94.9 187.3L95.0 187.9L95.1 188.4L95.2 189.8L95.3 187.4L95.4 188.2L95.5 186.8L95.6 187.0L95.7 188.1L95.8 189.6L95.9 189.3L96.0 188.2L96.1 188.5L96.2 187.9L96.3 190.0L96.4 188.9L96.5 188.0L96.6 189.4L96.7 191.3L96.8 187.9L96.9 191.0L97.0 189.0L97.1 189.1L97.2 190.9L97.3 191.3L97.4 189.1L97.5 190.7L97.6 189.8L97.7 189.7L97.8 190.4L97.9 190.9L98.0 189.3L98.1 190.1L98.2 191.0L98.3 190.8L98.4 190.2L98.5 191.5L98.6 189.3L98.7 188.8L98.8 189.5L98.9 191.3L99.0 190.8L99.1 191.8L99.2 191.9L99.3 189.8L99.4 190.8L99.5 190.7L99.6 191.3L99.7 191.8L99.8 191.3L99.9 190.4L100.0 190.9L100.1 189.9L100.2 190.7L100.3 189.5L100.4 191.0L100.5 190.5L100.6 191.0L100.7 190.8L100.8 190.8L100.9 191.4L101.0 189.5L101.1 191.2L101.2 190.9L101.3 190.9L101.4 190.3L101.5 189.1L101.6 192.1L101.7 191.4L101.8 191.9L101.9 190.2L102.0 191.5L102.1 191.6L102.2 190.7L102.3 191.6L102.4 191.2L102.5 189.4L102.6 189.6L102.7 190.5L102.8 191.1L102.9 191.1L103.0 190.5L103.1 191.9L103.2 191.3L103.3 189.4L103.4 190.7L103.5 192.2L103.6 191.6L103.7 189.4L103.8 191.4L103.9 189.5L104.0 191.2L104.1 192.4L104.2 190.2L104.3 191.8L104.4 191.2L104.5 192.3L104.6 192.3L104.7 189.5L104.8 191.6L104.9 192.0L105.0 190.2L105.1 191.5L105.2 190.3L105.3 190.2L105.4 190.8L105.5 190.5L105.6 191.6L105.7 189.9L105.8 190.1L105.9 190.6L106.0 191.4L106.1 191.8L106.2 190.7L106.3 191.7L106.4 189.5L106.5 191.4L106.6 189.7L106.7 191.8L106.8 191.2L106.9 189.3L107.0 191.5L107.1 190.3L107.2 190.5L107.3 189.5L107.4 192.0L107.5 190.5L107.6 191.4L107.7 189.1L107.8 190.7L107.9 190.2L108.0 190.9L108.1 190.3L108.2 190.9L108.3 192.1L108.4 189.2L108.5 191.6L108.6 189.1L108.7 189.3L108.8 190.1L108.9 189.9L109.0 191.5L109.1 190.7L109.2 190.4L109.3 191.8L109.4 192.1L109.5 190.9L109.6 190.9L109.7 191.6L109.8 190.0L109.9 192.1L110.0 189.6L110.1 189.5L110.2 191.7L110.3 189.9L110.4 190.3L110.5 191.0L110.6 189.4L110.7 190.9L110.8 190.5L110.9 189.7L111.0 191.2L111.1 190.9L111.2 189.9L111.3 191.6L111.4 190.4L111.5 188.9L111.6 191.8L111.7 190.2L111.8 189.2L111.9 190.4L112.0 189.2L112.1 189.0L112.2 190.0L112.3 189.4L112.4 189.5L112.5 190.2L112.6 188.6L112.7 188.5L112.8 188.7L112.9 189.4L113.0 188.6L113.1 189.7L113.2 190.5L113.3 190.1L113.4 189.0L113.5 189.5L113.6 189.4L113.7 188.5L113.8 188.6L113.9 186.2L114.0 186.2L114.1 184.7L114.2 183.7L114.3 181.7L114.4 178.4L114.5 179.2L114.6 177.1L114.7 177.8L114.8 180.2L114.9 181.8L115.0 181.5L115.1 184.6L115.2 184.9L115.3 185.3L115.4 186.8L115.5 187.8L115.6 186.4L115.7 189.4L115.8 187.1L115.9 187.4L116.0 187.5L116.1 186.9L116.2 189.3L116.3 189.7L116.4 189.0L116.5 187.2L116.6 188.8L116.7 187.9L116.8 187.8L116.9 188.5L117.0 186.9L117.1 186.9L117.2 189.1L117.3 187.3L117.4 189.1L117.5 187.9L117.6 186.7L117.7 188.2L117.8 187.1L117.9 186.3L118.0 186.6L118.1 187.6L118.2 187.7L118.3 187.4L118.4 189.2L118.5 188.9L118.6 188.5L118.7 186.8L118.8 188.6L118.9 188.3L119.0 188.2L119.1 187.6L119.2 186.6L119.3 187.3L119.4 186.9L119.5 188.7L119.6 187.4L119.7 188.2L119.8 189.1L119.9 187.7L120.0 186.4L120.1 186.8L120.2 189.2L120.3 186.7L120.4 186.6L120.5 187.7L120.6 188.8L120.7 188.9L120.8 188.7L120.9 188.4L121.0 187.6L121.1 186.6L121.2 188.1L121.3 187.0L121.4 188.7L121.5 186.5L121.6 186.3L121.7 188.9L121.8 186.8L121.9 188.2L122.0 186.2L122.1 189.3L122.2 186.7L122.3 188.2L122.4 188.3L122.5 186.7L122.6 186.0L122.7 185.8L122.8 185.8L122.9 188.0L123.0 187.3L123.1 188.5L123.2 187.3L123.3 187.9L123.4 186.6L123.5 186.6L123.6 188.3L123.7 188.8L123.8 186.9L123.9 188.4L124.0 188.0L124.1 186.3L124.2 186.2L124.3 188.3L124.4 188.8L124.5 188.6L124.6 186.9L124.7 186.1L124.8 186.7L124.9 186.1L125.0 188.7L125.1 186.9L125.2 188.7L125.3 186.7L125.4 189.1L125.5 187.7L125.6 188.9L125.7 188.3L125.8 188.9L125.9 186.8L126.0 186.9L126.1 187.5L126.2 189.1L126.3 188.9L126.4 188.5L126.5 188.4L126.6 186.7L126.7 189.3L126.8 188.2L126.9 188.7L127.0 188.9L127.1 187.4L127.2 188.4L127.3 188.8L127.4 188.7L127.5 186.7L127.6 188.3L127.7 189.2L127.8 188.2L127.9 187.3L128.0 189.6L128.1 186.5L128.2 187.0L128.3 189.2L128.4 188.6L128.5 187.7L128.6 189.0L128.7 188.6L128.8 187.1L128.9 187.6L129.0 189.0L129.1 188.5L129.2 186.6L129.3 188.0L129.4 188.2L129.5 187.2L129.6 186.4L129.7 187.3L129.8 189.0L129.9 188.2L130.0 186.5L130.1 188.3L130.2 188.0L130.3 187.4L130.4 186.9L130.5 186.9L130.6 187.3L130.7 186.6L130.8 187.0L130.9 188.4L131.0 188.0L131.1 187.4L131.2 189.4L131.3 187.9L131.4 188.9L131.5 189.0L131.6 188.5L131.7 188.1L131.8 188.8L131.9 188.7L132.0 189.2L132.1 187.9L132.2 187.7L132.3 187.5L132.4 189.8L132.5 189.0L132.6 188.1L132.7 188.1L132.8 187.0L132.9 189.5L133.0 188.4L133.1 189.6L133.2 188.4L133.3 188.4L133.4 189.0L133.5 189.2L133.6 188.9L133.7 187.6L133.8 187.9L133.9 188.8L134.0 188.1L134.1 188.7L134.2 188.0L134.3 188.3L134.4 186.6L134.5 186.7L134.6 186.6L134.7 187.1L134.8 187.2L134.9 188.8L135.0 189.0L135.1 186.4L135.2 188.5L135.3 187.4L135.4 188.5L135.5 187.0L135.6 188.3L135.7 186.3L135.8 187.3L135.9 187.1L136.0 186.5L136.1 186.8L136.2 187.1L136.3 187.6L136.4 187.2L136.5 188.2L136.6 187.8L136.7 188.4L136.8 187.8L136.9 186.5L137.0 187.0L137.1 186.5L137.2 186.3L137.3 186.1L137.4 186.1L137.5 186.7L137.6 185.5L137.7 187.3L137.8 186.7L137.9 185.4L138.0 185.6L138.1 187.9L138.2 186.8L138.3 185.3L138.4 187.1L138.5 186.7L138.6 185.6L138.7 186.4L138.8 185.7L138.9 187.2L139.0 187.3L139.1 186.0L139.2 185.8L139.3 185.3L139.4 186.9L139.5 185.5L139.6 187.2L139.7 188.0L139.8 187.8L139.9 187.5L140.0 185.1L140.1 186.8L140.2 186.1L140.3 187.2L140.4 186.2L140.5 186.3L140.6 188.1L140.7 187.9L140.8 185.2L140.9 187.4L141.0 184.9L141.1 186.0L141.2 187.2L141.3 187.2L141.4 185.6L141.5 186.2L141.6 185.5L141.7 186.4L141.8 185.0L141.9 184.3L142.0 184.6L142.1 185.3L142.2 185.4L142.3 186.5L142.4 183.3L142.5 185.4L142.6 185.9L142.7 185.6L142.8 183.4L142.9 183.7L143.0 183.2L143.1 184.2L143.2 184.9L143.3 183.7L143.4 183.6L143.5 182.8L143.6 185.4L143.7 183.4L143.8 185.1L143.9 185.3L144.0 183.9L144.1 185.3L144.2 184.1L144.3 184.8L144.4 184.9L144.5 183.6L144.6 184.5L144.7 185.4L144.8 185.9L144.9 185.9L145.0 184.6L145.1 185.5L145.2 183.6L145.3 186.0L145.4 183.1L145.5 185.5L145.6 185.3L145.7 184.1L145.8 185.2L145.9 185.4L146.0 182.9L146.1 183.9L146.2 182.6L146.3 184.0L146.4 182.2L146.5 183.8L146.6 181.6L146.7 182.7L146.8 183.3L146.9 182.1L147.0 183.6L147.1 182.6L147.2 181.2L147.3 182.9L147.4 180.6L147.5 181.6L147.6 181.9L147.7 181.7L147.8 180.3L147.9 179.6L148.0 179.5L148.1 178.0L148.2 178.3L148.3 178.3L148.4 176.7L148.5 176.7L148.6 177.4L148.7 175.1L148.8 175.8L148.9 174.8L149.0 174.8L149.1 174.2L149.2 173.2L149.3 174.3L149.4 172.9L149.5 173.8L149.6 172.7L149.7 173.1L149.8 173.1L149.9 172.7L150.0 171.7L150.1 172.4L150.2 171.6L150.3 173.4L150.4 173.5L150.5 174.5L150.6 173.1L150.7 173.9L150.8 175.7L150.9 176.1L151.0 174.9L151.1 174.9L151.2 176.3L151.3 176.4L151.4 176.0L151.5 176.2L151.6 176.8L151.7 176.9L151.8 176.8L151.9 176.9L152.0 177.8L152.1 179.3L152.2 179.3L152.3 178.8L152.4 177.9L152.5 178.0L152.6 177.6L152.7 177.5L152.8 179.9L152.9 179.6L153.0 178.4L153.1 179.2L153.2 179.5L153.3 179.6L153.4 177.8L153.5 179.3L153.6 178.9L153.7 178.2L153.8 177.9L153.9 178.1L154.0 178.9L154.1 179.4L154.2 179.8L154.3 177.9L154.4 177.6L154.5 178.2L154.6 177.5L154.7 178.0L154.8 179.0L154.9 178.3L155.0 179.5L155.1 178.9L155.2 180.3L155.3 179.2L155.4 178.5L155.5 180.0L155.6 178.8L155.7 179.4L155.8 178.6L155.9 179.6L156.0 178.5L156.1 179.4L156.2 178.3L156.3 180.6L156.4 178.6L156.5 179.1L156.6 179.5L156.7 178.6L156.8 178.9L156.9 179.4L157.0 179.7L157.1 179.1L157.2 178.6L157.3 179.3L157.4 179.9L157.5 178.6L157.6 178.5L157.7 179.5L157.8 178.8L157.9 179.7L158.0 177.4L158.1 178.6L158.2 178.7L158.3 178.3L158.4 179.4L158.5 177.9L158.6 179.5L158.7 179.8L158.8 179.6L158.9 177.5L159.0 177.8L159.1 176.9L159.2 177.7L159.3 179.3L159.4 178.5L159.5 177.8L159.6 177.4L159.7 178.9L159.8 178.3L159.9 177.1L160.0 178.5L160.1 177.2L160.2 177.5L160.3 176.7L160.4 179.2L160.5 178.1L160.6 178.5L160.7 177.3L160.8 177.7L160.9 178.0L161.0 178.3L161.1 179.0L161.2 177.1L161.3 176.7L161.4 177.4L161.5 177.1L161.6 178.3L161.7 177.0L161.8 176.8L161.9 177.2L162.0 177.6L162.1 176.7L162.2 175.6L162.3 177.5L162.4 175.6L162.5 177.7L162.6 176.0L162.7 176.2L162.8 176.7L162.9 177.8L163.0 176.7L163.1 176.4L163.2 176.0L163.3 175.5L163.4 175.8L163.5 177.4L163.6 177.3L163.7 175.8L163.8 177.3L163.9 174.5L164.0 176.7L164.1 175.0L164.2 176.1L164.3 175.7L164.4 175.6L164.5 177.2L164.6 175.3L164.7 174.5L164.8 174.6L164.9 176.0L165.0 174.1L165.1 173.3L165.2 173.5L165.3 174.5L165.4 172.3L165.5 171.0L165.6 170.8L165.7 168.1L165.8 167.0L165.9 166.3L166.0 163.7L166.1 161.4L166.2 162.0L166.3 160.3L166.4 160.4L166.5 162.3L166.6 164.1L166.7 165.3L166.8 165.8L166.9 167.7L167.0 168.1L167.1 170.1L167.2 172.3L167.3 172.1L167.4 173.7L167.5 174.2L167.6 173.8L167.7 174.8L167.8 174.1L167.9 175.0L168.0 174.5L168.1 174.1L168.2 175.1L168.3 173.6L168.4 176.1L168.5 176.1L168.6 175.4L168.7 175.1L168.8 174.8L168.9 174.5L169.0 174.9L169.1 174.2L169.2 175.6L169.3 175.7L169.4 174.9L169.5 175.7L169.6 174.1L169.7 175.8L169.8 175.8L169.9 175.4L170.0 175.9L170.1 175.3L170.2 175.0L170.3 174.6L170.4 173.2L170.5 173.1L170.6 174.9L170.7 172.7L170.8 174.2L170.9 172.9L171.0 174.1L171.1 174.7L171.2 173.7L171.3 172.1L171.4 173.5L171.5 173.0L171.6 173.5L171.7 171.7L171.8 172.1L171.9 173.4L172.0 173.4L172.1 173.0L172.2 171.6L172.3 172.3L172.4 172.9L172.5 171.8L172.6 170.6L172.7 170.6L172.8 169.5L172.9 169.6L173.0 168.9L173.1 169.8L173.2 170.0L173.3 170.2L173.4 168.4L173.5 167.5L173.6 168.6L173.7 168.1L173.8 167.8L173.9 165.0L174.0 166.1L174.1 165.9L174.2 165.3L174.3 164.0L174.4 165.4L174.5 164.5L174.6 163.4L174.7 164.1L174.8 165.2L174.9 164.2L175.0 165.8L175.1 165.0L175.2 165.7L175.3 166.1L175.4 165.6L175.5 168.1L175.6 166.9L175.7 168.7L175.8 169.1L175.9 167.7L176.0 167.3L176.1 168.6L176.2 168.3L176.3 169.9L176.4 168.8L176.5 169.4L176.6 168.3L176.7 168.5L176.8 168.5L176.9 170.1L177.0 169.4L177.1 169.5L177.2 168.0L177.3 168.5L177.4 169.7L177.5 169.2L177.6 169.0L177.7 168.5L177.8 167.6L177.9 169.2L178.0 167.7L178.1 167.8L178.2 168.9L178.3 167.4L178.4 168.3L178.5 168.3L178.6 167.1L178.7 167.5L178.8 167.2L178.9 165.7L179.0 165.3L179.1 165.1L179.2 163.2L179.3 162.6L179.4 162.2L179.5 161.6L179.6 159.9L179.7 157.2L179.8 156.7L179.9 154.9L180.0 152.8L180.1 150.8L180.2 147.9L180.3 148.2L180.4 146.6L180.5 145.4L180.6 146.5L180.7 147.4L180.8 148.3L180.9 149.7L181.0 152.5L181.1 154.3L181.2 156.1L181.3 156.9L181.4 158.7L181.5 162.1L181.6 161.7L181.7 163.6L181.8 163.1L181.9 165.1L182.0 165.8L182.1 166.6L182.2 167.6L182.3 166.4L182.4 166.8L182.5 166.5L182.6 167.2L182.7 167.7L182.8 168.8L182.9 167.9L183.0 168.2L183.1 168.8L183.2 167.1L183.3 167.9L183.4 168.3L183.5 167.8L183.6 167.5L183.7 169.0L183.8 168.3L183.9 167.2L184.0 167.1L184.1 169.4L184.2 169.4L184.3 170.3L184.4 172.2L184.5 173.2L184.6 175.3L184.7 174.5L184.8 178.0L184.9 179.2L185.0 180.7L185.1 183.6L185.2 184.1L185.3 185.4L185.4 184.6L185.5 184.6L185.6 182.9L185.7 179.7L185.8 178.5L185.9 177.8L186.0 176.3L186.1 175.5L186.2 175.9L186.3 174.4L186.4 174.4L186.5 174.4L186.6 173.2L186.7 173.7L186.8 174.3L186.9 174.2L187.0 174.6L187.1 173.8L187.2 173.7L187.3 173.3L187.4 173.3L187.5 172.9L187.6 173.3L187.7 173.3L187.8 173.8L187.9 173.8L188.0 174.8L188.1 174.7L188.2 173.8L188.3 174.1L188.4 173.8L188.5 173.0L188.6 173.2L188.7 173.0L188.8 173.2L188.9 172.0L189.0 169.4L189.1 169.2L189.2 166.8L189.3 166.0L189.4 165.1L189.5 162.7L189.6 159.8L189.7 159.5L189.8 158.6L189.9 160.0L190.0 161.3L190.1 163.0L190.2 164.1L190.3 166.6L190.4 167.9L190.5 170.7L190.6 172.2L190.7 171.5L190.8 173.7L190.9 175.0L191.0 174.1L191.1 174.4L191.2 174.6L191.3 176.3L191.4 175.2L191.5 175.9L191.6 177.2L191.7 175.8L191.8 177.0L191.9 177.0L192.0 176.9L192.1 177.3L192.2 176.7L192.3 178.0L192.4 177.6L192.5 177.4L192.6 177.0L192.7 177.3L192.8 178.7L192.9 178.5L193.0 177.1L193.1 177.5L193.2 177.6L193.3 177.7L193.4 177.0L193.5 177.2L193.6 178.0L193.7 178.3L193.8 178.4L193.9 178.0L194.0 178.6L194.1 177.1L194.2 177.4L194.3 177.2L194.4 176.8L194.5 177.2L194.6 177.2L194.7 177.3L194.8 176.4L194.9 177.6L195.0 177.9L195.1 177.1L195.2 176.1L195.3 176.5L195.4 177.1L195.5 176.2L195.6 176.2L195.7 176.3L195.8 177.1L195.9 176.2L196.0 175.2L196.1 176.5L196.2 177.0L196.3 176.4L196.4 176.1L196.5 176.6L196.6 177.1L196.7 177.0L196.8 178.5L196.9 178.9L197.0 179.0L197.1 178.8L197.2 178.7L197.3 179.8L197.4 178.9L197.5 179.2L197.6 179.3L197.7 180.0L197.8 180.3L197.9 180.2L198.0 180.2L198.1 179.9L198.2 180.2L198.3 180.9L198.4 180.4L198.5 181.0L198.6 180.4L198.7 180.3L198.8 180.5L198.9 179.8L199.0 180.0L199.1 179.9L199.2 180.4L199.3 180.7L199.4 181.0L199.5 180.1L199.6 180.0L199.7 179.8L199.8 180.6L199.9 180.3L200.0 180.6L200.1 180.0L200.2 181.3L200.3 180.3L200.4 181.2L200.5 179.8L200.6 179.9L200.7 180.8L200.8 181.4L200.9 179.5L201.0 181.2L201.1 180.8L201.2 180.9L201.3 181.4L201.4 180.1L201.5 181.4L201.6 180.1L201.7 180.4L201.8 180.5L201.9 179.9L202.0 180.6L202.1 181.2L202.2 179.8L202.3 180.5L202.4 180.7L202.5 180.2L202.6 180.6L202.7 180.1L202.8 180.6L202.9 180.8L203.0 181.1L203.1 181.3L203.2 181.4L203.3 180.3L203.4 179.9L203.5 179.7L203.6 180.8L203.7 180.7L203.8 180.7L203.9 180.5L204.0 180.2L204.1 180.7L204.2 180.3L204.3 180.1L204.4 180.6L204.5 180.1L204.6 179.9L204.7 180.5L204.8 179.3L204.9 180.3L205.0 179.5L205.1 179.6L205.2 180.3L205.3 180.2L205.4 180.1L205.5 180.0L205.6 180.2L205.7 180.1L205.8 179.8L205.9 179.2L206.0 178.8L206.1 180.4L206.2 180.3L206.3 180.1L206.4 179.9L206.5 180.1L206.6 180.0L206.7 180.0L206.8 180.2L206.9 179.3L207.0 179.8L207.1 180.7L207.2 180.2L207.3 179.6L207.4 179.6L207.5 180.4L207.6 179.4L207.7 180.7L207.8 179.4L207.9 180.7L208.0 179.6L208.1 181.0L208.2 179.7L208.3 179.3L208.4 180.8L208.5 180.5L208.6 180.0L208.7 180.0L208.8 180.5L208.9 179.6L209.0 180.2L209.1 180.3L209.2 179.8L209.3 179.3L209.4 180.6L209.5 179.0L209.6 180.3L209.7 180.0L209.8 179.0L209.9 179.5L210.0 177.5L210.1 178.1L210.2 177.2L210.3 176.0L210.4 176.0L210.5 172.6L210.6 171.7L210.7 167.3L210.8 164.9L210.9 160.3L211.0 156.5L211.1 153.6L211.2 150.2L211.3 147.7L211.4 149.6L211.5 152.5L211.6 156.8L211.7 160.1L211.8 165.5L211.9 168.8L212.0 172.0L212.1 172.8L212.2 174.6L212.3 176.8L212.4 177.1L212.5 177.2L212.6 177.6L212.7 178.2L212.8 179.0L212.9 179.5L213.0 178.8L213.1 180.1L213.2 179.3L213.3 179.5L213.4 179.2L213.5 179.3L213.6 179.3L213.7 180.2L213.8 179.5L213.9 179.0L214.0 179.9L214.1 180.5L214.2 179.8L214.3 178.8L214.4 179.3L214.5 179.8L214.6 179.3L214.7 180.6L214.8 180.8L214.9 179.1L215.0 180.4L215.1 179.9L215.2 179.7L215.3 180.0L215.4 179.7L215.5 180.8L215.6 180.0L215.7 180.5L215.8 180.8L215.9 180.3L216.0 180.4L216.1 179.8L216.2 180.8L216.3 180.8L216.4 181.3L216.5 179.8L216.6 179.9L216.7 181.3L216.8 180.8L216.9 179.6L217.0 181.2L217.1 179.8L217.2 180.9L217.3 181.0L217.4 181.3L217.5 180.4L217.6 181.7L217.7 182.0L217.8 182.3L217.9 182.0L218.0 181.5L218.1 183.0L218.2 183.1L218.3 183.9L218.4 184.9L218.5 186.2L218.6 190.0L218.7 192.6L218.8 195.6L218.9 200.0L219.0 203.5L219.1 206.9L219.2 209.1L219.3 206.6L219.4 204.2L219.5 201.0L219.6 195.4L219.7 192.0L219.8 189.8L219.9 186.4L220.0 185.0L220.1 184.5L220.2 182.9L220.3 181.1L220.4 181.4L220.5 181.5L220.6 181.9L220.7 181.2L220.8 180.8L220.9 180.8L221.0 179.9L221.1 180.1L221.2 179.0L221.3 179.2L221.4 179.4L221.5 177.8L221.6 178.3L221.7 178.0L221.8 176.1L221.9 176.6L222.0 175.0L222.1 175.3L222.2 173.1L222.3 172.9L222.4 171.8L222.5 170.4L222.6 168.1L222.7 166.2L222.8 165.5L222.9 163.7L223.0 160.5L223.1 159.4L223.2 158.4L223.3 155.4L223.4 152.9L223.5 151.2L223.6 148.5L223.7 147.3L223.8 143.9L223.9 141.5L224.0 139.6L224.1 137.5L224.2 137.3L224.3 134.6L224.4 133.3L224.5 132.9L224.6 130.4L224.7 130.4L224.8 130.8L224.9 130.4L225.0 129.4L225.1 130.5L225.2 130.6L225.3 132.3L225.4 133.0L225.5 134.0L225.6 135.8L225.7 137.5L225.8 140.1L225.9 141.4L226.0 144.3L226.1 145.8L226.2 148.1L226.3 150.3L226.4 152.5L226.5 155.3L226.6 156.5L226.7 159.6L226.8 160.9L226.9 162.4L227.0 163.9L227.1 167.0L227.2 167.3L227.3 168.9L227.4 171.5L227.5 171.1L227.6 172.2L227.7 173.5L227.8 175.2L227.9 174.8L228.0 177.1L228.1 176.3L228.2 177.2L228.3 178.2L228.4 178.1L228.5 178.4L228.6 178.0L228.7 178.2L228.8 179.8L228.9 178.9L229.0 179.2L229.1 179.5L229.2 180.2L229.3 178.8L229.4 178.6L229.5 180.0L229.6 179.4L229.7 179.8L229.8 179.8L229.9 179.8L230.0 179.8L230.1 179.6L230.2 178.5L230.3 179.9L230.4 178.5L230.5 180.0L230.6 178.4L230.7 179.7L230.8 179.3L230.9 178.3L231.0 179.7L231.1 179.5L231.2 178.5L231.3 179.9L231.4 179.6L231.5 179.1L231.6 180.1L231.7 178.7L231.8 178.6L231.9 179.8L232.0 178.7L232.1 179.9L232.2 179.0L232.3 179.9L232.4 179.3L232.5 179.8L232.6 179.7L232.7 179.5L232.8 179.8L232.9 179.7L233.0 179.0L233.1 180.3L233.2 180.6L233.3 179.3L233.4 179.4L233.5 179.9L233.6 180.3L233.7 180.0L233.8 179.7L233.9 180.4L234.0 179.6L234.1 180.5L234.2 180.6L234.3 179.3L234.4 180.1L234.5 180.2L234.6 180.9L234.7 179.4L234.8 180.0L234.9 181.0L235.0 179.3L235.1 180.7L235.2 179.7L235.3 179.7L235.4 180.9L235.5 180.0L235.6 179.3L235.7 179.4L235.8 180.3L235.9 180.1L236.0 179.3L236.1 179.6L236.2 179.2L236.3 180.4L236.4 179.6L236.5 179.7L236.6 180.4L236.7 179.1L236.8 180.5L236.9 179.5L237.0 179.8L237.1 179.1L237.2 179.6L237.3 179.8L237.4 179.2L237.5 179.7L237.6 179.1L237.7 178.1L237.8 180.0L237.9 179.4L238.0 179.3L238.1 179.3L238.2 178.2L238.3 178.7L238.4 178.4L238.5 179.4L238.6 179.6L238.7 179.3L238.8 179.6L238.9 178.9L239.0 178.2L239.1 179.2L239.2 178.5L239.3 179.1L239.4 178.6L239.5 178.6L239.6 179.8L239.7 179.7L239.8 180.0L239.9 180.7L240.0 179.1L240.1 180.5L240.2 180.1L240.3 180.1L240.4 180.8L240.5 180.0L240.6 178.8L240.7 179.3L240.8 179.6L240.9 180.5L241.0 180.3L241.1 180.3L241.2 179.3L241.3 179.8L241.4 180.2L241.5 180.3L241.6 179.8L241.7 179.5L241.8 179.6L241.9 180.7L242.0 180.5L242.1 179.4L242.2 180.8L242.3 179.0L242.4 179.0L242.5 180.0L242.6 180.7L242.7 179.8L242.8 180.1L242.9 180.8L243.0 179.6L243.1 179.2L243.2 179.7L243.3 180.0L243.4 179.2L243.5 179.1L243.6 180.3L243.7 180.8L243.8 180.8L243.9 179.6L244.0 180.2L244.1 180.4L244.2 181.0L244.3 179.9L244.4 181.0L244.5 180.6L244.6 179.8L244.7 180.0L244.8 179.4L244.9 180.2L245.0 180.3L245.1 180.8L245.2 180.2L245.3 180.5L245.4 180.6L245.5 180.4L245.6 180.6L245.7 180.4L245.8 180.6L245.9 180.4L246.0 181.2L246.1 179.8L246.2 181.3L246.3 180.7L246.4 179.7L246.5 180.7L246.6 180.2L246.7 180.4L246.8 180.3L246.9 180.4L247.0 180.4L247.1 180.3L247.2 179.6L247.3 179.5L247.4 180.4L247.5 181.2L247.6 179.5L247.7 180.8L247.8 179.8L247.9 180.3L248.0 179.2L248.1 180.2L248.2 179.7L248.3 180.2L248.4 179.3L248.5 179.1L248.6 180.0L248.7 179.0L248.8 180.2L248.9 179.8L249.0 180.6L249.1 179.0L249.2 179.8L249.3 178.9L249.4 178.9L249.5 179.7L249.6 179.4L249.7 179.7L249.8 179.5L249.9 179.1L250.0 180.1L250.1 179.4L250.2 179.4L250.3 180.7L250.4 180.3L250.5 180.4L250.6 181.0L250.7 180.8L250.8 179.6L250.9 181.2L251.0 180.1L251.1 180.5L251.2 180.0L251.3 180.2L251.4 180.4L251.5 179.5L251.6 180.5L251.7 180.0L251.8 180.7L251.9 180.8L252.0 180.5L252.1 179.4L252.2 180.2L252.3 179.9L252.4 180.5L252.5 180.7L252.6 180.1L252.7 180.4L252.8 179.4L252.9 180.5L253.0 180.8L253.1 180.4L253.2 180.3L253.3 179.6L253.4 180.8L253.5 180.1L253.6 179.5L253.7 180.3L253.8 180.6L253.9 180.6L254.0 180.8L254.1 179.3L254.2 181.3L254.3 180.9L254.4 180.2L254.5 181.2L254.6 180.0L254.7 180.3L254.8 179.7L254.9 180.9L255.0 181.4L255.1 181.9L255.2 180.2L255.3 181.3L255.4 180.8L255.5 180.4L255.6 181.4L255.7 181.0L255.8 180.2L255.9 180.7L256.0 181.3L256.1 181.5L256.2 180.3L256.3 181.3L256.4 180.2L256.5 181.6L256.6 179.9L256.7 181.7L256.8 181.0L256.9 181.3L257.0 181.2L257.1 180.8L257.2 180.4L257.3 180.4L257.4 180.4L257.5 180.0L257.6 180.3L257.7 180.6L257.8 180.5L257.9 180.5L258.0 180.6L258.1 181.0L258.2 181.0L258.3 180.2L258.4 180.5L258.5 181.1L258.6 180.2L258.7 180.5L258.8 180.6L258.9 180.5L259.0 180.4L259.1 180.6L259.2 179.9L259.3 181.1L259.4 180.2L259.5 180.0L259.6 180.4L259.7 180.7L259.8 180.9L259.9 180.3L260.0 180.3L260.1 180.1L260.2 179.7L260.3 179.8L260.4 180.4L260.5 180.5L260.6 180.1L260.7 179.6L260.8 179.0L260.9 180.4L261.0 179.6L261.1 179.8L261.2 180.1L261.3 179.6L261.4 178.7L261.5 179.0L261.6 178.0L261.7 178.3L261.8 176.8L261.9 175.3L262.0 175.6L262.1 173.4L262.2 174.0L262.3 171.4L262.4 171.7L262.5 169.9L262.6 170.5L262.7 170.5L262.8 171.8L262.9 171.3L263.0 173.2L263.1 174.2L263.2 173.8L263.3 175.5L263.4 175.2L263.5 176.9L263.6 177.8L263.7 176.8L263.8 178.4L263.9 178.2L264.0 178.2L264.1 179.6L264.2 178.7L264.3 178.3L264.4 178.7L264.5 179.5L264.6 179.9L264.7 179.4L264.8 179.5L264.9 179.6L265.0 180.0L265.1 178.6L265.2 180.0L265.3 180.1L265.4 179.2L265.5 179.6L265.6 180.5L265.7 179.4L265.8 179.3L265.9 180.2L266.0 179.5L266.1 179.8L266.2 179.0L266.3 180.0L266.4 179.4L266.5 180.2L266.6 180.0L266.7 180.6L266.8 179.8L266.9 180.5L267.0 179.5L267.1 180.3L267.2 179.5L267.3 180.0L267.4 180.3L267.5 179.6L267.6 180.0L267.7 180.6L267.8 179.8L267.9 180.0L268.0 180.9L268.1 179.8L268.2 179.3L268.3 180.0L268.4 180.1L268.5 180.8L268.6 180.3L268.7 180.8L268.8 179.9L268.9 180.4L269.0 180.5L269.1 179.1L269.2 180.1L269.3 180.5L269.4 180.1L269.5 180.7L269.6 179.3L269.7 179.7L269.8 179.7L269.9 179.5L270.0 180.0L270.1 179.7L270.2 180.0L270.3 180.1L270.4 180.1L270.5 178.8L270.6 178.8L270.7 180.1L270.8 180.0L270.9 179.3L271.0 179.0L271.1 179.9L271.2 178.9L271.3 180.4L271.4 179.2L271.5 180.8L271.6 180.1L271.7 180.1L271.8 179.9L271.9 180.2L272.0 179.6L272.1 179.9L272.2 178.8L272.3 179.2L272.4 180.8L272.5 180.8L272.6 180.5L272.7 179.0L272.8 180.1L272.9 180.5L273.0 179.7L273.1 179.8L273.2 180.3L273.3 179.1L273.4 180.0L273.5 179.5L273.6 180.3L273.7 180.1L273.8 179.9L273.9 180.6L274.0 180.7L274.1 180.5L274.2 180.4L274.3 179.9L274.4 179.7L274.5 180.7L274.6 179.1L274.7 180.0L274.8 180.3L274.9 179.4L275.0 179.7L275.1 180.3L275.2 180.9L275.3 179.9L275.4 180.1L275.5 180.4L275.6 180.4L275.7 180.1L275.8 180.4L275.9 180.3L276.0 180.5L276.1 179.9L276.2 180.1L276.3 179.3L276.4 179.2L276.5 180.5L276.6 179.4L276.7 179.8L276.8 180.5L276.9 179.4L277.0 180.2L277.1 179.5L277.2 180.2L277.3 180.5L277.4 180.4L277.5 180.2L277.6 179.8L277.7 180.3L277.8 179.5L277.9 179.4L278.0 180.5L278.1 179.2L278.2 181.3L278.3 179.4L278.4 180.6L278.5 180.1L278.6 180.3L278.7 180.5L278.8 179.8L278.9 180.8L279.0 180.7L279.1 180.6L279.2 180.3L279.3 180.2L279.4 181.4L279.5 180.3L279.6 179.7L279.7 180.0L279.8 181.2L279.9 181.2L280.0 180.4L280.1 180.3L280.2 180.7L280.3 180.5L280.4 180.8L280.5 181.0L280.6 180.6L280.7 181.1L280.8 180.7L280.9 181.1L281.0 180.3L281.1 179.8L281.2 180.6L281.3 180.6L281.4 180.0L281.5 179.6L281.6 179.9L281.7 180.7L281.8 179.7L281.9 179.2L282.0 181.1L282.1 180.9L282.2 180.7L282.3 180.9L282.4 180.9L282.5 180.2L282.6 180.3L282.7 180.4L282.8 180.0L282.9 179.6L283.0 180.3L283.1 180.4L283.2 181.2L283.3 180.1L283.4 180.3L283.5 179.7L283.6 179.4L283.7 179.5L283.8 180.4L283.9 181.2L284.0 179.6L284.1 179.7L284.2 180.5L284.3 179.9L284.4 179.5L284.5 180.8L284.6 179.3L284.7 180.3L284.8 180.6L284.9 180.5L285.0 180.9L285.1 180.1L285.2 179.1L285.3 179.2L285.4 179.9L285.5 179.9L285.6 179.3L285.7 179.3L285.8 179.4L285.9 179.3L286.0 179.3L286.1 179.2L286.2 179.7L286.3 179.4L286.4 179.9L286.5 179.1L286.6 178.8L286.7 179.8L286.8 179.2L286.9 179.6L287.0 178.6L287.1 179.6L287.2 178.8L287.3 178.4L287.4 178.4L287.5 177.7L287.6 177.8L287.7 177.8L287.8 178.1L287.9 178.3L288.0 177.8L288.1 177.2L288.2 177.7L288.3 177.0L288.4 177.0L288.5 177.2L288.6 177.6L288.7 176.6L288.8 177.6L288.9 177.7L289.0 176.2L289.1 174.5L289.2 173.8L289.3 173.2L289.4 172.6L289.5 171.3L289.6 168.6L289.7 167.2L289.8 163.4L289.9 161.7L290.0 159.5L290.1 157.9L290.2 158.0L290.3 158.7L290.4 160.6L290.5 161.1L290.6 163.9L290.7 166.0L290.8 168.3L290.9 170.3L291.0 172.0L291.1 174.6L291.2 174.7L291.3 176.1L291.4 176.4L291.5 176.9L291.6 177.2L291.7 178.3L291.8 177.8L291.9 177.9L292.0 178.9L292.1 177.6L292.2 179.3L292.3 178.0L292.4 179.0L292.5 179.8L292.6 178.6L292.7 178.2L292.8 178.9L292.9 179.4L293.0 179.0L293.1 178.6L293.2 179.5L293.3 179.4L293.4 179.2L293.5 179.6L293.6 180.0L293.7 179.5L293.8 179.2L293.9 179.8L294.0 179.5L294.1 178.7L294.2 180.2L294.3 179.0L294.4 180.1L294.5 179.8L294.6 180.0L294.7 179.8L294.8 180.4L294.9 179.6L295.0 179.4L295.1 180.3L295.2 180.3L295.3 180.0L295.4 180.4L295.5 180.3L295.6 180.5L295.7 179.2L295.8 180.5L295.9 180.2L296.0 180.4L296.1 179.5L296.2 179.6L296.3 180.6L296.4 180.1L296.5 179.5L296.6 179.1L296.7 180.1L296.8 179.8L296.9 178.8L297.0 179.2L297.1 179.6L297.2 179.0L297.3 179.5L297.4 179.6L297.5 179.0L297.6 178.9L297.7 180.2L297.8 178.8L297.9 178.7L298.0 180.0L298.1 180.0L298.2 179.3L298.3 180.2L298.4 179.0L298.5 178.6L298.6 180.1L298.7 179.6L298.8 179.1L298.9 179.7L299.0 178.7L299.1 179.1L299.2 179.3L299.3 179.9L299.4 179.2L299.5 178.7L299.6 178.6L299.7 178.9L299.8 179.4L299.9 179.6L300.0 179.7L300.1 179.8L300.2 179.6L300.3 179.4L300.4 179.4L300.5 179.2L300.6 179.5L300.7 179.7L300.8 178.6L300.9 179.4L301.0 178.2L301.1 178.4L301.2 179.7L301.3 178.7L301.4 179.0L301.5 178.4L301.6 179.2L301.7 178.5L301.8 179.2L301.9 179.9L302.0 179.6L302.1 179.4L302.2 179.3L302.3 179.1L302.4 179.8L302.5 179.1L302.6 179.0L302.7 179.7L302.8 180.2L302.9 179.9L303.0 179.6L303.1 178.7L303.2 180.0L303.3 179.3L303.4 179.8L303.5 179.6L303.6 179.7L303.7 178.3L303.8 178.8L303.9 178.9L304.0 179.0L304.1 179.6L304.2 178.4L304.3 178.5L304.4 179.1L304.5 178.3L304.6 179.3L304.7 178.7L304.8 178.6L304.9 178.8L305.0 179.8L305.1 178.1L305.2 178.1L305.3 178.0L305.4 178.6L305.5 179.3L305.6 177.8L305.7 177.4L305.8 177.4L305.9 177.6L306.0 178.2L306.1 178.0L306.2 178.0L306.3 177.1L306.4 177.1L306.5 177.7L306.6 176.1L306.7 176.0L306.8 175.7L306.9 177.0L307.0 176.3L307.1 176.4L307.2 176.3L307.3 176.3L307.4 175.6L307.5 174.8L307.6 174.3L307.7 174.8L307.8 174.0L307.9 175.1L308.0 174.5L308.1 173.8L308.2 173.7L308.3 173.4L308.4 173.7L308.5 174.1L308.6 172.7L308.7 173.3L308.8 172.9L308.9 173.5L309.0 172.1L309.1 172.8L309.2 171.8L309.3 172.8L309.4 173.5L309.5 173.2L309.6 172.1L309.7 173.8L309.8 173.0L309.9 173.3L310.0 174.1L310.1 173.5L310.2 173.4L310.3 173.8L310.4 174.5L310.5 174.2L310.6 174.3L310.7 174.7L310.8 174.6L310.9 174.7L311.0 174.9L311.1 175.9L311.2 175.8L311.3 175.7L311.4 176.8L311.5 176.8L311.6 177.3L311.7 176.4L311.8 177.5L311.9 177.2L312.0 177.8L312.1 177.7L312.2 178.2L312.3 178.2L312.4 179.3L312.5 178.8L312.6 178.6L312.7 179.1L312.8 178.2L312.9 179.4L313.0 179.0L313.1 178.6L313.2 179.4L313.3 178.6L313.4 178.4L313.5 179.0L313.6 179.3L313.7 179.3L313.8 179.2L313.9 179.7L314.0 180.1L314.1 180.2L314.2 179.9L314.3 179.2L314.4 179.3L314.5 180.3L314.6 180.4L314.7 180.2L314.8 179.1L314.9 179.3L315.0 179.5L315.1 180.2L315.2 180.5L315.3 179.5L315.4 179.5L315.5 179.6L315.6 179.6L315.7 179.7L315.8 178.7L315.9 178.5L316.0 179.4L316.1 179.1L316.2 178.8L316.3 180.4L316.4 180.1L316.5 179.3L316.6 180.1L316.7 178.8L316.8 179.0L316.9 180.1L317.0 180.4L317.1 180.0L317.2 178.9L317.3 179.7L317.4 178.8L317.5 179.0L317.6 180.3L317.7 178.9L317.8 179.0L317.9 179.2L318.0 180.2L318.1 180.1L318.2 179.4L318.3 179.8L318.4 180.5L318.5 179.9L318.6 179.2L318.7 180.4L318.8 179.4L318.9 180.1L319.0 179.8L319.1 179.2L319.2 180.3L319.3 180.4L319.4 179.7L319.5 179.3L319.6 181.2L319.7 179.4L319.8 179.5L319.9 179.8L320.0 179.7L320.1 179.3L320.2 180.5L320.3 179.2L320.4 180.5L320.5 179.8L320.6 178.8L320.7 179.1L320.8 180.2L320.9 179.9L321.0 179.5L321.1 179.5L321.2 180.6L321.3 180.3L321.4 180.1L321.5 180.6L321.6 179.2L321.7 179.4L321.8 180.5L321.9 179.7L322.0 179.6L322.1 180.4L322.2 180.7L322.3 180.5L322.4 180.2L322.5 179.8L322.6 180.5L322.7 179.2L322.8 179.1L322.9 179.1L323.0 179.9L323.1 180.3L323.2 180.0L323.3 179.5L323.4 180.1L323.5 179.7L323.6 180.4L323.7 179.7L323.8 179.5L323.9 179.3L324.0 179.0L324.1 179.4L324.2 179.7L324.3 179.9L324.4 180.1L324.5 180.6L324.6 180.4L324.7 180.1L324.8 179.8L324.9 179.4L325.0 180.2L325.1 179.1L325.2 179.3L325.3 180.1L325.4 179.8L325.5 181.0L325.6 180.6L325.7 180.5L325.8 181.3L325.9 179.8L326.0 179.8L326.1 180.4L326.2 180.9L326.3 179.6L326.4 180.5L326.5 181.2L326.6 179.9L326.7 180.7L326.8 180.8L326.9 180.3L327.0 180.6L327.1 181.2L327.2 180.1L327.3 180.4L327.4 180.7L327.5 179.7L327.6 180.8L327.7 179.6L327.8 181.2L327.9 181.0L328.0 180.9L328.1 180.8L328.2 180.4L328.3 179.8L328.4 180.6L328.5 180.4L328.6 179.4L328.7 180.6L328.8 179.6L328.9 180.0L329.0 179.2L329.1 179.6L329.2 180.5L329.3 180.1L329.4 179.2L329.5 180.2L329.6 180.5L329.7 179.9L329.8 179.8L329.9 179.2L330.0 179.8L330.1 179.5L330.2 180.5L330.3 179.9L330.4 179.1L330.5 180.2L330.6 179.9L330.7 179.1L330.8 179.1L330.9 178.7L331.0 180.0L331.1 178.9L331.2 179.3L331.3 179.8L331.4 179.1L331.5 178.9L331.6 178.2L331.7 178.3L331.8 178.7L331.9 177.4L332.0 178.0L332.1 175.2L332.2 174.1L332.3 172.5L332.4 171.8L332.5 170.1L332.6 168.7L332.7 169.3L332.8 170.9L332.9 174.2L333.0 176.3L333.1 178.4L333.2 180.0L333.3 182.3L333.4 184.2L333.5 185.7L333.6 189.4L333.7 191.8L333.8 194.3L333.9 195.3L334.0 195.9L334.1 196.7L334.2 194.9L334.3 192.5L334.4 190.2L334.5 187.5L334.6 186.1L334.7 184.6L334.8 183.0L334.9 182.8L335.0 181.5L335.1 181.5L335.2 182.0L335.3 181.3L335.4 181.3L335.5 181.3L335.6 181.3L335.7 180.3L335.8 180.9L335.9 180.3L336.0 180.0L336.1 179.4L336.2 180.1L336.3 179.5L336.4 180.2L336.5 180.1L336.6 179.6L336.7 180.2L336.8 178.6L336.9 179.5L337.0 179.2L337.1 178.6L337.2 178.7L337.3 179.4L337.4 177.9L337.5 178.9L337.6 177.8L337.7 177.9L337.8 178.2L337.9 177.1L338.0 178.1L338.1 177.2L338.2 176.5L338.3 176.5L338.4 177.2L338.5 177.3L338.6 175.9L338.7 175.0L338.8 175.8L338.9 174.4L339.0 175.1L339.1 173.4L339.2 172.9L339.3 172.8L339.4 172.3L339.5 171.5L339.6 171.2L339.7 172.0L339.8 170.8L339.9 169.0L340.0 170.0L340.1 168.3L340.2 168.5L340.3 166.5L340.4 165.9L340.5 165.8L340.6 164.4L340.7 163.3L340.8 162.6L340.9 162.3L341.0 160.5L341.1 160.5L341.2 159.7L341.3 158.4L341.4 157.1L341.5 155.5L341.6 155.4L341.7 153.7L341.8 152.5L341.9 152.0L342.0 150.6L342.1 149.7L342.2 149.2L342.3 149.3L342.4 146.7L342.5 146.5L342.6 144.6L342.7 145.0L342.8 144.5L342.9 143.4L343.0 142.3L343.1 142.6L343.2 141.5L343.3 141.4L343.4 141.1L343.5 141.3L343.6 140.0L343.7 140.9L343.8 139.2L343.9 139.8L344.0 139.1L344.1 139.6L344.2 140.8L344.3 141.1L344.4 140.5L344.5 140.6L344.6 141.2L344.7 142.8L344.8 142.6L344.9 142.8L345.0 144.5L345.1 144.6L345.2 145.1L345.3 146.9L345.4 147.4L345.5 147.0L345.6 150.0L345.7 149.6L345.8 150.4L345.9 152.7L346.0 152.8L346.1 154.7L346.2 155.5L346.3 155.5L346.4 158.2L346.5 158.2L346.6 158.3L346.7 160.1L346.8 160.3L346.9 163.0L347.0 163.5L347.1 163.7L347.2 165.5L347.3 166.7L347.4 166.9L347.5 167.0L347.6 167.7L347.7 169.8L347.8 170.3L347.9 170.0L348.0 170.7L348.1 171.6L348.2 171.9L348.3 173.2L348.4 173.0L348.5 173.8L348.6 174.1L348.7 173.8L348.8 174.1L348.9 174.8L349.0 175.6L349.1 176.0L349.2 177.0L349.3 176.7L349.4 176.6L349.5 176.3L349.6 176.5L349.7 176.8L349.8 176.5L349.9 177.2L350.0 176.8L350.1 175.7L350.2 176.5L350.3 174.9L350.4 174.8L350.5 174.9L350.6 173.6L350.7 172.8L350.8 171.7L350.9 168.7L351.0 168.3L351.1 166.7L351.2 165.2L351.3 164.9L351.4 165.3L351.5 167.0L351.6 168.4L351.7 170.2L351.8 170.7L351.9 173.0L352.0 173.2L352.1 174.6L352.2 175.6L352.3 176.5L352.4 177.6L352.5 177.2L352.6 177.4L352.7 178.6L352.8 179.0L352.9 177.8L353.0 178.0L353.1 178.8L353.2 178.2L353.3 178.6L353.4 179.2L353.5 179.5L353.6 178.7L353.7 179.0L353.8 179.1L353.9 179.8L354.0 179.0L354.1 180.1L354.2 179.3L354.3 179.8L354.4 180.3L354.5 180.6L354.6 180.1L354.7 180.6L354.8 180.3L354.9 179.8L355.0 180.0L355.1 180.6L355.2 180.2L355.3 180.7L355.4 180.2L355.5 180.2L355.6 180.3L355.7 180.4L355.8 179.7L355.9 179.7L356.0 180.7L356.1 180.7L356.2 180.1L356.3 180.4L356.4 180.3L356.5 179.7L356.6 179.9L356.7 180.8L356.8 181.2L356.9 180.6L357.0 180.0L357.1 180.8L357.2 180.6L357.3 181.0L357.4 179.5L357.5 180.5L357.6 180.1L357.7 180.8L357.8 180.4L357.9 179.3L358.0 180.5L358.1 180.4L358.2 179.7L358.3 179.6L358.4 179.9L358.5 180.5L358.6 180.4L358.7 179.4L358.8 179.6L358.9 180.8L359.0 180.4L359.1 180.5L359.2 179.9L359.3 179.7L359.4 181.0L359.5 179.7L359.6 179.9L359.7 180.0L359.8 180.1L359.9 179.9L360.0 181.0L360.1 179.8L360.2 179.5L360.3 180.3L360.4 179.6L360.5 179.9L360.6 180.0L360.7 179.6L360.8 180.6L360.9 179.7L361.0 180.5L361.1 179.6L361.2 180.2L361.3 181.4L361.4 180.8L361.5 181.2L361.6 180.7L361.7 180.0L361.8 180.3L361.9 181.0L362.0 180.0L362.1 181.0L362.2 180.4L362.3 181.3L362.4 180.5L362.5 180.5L362.6 180.5L362.7 180.9L362.8 181.7L362.9 180.9L363.0 181.4L363.1 180.9L363.2 180.1L363.3 180.9L363.4 181.0L363.5 181.1L363.6 180.6L363.7 180.4L363.8 180.4L363.9 179.9L364.0 180.3L364.1 180.4L364.2 180.6L364.3 181.4L364.4 180.8L364.5 180.6L364.6 180.9L364.7 180.5L364.8 179.6L364.9 181.0L365.0 181.1L365.1 180.6L365.2 181.1L365.3 181.1L365.4 181.4L365.5 179.7L365.6 181.2L365.7 180.7L365.8 181.0L365.9 180.8L366.0 180.2L366.1 180.5L366.2 180.9L366.3 180.4L366.4 181.4L366.5 180.2L366.6 180.5L366.7 180.7L366.8 179.7L366.9 180.7L367.0 180.1L367.1 180.2L367.2 179.7L367.3 180.4L367.4 180.5L367.5 181.1L367.6 180.8L367.7 180.7L367.8 180.9L367.9 180.5L368.0 179.6L368.1 180.1L368.2 179.2L368.3 180.0L368.4 179.4L368.5 180.0L368.6 180.0L368.7 179.2L368.8 180.2L368.9 178.7L369.0 179.8L369.1 179.3L369.2 179.0L369.3 179.8L369.4 179.4L369.5 179.0L369.6 180.4L369.7 179.5L369.8 180.7L369.9 180.4L370.0 179.6L370.1 179.3L370.2 180.7L370.3 179.4L370.4 180.4L370.5 180.1L370.6 180.2L370.7 179.5L370.8 180.2L370.9 179.4L371.0 180.8L371.1 180.6L371.2 179.6L371.3 180.4L371.4 179.9L371.5 181.0L371.6 179.7L371.7 180.0L371.8 180.4L371.9 181.5L372.0 181.0L372.1 180.3L372.2 181.0L372.3 180.4L372.4 180.1L372.5 181.4L372.6 180.0L372.7 181.0L372.8 181.3L372.9 179.8L373.0 181.1L373.1 181.2L373.2 180.0L373.3 181.0L373.4 180.4L373.5 180.5L373.6 180.7L373.7 180.4L373.8 179.9L373.9 180.5L374.0 180.5L374.1 181.0L374.2 181.0L374.3 181.0L374.4 180.9L374.5 181.3L374.6 180.9L374.7 180.4L374.8 180.1L374.9 180.9L375.0 181.0L375.1 180.2L375.2 180.7L375.3 181.4L375.4 181.0L375.5 180.8L375.6 181.6L375.7 180.7L375.8 180.2L375.9 180.3L376.0 181.6L376.1 180.3L376.2 181.3L376.3 180.2L376.4 180.7L376.5 180.7L376.6 180.8L376.7 180.4L376.8 181.0L376.9 181.8L377.0 181.2L377.1 180.7L377.2 181.9L377.3 182.0L377.4 181.3L377.5 181.0L377.6 180.3L377.7 180.4L377.8 181.0L377.9 180.6L378.0 182.0L378.1 181.6L378.2 180.9L378.3 181.6L378.4 180.8L378.5 181.8L378.6 181.3L378.7 181.1L378.8 180.8L378.9 181.2L379.0 181.5L379.1 180.7L379.2 180.7L379.3 181.0L379.4 181.6L379.5 181.2L379.6 181.8L379.7 181.0L379.8 181.7L379.9 180.1L380.0 181.3L380.1 181.0L380.2 180.9L380.3 181.5L380.4 180.5L380.5 181.0L380.6 180.9L380.7 181.6L380.8 181.7L380.9 180.5L381.0 180.4L381.1 180.0L381.2 180.5L381.3 181.7L381.4 181.4L381.5 181.2L381.6 180.6L381.7 181.1L381.8 181.0L381.9 181.5L382.0 180.1L382.1 180.4L382.2 181.1L382.3 180.3L382.4 181.8L382.5 180.2L382.6 181.7L382.7 180.3L382.8 180.5L382.9 180.7L383.0 181.1L383.1 181.9L383.2 180.8L383.3 181.6L383.4 181.7L383.5 182.0L383.6 180.7L383.7 181.0L383.8 180.3L383.9 180.7L384.0 180.5L384.1 180.2L384.2 181.7L384.3 180.7L384.4 180.3L384.5 180.4L384.6 180.3L384.7 181.5L384.8 181.2L384.9 181.5L385.0 180.9L385.1 182.0L385.2 180.9L385.3 181.1L385.4 181.4L385.5 181.9L385.6 181.8L385.7 181.9L385.8 180.8L385.9 181.9L386.0 182.1L386.1 180.8L386.2 181.8L386.3 182.3L386.4 181.6L386.5 181.9L386.6 182.0L386.7 182.0L386.8 181.5L386.9 180.8L387.0 180.8L387.1 180.6L387.2 181.4L387.3 180.5L387.4 181.6L387.5 182.0L387.6 182.2L387.7 180.5L387.8 181.6L387.9 180.7L388.0 181.9L388.1 180.7L388.2 180.8L388.3 181.2L388.4 180.8L388.5 181.8L388.6 180.8L388.7 181.9L388.8 182.3L388.9 181.7L389.0 181.7L389.1 182.6L389.2 181.3L389.3 182.4L389.4 181.9L389.5 181.1L389.6 181.5L389.7 182.2L389.8 181.0L389.9 182.4L390.0 182.4L390.1 182.3L390.2 182.1L390.3 182.1L390.4 182.4L390.5 182.0L390.6 181.6L390.7 182.1L390.8 181.7L390.9 181.4L391.0 181.2L391.1 181.4L391.2 181.2L391.3 181.9L391.4 181.9L391.5 181.7L391.6 181.8L391.7 181.0L391.8 181.1L391.9 181.7L392.0 180.7L392.1 181.5L392.2 181.1L392.3 181.1L392.4 181.1L392.5 180.8L392.6 180.2L392.7 180.0L392.8 181.2L392.9 181.4L393.0 180.8L393.1 180.7L393.2 179.9L393.3 180.2L393.4 180.5L393.5 180.7L393.6 180.0L393.7 179.7L393.8 181.0L393.9 181.2L394.0 179.9L394.1 181.0L394.2 181.0L394.3 179.9L394.4 180.9L394.5 180.2L394.6 180.0L394.7 180.1L394.8 180.5L394.9 180.5L395.0 180.5L395.1 179.7L395.2 181.3L395.3 180.4L395.4 180.4L395.5 181.1L395.6 180.2L395.7 181.4L395.8 180.8L395.9 181.2L396.0 180.4L396.1 180.6L396.2 180.2L396.3 180.5L396.4 180.7L396.5 181.2L396.6 180.5L396.7 181.4L396.8 180.2L396.9 180.4L397.0 179.8L397.1 181.4L397.2 180.1L397.3 180.5L397.4 181.0L397.5 179.9L397.6 181.4L397.7 181.6L397.8 180.2L397.9 180.1L398.0 180.8L398.1 180.6L398.2 181.0L398.3 180.9L398.4 181.2L398.5 180.8L398.6 180.1L398.7 181.1L398.8 180.3L398.9 181.3L399.0 180.2L399.1 179.3L399.2 181.1L399.3 179.9L399.4 180.6L399.5 180.3L399.6 180.5L399.7 180.4L399.8 180.6L399.9 180.8L400.0 180.3L400.1 179.9L400.2 180.0L400.3 179.7L400.4 179.7L400.5 180.0L400.6 179.9L400.7 179.6L400.8 179.4L400.9 179.3L401.0 179.1L401.1 179.7L401.2 178.9L401.3 178.9L401.4 179.1L401.5 179.7L401.6 178.6L401.7 178.3L401.8 179.3L401.9 178.7L402.0 179.3L402.1 178.0L402.2 178.1L402.3 178.1L402.4 177.3L402.5 178.5L402.6 176.8L402.7 177.9L402.8 177.1L402.9 177.0L403.0 175.8L403.1 176.9L403.2 176.1L403.3 175.7L403.4 175.2L403.5 175.1L403.6 176.1L403.7 176.4L403.8 175.9L403.9 176.3L404.0 176.7L404.1 176.2L404.2 176.4L404.3 177.0L404.4 177.0L404.5 177.8L404.6 177.7L404.7 178.1L404.8 177.9L404.9 179.2L405.0 178.0L405.1 179.1L405.2 179.4L405.3 179.1L405.4 180.5L405.5 178.7L405.6 179.3L405.7 179.5L405.8 180.4L405.9 179.9L406.0 180.4L406.1 181.2L406.2 179.7L406.3 180.4L406.4 180.3L406.5 181.0L406.6 180.7L406.7 180.3L406.8 179.7L406.9 180.4L407.0 180.6L407.1 180.5L407.2 180.5L407.3 180.9L407.4 180.6L407.5 181.2L407.6 180.5L407.7 180.5L407.8 180.5L407.9 181.3L408.0 180.7L408.1 181.4L408.2 179.9L408.3 181.5L408.4 180.2L408.5 181.1L408.6 179.9L408.7 181.1L408.8 180.9L408.9 180.6L409.0 180.4L409.1 180.1L409.2 180.0L409.3 179.8L409.4 180.7L409.5 180.1L409.6 179.4L409.7 179.8L409.8 180.0L409.9 180.1L410.0 180.4L410.1 181.4L410.2 181.1L410.3 181.6L410.4 181.0L410.5 182.2L410.6 183.0L410.7 184.4L410.8 185.1L410.9 186.7L411.0 189.1L411.1 190.4L411.2 194.0L411.3 197.0L411.4 199.7L411.5 201.1L411.6 201.2L411.7 200.7L411.8 199.5L411.9 196.3L412.0 194.6L412.1 190.7L412.2 189.0L412.3 186.5L412.4 184.6L412.5 183.4L412.6 182.6L412.7 182.1L412.8 181.3L412.9 181.3L413.0 182.1L413.1 180.6L413.2 181.1L413.3 181.1L413.4 180.1L413.5 181.2L413.6 180.1L413.7 179.9L413.8 179.7L413.9 179.7L414.0 179.7L414.1 180.6L414.2 180.4L414.3 179.4L414.4 180.9L414.5 180.5L414.6 180.4L414.7 180.9L414.8 180.4L414.9 179.5L415.0 180.7L415.1 180.7L415.2 179.3L415.3 180.0L415.4 179.7L415.5 180.7L415.6 179.5L415.7 180.8L415.8 179.6L415.9 180.4L416.0 180.5L416.1 180.5L416.2 179.3L416.3 180.1L416.4 179.6L416.5 179.6L416.6 179.7L416.7 179.4L416.8 180.8L416.9 180.3L417.0 179.6L417.1 180.0L417.2 179.2L417.3 179.5L417.4 180.3L417.5 180.2L417.6 179.9L417.7 180.6L417.8 180.5L417.9 180.4L418.0 179.4L418.1 179.9L418.2 179.1L418.3 179.9L418.4 179.2L418.5 180.0L418.6 178.6L418.7 179.7L418.8 179.3L418.9 180.0L419.0 179.5L419.1 180.0L419.2 179.8L419.3 179.3L419.4 180.1L419.5 178.5L419.6 179.9L419.7 179.3L419.8 179.6L419.9 179.6L420.0 179.0L420.1 179.6L420.2 180.1L420.3 179.4L420.4 180.1L420.5 178.6L420.6 179.4L420.7 179.8L420.8 179.0L420.9 178.7L421.0 179.7L421.1 179.7L421.2 179.1L421.3 178.5L421.4 179.9L421.5 179.8L421.6 179.8L421.7 179.9L421.8 178.8L421.9 179.3L422.0 179.2L422.1 179.1L422.2 179.5L422.3 179.6L422.4 180.3L422.5 179.4L422.6 179.4L422.7 179.5L422.8 179.6L422.9 179.1L423.0 179.4L423.1 179.4L423.2 179.6L423.3 178.9L423.4 179.5L423.5 179.1L423.6 179.8L423.7 179.3L423.8 179.7L423.9 179.7L424.0 178.8L424.1 178.6L424.2 179.4L424.3 178.5L424.4 180.1L424.5 179.4L424.6 179.0L424.7 179.5L424.8 178.8L424.9 179.5L425.0 179.9L425.1 178.5L425.2 180.1L425.3 179.1L425.4 179.4L425.5 180.1L425.6 179.7L425.7 179.1L425.8 180.2L425.9 178.7L426.0 179.9L426.1 179.6L426.2 180.4L426.3 178.9L426.4 179.5L426.5 179.5L426.6 179.0L426.7 180.0L426.8 180.3L426.9 180.5L427.0 179.2L427.1 179.7L427.2 180.8L427.3 179.3L427.4 180.0L427.5 179.4L427.6 180.5L427.7 180.1L427.8 180.5L427.9 179.0L428.0 180.2L428.1 179.7L428.2 179.4L428.3 179.8L428.4 180.4L428.5 180.1L428.6 180.1L428.7 179.4L428.8 180.0L428.9 179.7L429.0 180.3L429.1 180.3L429.2 179.6L429.3 179.8L429.4 179.4L429.5 179.6L429.6 179.1L429.7 180.3L429.8 179.2L429.9 178.8L430.0 179.0L430.1 179.9L430.2 179.1L430.3 179.2L430.4 179.9L430.5 179.8L430.6 179.1L430.7 178.5L430.8 179.2L430.9 178.9L431.0 179.7L431.1 178.8L431.2 179.8L431.3 179.7L431.4 179.7L431.5 178.7L431.6 179.1L431.7 179.4L431.8 179.7L431.9 179.3L432.0 179.8L432.1 179.0L432.2 179.2L432.3 179.0L432.4 179.8L432.5 178.8L432.6 179.9L432.7 179.8L432.8 178.9L432.9 179.2L433.0 179.2L433.1 179.7L433.2 180.4L433.3 180.2L433.4 180.0L433.5 179.0L433.6 180.4L433.7 180.6L433.8 179.1L433.9 180.1L434.0 180.1L434.1 180.1L434.2 180.1L434.3 178.9L434.4 179.6L434.5 179.6L434.6 180.1L434.7 179.1L434.8 179.6L434.9 179.3L435.0 178.9L435.1 179.8L435.2 179.4L435.3 179.8L435.4 179.2L435.5 180.1L435.6 179.0L435.7 179.8L435.8 179.4L435.9 178.3L436.0 177.9L436.1 177.1L436.2 175.7L436.3 174.8L436.4 172.5L436.5 172.4L436.6 173.5L436.7 173.8L436.8 176.8L436.9 177.3L437.0 178.0L437.1 180.5L437.2 180.8L437.3 183.1L437.4 184.6L437.5 186.0L437.6 187.3L437.7 186.6L437.8 186.0L437.9 185.5L438.0 184.1L438.1 182.7L438.2 182.0L438.3 181.7L438.4 181.2L438.5 181.2L438.6 180.5L438.7 180.7L438.8 179.7L438.9 179.3L439.0 180.1L439.1 180.7L439.2 179.7L439.3 179.2L439.4 179.5L439.5 179.5L439.6 180.5L439.7 179.5L439.8 180.8L439.9 180.8L440.0 180.5L440.1 180.9L440.2 179.8L440.3 179.7L440.4 179.9L440.5 179.4L440.6 180.6L440.7 179.9L440.8 180.5L440.9 179.9L441.0 180.5L441.1 180.0L441.2 180.2L441.3 179.9L441.4 179.9L441.5 179.4L441.6 179.8L441.7 180.7L441.8 180.6L441.9 179.3L442.0 180.8L442.1 180.4L442.2 179.2L442.3 179.3L442.4 180.2L442.5 179.2L442.6 180.2L442.7 179.5L442.8 180.1L442.9 179.7L443.0 178.8L443.1 179.4L443.2 179.2L443.3 178.8L443.4 180.0L443.5 179.8L443.6 179.9L443.7 179.5L443.8 179.2L443.9 178.5L444.0 179.7L444.1 179.5L444.2 179.2L444.3 179.2L444.4 179.6L444.5 178.9L444.6 178.5L444.7 179.8L444.8 178.5L444.9 178.6L445.0 179.0L445.1 178.1L445.2 178.9L445.3 179.6L445.4 179.0L445.5 179.1L445.6 178.5L445.7 179.1L445.8 178.5L445.9 179.0L446.0 178.7L446.1 178.9L446.2 178.6L446.3 179.4L446.4 179.0L446.5 179.8L446.6 179.0L446.7 178.7L446.8 179.2L446.9 179.6L447.0 178.9L447.1 179.7L447.2 179.3L447.3 178.7L447.4 178.7L447.5 178.4L447.6 179.1L447.7 179.6L447.8 178.7L447.9 179.6L448.0 178.4L448.1 179.5L448.2 178.6L448.3 179.9L448.4 178.6L448.5 180.0L448.6 179.1L448.7 178.8L448.8 178.3L448.9 178.4L449.0 178.7L449.1 179.8L449.2 180.0L449.3 178.5L449.4 179.2L449.5 178.3L449.6 178.3L449.7 179.1L449.8 179.3L449.9 179.5L450.0 179.8L450.1 178.4L450.2 179.3L450.3 179.5L450.4 179.4L450.5 179.1L450.6 178.7L450.7 178.7L450.8 178.4L450.9 178.5L451.0 179.1L451.1 178.1L451.2 178.2L451.3 178.1L451.4 178.6L451.5 177.7L451.6 177.5L451.7 178.2L451.8 177.5L451.9 178.0L452.0 177.4L452.1 176.8L452.2 177.0L452.3 176.3L452.4 176.8L452.5 176.9L452.6 176.5L452.7 177.5L452.8 177.5L452.9 177.1L453.0 177.1L453.1 177.1L453.2 177.2L453.3 176.0L453.4 177.3L453.5 175.9L453.6 176.3L453.7 177.2L453.8 176.3L453.9 177.3L454.0 177.4L454.1 176.1L454.2 177.2L454.3 177.8L454.4 177.3L454.5 177.6L454.6 177.6L454.7 177.7L454.8 177.7L454.9 178.1L455.0 178.6L455.1 177.3L455.2 177.6L455.3 177.4L455.4 177.7L455.5 177.7L455.6 178.8L455.7 178.3L455.8 178.9L455.9 178.4L456.0 179.5L456.1 178.7L456.2 178.7L456.3 178.7L456.4 178.6L456.5 178.6L456.6 179.0L456.7 178.8L456.8 178.7L456.9 180.0L457.0 179.3L457.1 178.8L457.2 179.6L457.3 179.6L457.4 179.8L457.5 179.6L457.6 179.0L457.7 179.9L457.8 179.4L457.9 180.3L458.0 179.4L458.1 179.5L458.2 179.3L458.3 179.5L458.4 179.2L458.5 179.7L458.6 179.6L458.7 180.3L458.8 179.4L458.9 180.4L459.0 179.5L459.1 179.7L459.2 180.4L459.3 180.2L459.4 180.3L459.5 179.7L459.6 179.5L459.7 179.9L459.8 179.9L459.9 178.8L460.0 178.9L460.1 180.3L460.2 179.8L460.3 179.8L460.4 179.0L460.5 180.2L460.6 179.2L460.7 178.9L460.8 179.4L460.9 179.0L461.0 178.6L461.1 180.0L461.2 179.8L461.3 178.9L461.4 179.5L461.5 179.7L461.6 179.3L461.7 179.6L461.8 179.0L461.9 179.2L462.0 179.2L462.1 179.8L462.2 178.9L462.3 178.8L462.4 180.0L462.5 178.7L462.6 179.5L462.7 179.8L462.8 179.1L462.9 180.1L463.0 179.4L463.1 179.1L463.2 178.8L463.3 180.1L463.4 179.2L463.5 180.2L463.6 179.5L463.7 180.1L463.8 178.9L463.9 180.1L464.0 180.4L464.1 180.1L464.2 179.2L464.3 180.5L464.4 180.1L464.5 179.2L464.6 180.4L464.7 179.0L464.8 179.0L464.9 178.8L465.0 179.8L465.1 179.5L465.2 179.2L465.3 179.7L465.4 180.2L465.5 179.1L465.6 179.8L465.7 179.2L465.8 179.7L465.9 179.7L466.0 179.1L466.1 178.8L466.2 179.7L466.3 179.6L466.4 180.0L466.5 179.0L466.6 180.3L466.7 178.9L466.8 179.3L466.9 179.8L467.0 178.9L467.1 179.5L467.2 179.8L467.3 180.3L467.4 180.2L467.5 179.5L467.6 180.1L467.7 179.1L467.8 180.4L467.9 180.1L468.0 180.6L468.1 179.3L468.2 179.8L468.3 180.2L468.4 179.0L468.5 180.4L468.6 180.1L468.7 180.2L468.8 179.5L468.9 180.3L469.0 179.9L469.1 179.4L469.2 179.2L469.3 180.3L469.4 179.6L469.5 179.3L469.6 179.5L469.7 180.0L469.8 178.9L469.9 179.1L470.0 179.9L470.1 180.2L470.2 179.9L470.3 180.5L470.4 179.2L470.5 179.2L470.6 179.2L470.7 179.2L470.8 179.1L470.9 179.8L471.0 179.2L471.1 179.1L471.2 179.4L471.3 180.1L471.4 178.9L471.5 179.7L471.6 179.1L471.7 179.7L471.8 179.4L471.9 178.7L472.0 179.3L472.1 179.0L472.2 178.9L472.3 179.1L472.4 178.7L472.5 179.6L472.6 179.4L472.7 179.6L472.8 179.6L472.9 179.3L473.0 179.4L473.1 179.6L473.2 180.4L473.3 179.4L473.4 178.9L473.5 179.1L473.6 179.6L473.7 179.9L473.8 180.0L473.9 180.2L474.0 179.9L474.1 178.9L474.2 179.8L474.3 179.7L474.4 179.4L474.5 180.1L474.6 180.4L474.7 179.5L474.8 180.0L474.9 179.5L475.0 180.4L475.1 180.2L475.2 179.5L475.3 180.2L475.4 179.8L475.5 179.5L475.6 180.4L475.7 180.1L475.8 180.9L475.9 181.0L476.0 180.7L476.1 179.9L476.2 180.7L476.3 179.4L476.4 180.6L476.5 179.7L476.6 180.7L476.7 179.3L476.8 179.9L476.9 179.3L477.0 179.4L477.1 179.9L477.2 179.1L477.3 180.0L477.4 179.5L477.5 179.1L477.6 179.2L477.7 179.1L477.8 178.3L477.9 179.5L478.0 179.2L478.1 179.3L478.2 179.1L478.3 178.2L478.4 178.4L478.5 178.6L478.6 177.1L478.7 178.4L478.8 177.5L478.9 178.2L479.0 178.5L479.1 178.7L479.2 178.3L479.3 179.6L479.4 178.5L479.5 179.6L479.6 179.0L479.7 179.9L479.8 180.3L479.9 180.0L480.0 180.7L480.1 180.5L480.2 180.3L480.3 180.6L480.4 180.9L480.5 179.7L480.6 180.9L480.7 179.8L480.8 180.2L480.9 179.9L481.0 180.5L481.1 180.6L481.2 181.0L481.3 180.8L481.4 179.7L481.5 179.7L481.6 179.7L481.7 180.5L481.8 180.0L481.9 181.0L482.0 180.0L482.1 181.1L482.2 180.8L482.3 180.6L482.4 180.5L482.5 181.0L482.6 180.1L482.7 180.7L482.8 180.9L482.9 180.5L483.0 180.6L483.1 179.8L483.2 180.3L483.3 180.2L483.4 180.1L483.5 179.3L483.6 180.8L483.7 180.6L483.8 180.0L483.9 180.2L484.0 180.2L484.1 180.8L484.2 179.9L484.3 180.3L484.4 180.4L484.5 179.0L484.6 179.7L484.7 180.2L484.8 180.3L484.9 180.4L485.0 179.0L485.1 180.0L485.2 179.2L485.3 180.2L485.4 179.7L485.5 179.2L485.6 179.5L485.7 179.4L485.8 180.1L485.9 179.5L486.0 178.8L486.1 179.2L486.2 179.1L486.3 179.1L486.4 179.6L486.5 179.4L486.6 179.0L486.7 179.7L486.8 179.6L486.9 179.4L487.0 179.6L487.1 179.1L487.2 179.1L487.3 179.6L487.4 180.1L487.5 180.6L487.6 180.5L487.7 179.4L487.8 180.7L487.9 180.5L488.0 180.5L488.1 180.4L488.2 179.9L488.3 180.1L488.4 180.0L488.5 179.5L488.6 180.2L488.7 179.7L488.8 180.8L488.9 180.3L489.0 180.6L489.1 179.3L489.2 180.2L489.3 180.3L489.4 179.8L489.5 179.5L489.6 179.8L489.7 179.7L489.8 179.6L489.9 179.4L490.0 180.0L490.1 180.2L490.2 179.5L490.3 180.1L490.4 178.9L490.5 179.7L490.6 179.1L490.7 179.5L490.8 179.2L490.9 178.8L491.0 178.9L491.1 180.0L491.2 179.1L491.3 179.9L491.4 179.3L491.5 180.0L491.6 178.7L491.7 180.0L491.8 179.3L491.9 178.9L492.0 178.7L492.1 178.5L492.2 178.4L492.3 179.3L492.4 178.9L492.5 179.4L492.6 178.4L492.7 179.6L492.8 178.3L492.9 178.5L493.0 178.4L493.1 178.5L493.2 178.7L493.3 179.2L493.4 178.0L493.5 178.3L493.6 177.8L493.7 179.1L493.8 178.1L493.9 178.9L494.0 179.2L494.1 178.4L494.2 178.3L494.3 178.6L494.4 179.4L494.5 178.3L494.6 179.5L494.7 178.3L494.8 178.2L494.9 179.2L495.0 179.2L495.1 178.9L495.2 179.3L495.3 178.7L495.4 179.9L495.5 179.1L495.6 179.7L495.7 179.5L495.8 179.4L495.9 179.8L496.0 179.4L496.1 178.7L496.2 179.4L496.3 179.3L496.4 179.4L496.5 179.9L496.6 179.6L496.7 180.1L496.8 179.1L496.9 178.7L497.0 178.6L497.1 178.7L497.2 178.8L497.3 178.9L497.4 178.9L497.5 179.5L497.6 179.9L497.7 179.7L497.8 179.7L497.9 180.1L498.0 179.5L498.1 179.1L498.2 179.2L498.3 178.5L498.4 178.5L498.5 179.9L498.6 178.6L498.7 179.7L498.8 179.3L498.9 178.5L499.0 179.7L499.1 179.7L499.2 180.1L499.3 179.3L499.4 180.2L499.5 179.4L499.6 179.1L499.7 179.3L499.8 179.8L499.9 180.0L500.0 180.2L500.1 180.3L500.2 179.9L500.3 179.5L500.4 179.7L500.5 180.5L500.6 179.6L500.7 179.1L500.8 179.7L500.9 180.0L501.0 180.4L501.1 180.3L501.2 180.2L501.3 180.6L501.4 180.5L501.5 180.5L501.6 180.0L501.7 180.7L501.8 180.5L501.9 179.2L502.0 179.3L502.1 180.2L502.2 180.2L502.3 179.4L502.4 180.5L502.5 179.1L502.6 179.9L502.7 179.6L502.8 179.1L502.9 179.1L503.0 179.0L503.1 179.3L503.2 179.0L503.3 179.7L503.4 179.4L503.5 179.7L503.6 180.0L503.7 179.9L503.8 179.7L503.9 179.8L504.0 178.8L504.1 180.0L504.2 179.6L504.3 179.7L504.4 179.9L504.5 179.2L504.6 179.6L504.7 178.9L504.8 180.4L504.9 179.6L505.0 179.2L505.1 180.3L505.2 179.5L505.3 179.9L505.4 180.1L505.5 180.0L505.6 179.5L505.7 179.4L505.8 178.8L505.9 179.8L506.0 179.2L506.1 179.5L506.2 180.3L506.3 180.4L506.4 180.3L506.5 179.1L506.6 180.3L506.7 178.9L506.8 180.3L506.9 180.1L507.0 180.2L507.1 180.6L507.2 179.9L507.3 179.4L507.4 180.4L507.5 179.6L507.6 179.4L507.7 179.9L507.8 179.2L507.9 179.5L508.0 179.1L508.1 179.6L508.2 180.5L508.3 180.4L508.4 180.5L508.5 180.0L508.6 180.0L508.7 179.9L508.8 180.6L508.9 179.2L509.0 179.2L509.1 179.2L509.2 179.4L509.3 179.0L509.4 179.8L509.5 179.2L509.6 179.9L509.7 179.6L509.8 179.8L509.9 179.7L510.0 179.9L510.1 179.6L510.2 179.6L510.3 179.3L510.4 179.4L510.5 178.8L510.6 180.1L510.7 180.1L510.8 178.9L510.9 178.5L511.0 179.4L511.1 179.6L511.2 179.5L511.3 179.3L511.4 179.7L511.5 179.5L511.6 179.4L511.7 178.8L511.8 179.8L511.9 179.1L512.0 180.3L512.1 179.7L512.2 179.6L512.3 180.0L512.4 180.4L512.5 179.1L512.6 179.7L512.7 180.8L512.8 180.5L512.9 179.7L513.0 179.9L513.1 180.6L513.2 179.5L513.3 179.6L513.4 180.3L513.5 180.3L513.6 180.2L513.7 180.8L513.8 180.7L513.9 179.9L514.0 179.9L514.1 180.8L514.2 179.6L514.3 180.8L514.4 180.3L514.5 180.8L514.6 180.3L514.7 179.3L514.8 180.4L514.9 180.0L515.0 179.3L515.1 179.2L515.2 179.3L515.3 179.2L515.4 178.9L515.5 180.0L515.6 179.9L515.7 180.3L515.8 179.2L515.9 179.4L516.0 178.7L516.1 178.7L516.2 179.6L516.3 179.2L516.4 179.3L516.5 179.4L516.6 179.7L516.7 179.5L516.8 178.5L516.9 179.1L517.0 179.7L517.1 179.6L517.2 179.8L517.3 179.1L517.4 179.1L517.5 178.2L517.6 178.7L517.7 179.2L517.8 179.6L517.9 179.8L518.0 178.1L518.1 178.5L518.2 178.7L518.3 179.4L518.4 178.4L518.5 179.4L518.6 179.1L518.7 179.7L518.8 178.8L518.9 178.9L519.0 178.5L519.1 179.1L519.2 179.4L519.3 179.1L519.4 179.0L519.5 179.6L519.6 179.3L519.7 178.5L519.8 179.1L519.9 179.1L520.0 178.2L520.1 178.1L520.2 178.8L520.3 178.0L520.4 178.1L520.5 177.0L520.6 177.7L520.7 177.2L520.8 176.2L520.9 175.5L521.0 176.1L521.1 175.5L521.2 173.4L521.3 173.3L521.4 172.9L521.5 171.9L521.6 172.0L521.7 172.1L521.8 171.8L521.9 172.0L522.0 173.2L522.1 173.5L522.2 173.8L522.3 174.1L522.4 175.0L522.5 176.4L522.6 176.7L522.7 176.3L522.8 177.2L522.9 176.7L523.0 178.3L523.1 178.6L523.2 177.7L523.3 178.1L523.4 178.1L523.5 178.1L523.6 178.9L523.7 178.5L523.8 178.0L523.9 178.4L524.0 179.2L524.1 179.4L524.2 178.3L524.3 179.0L524.4 179.2L524.5 179.5L524.6 179.4L524.7 179.4L524.8 178.9L524.9 179.7L525.0 179.1L525.1 178.4L525.2 179.5L525.3 178.9L525.4 179.5L525.5 179.3L525.6 179.5L525.7 179.4L525.8 179.6L525.9 179.0L526.0 179.5L526.1 179.0L526.2 179.9L526.3 179.0L526.4 179.0L526.5 178.8L526.6 179.6L526.7 179.4L526.8 179.7L526.9 179.2L527.0 179.6L527.1 180.1L527.2 180.0L527.3 178.8L527.4 180.0L527.5 179.2L527.6 179.9L527.7 180.1L527.8 178.6L527.9 179.1L528.0 179.5L528.1 179.3L528.2 179.7L528.3 179.5L528.4 179.9L528.5 179.2L528.6 178.2L528.7 179.5L528.8 178.3L528.9 178.3L529.0 178.5L529.1 178.3L529.2 178.2L529.3 178.9L529.4 179.1L529.5 178.4L529.6 178.3L529.7 178.9L529.8 178.1L529.9 178.4L530.0 179.0" stroke="#ff00ff" stroke-width="1.2" fill="none" stroke-linejoin="round"/></g><rect x="376" y="44.8" width="129" height="27.6" fill="#fff"/><text x="463.4" y="55.4" text-anchor="end" style="font-size:11.15px">before exposure</text><text x="463.4" y="69.9" text-anchor="end" style="font-size:11.15px">after exposure</text><path d="M470 52.0H500.5" stroke="#4444ff" stroke-width="1"/><path d="M470 66.5H500.5" stroke="#ff4a4a" stroke-width="1"/><rect x="396" y="153.3" width="109" height="14" fill="#fff"/><text x="464.0" y="164.5" text-anchor="end" style="font-size:11.15px">difference</text><path d="M470 161.1H500.5" stroke="#ff66ff" stroke-width="1"/><text x="93.4" y="51.5" style="font-size:11.1px">Electrolyte III</text><rect x="70.00" y="12.00" width="460.00" height="12.40" fill="none" stroke="#5a5a5a" stroke-width="1"/><rect x="70.00" y="30.80" width="460.00" height="87.00" fill="none" stroke="#5a5a5a" stroke-width="1"/><rect x="70.00" y="121.00" width="460.00" height="12.20" fill="none" stroke="#5a5a5a" stroke-width="1"/><rect x="70.00" y="147.20" width="460.00" height="66.10" fill="none" stroke="#5a5a5a" stroke-width="1"/><rect x="70.00" y="218.90" width="460.00" height="11.60" fill="none" stroke="#5a5a5a" stroke-width="1"/><path d="M162.0 30.80v6M162.0 117.80v-5.5M162.0 213.30v-5.5M254.0 30.80v6M254.0 117.80v-5.5M254.0 213.30v-5.5M346.0 30.80v6M346.0 117.80v-5.5M346.0 213.30v-5.5M438.0 30.80v6M438.0 117.80v-5.5M438.0 213.30v-5.5M70.0 230.50v5.2M162.0 230.50v5.2M254.0 230.50v5.2M346.0 230.50v5.2M438.0 230.50v5.2M530.0 230.50v5.2M70.0 100.40h5.5M530.0 100.40h-5.5M70.0 83.00h5.5M530.0 83.00h-5.5M70.0 65.60h5.5M530.0 65.60h-5.5M70.0 48.20h5.5M530.0 48.20h-5.5M70.0 163.72h5.5M530.0 163.72h-5.5M70.0 180.25h5.5M530.0 180.25h-5.5M70.0 196.78h5.5M530.0 196.78h-5.5" fill="none" stroke="#5a5a5a" stroke-width="1"/><path d="M181.30 18.40L188.70 18.40L185.00 24.40ZM215.60 18.40L223.00 18.40L219.30 24.40ZM330.30 18.40L337.70 18.40L334.00 24.40ZM407.40 18.40L414.80 18.40L411.10 24.40ZM433.30 18.40L440.70 18.40L437.00 24.40Z" fill="#0000ff"/><path d="M111.40 127.20L118.80 127.20L115.10 133.20ZM162.80 127.20L170.20 127.20L166.50 133.20ZM177.30 127.20L184.70 127.20L181.00 133.20ZM207.90 127.20L215.30 127.20L211.60 133.20ZM258.80 127.20L266.20 127.20L262.50 133.20ZM286.90 127.20L294.30 127.20L290.60 133.20ZM338.70 127.20L346.10 127.20L342.40 133.20ZM348.00 127.20L355.40 127.20L351.70 133.20ZM399.30 127.20L406.70 127.20L403.00 133.20ZM517.90 127.20L525.30 127.20L521.60 133.20Z" fill="#00ff00"/><path d="M78.30 224.70L85.70 224.70L82.00 218.90ZM145.60 224.70L153.00 224.70L149.30 218.90ZM177.00 224.70L184.40 224.70L180.70 218.90ZM186.50 224.70L193.90 224.70L190.20 218.90ZM221.50 224.70L228.90 224.70L225.20 218.90ZM245.90 224.70L253.30 224.70L249.60 218.90ZM283.70 224.70L291.10 224.70L287.40 218.90ZM305.60 224.70L313.00 224.70L309.30 218.90ZM340.30 224.70L347.70 224.70L344.00 218.90ZM360.40 224.70L367.80 224.70L364.10 218.90ZM394.60 224.70L402.00 224.70L398.30 218.90ZM414.90 224.70L422.30 224.70L418.60 218.90ZM449.00 224.70L456.40 224.70L452.70 218.90ZM469.80 224.70L477.20 224.70L473.50 218.90ZM506.60 224.70L514.00 224.70L510.30 218.90Z" fill="#ff0000"/><text x="63.6" y="121.50" text-anchor="end">0</text><text x="63.6" y="104.10" text-anchor="end">2 000</text><text x="63.6" y="86.70" text-anchor="end">4 000</text><text x="63.6" y="69.30" text-anchor="end">6 000</text><text x="63.6" y="51.90" text-anchor="end">8 000</text><text x="63.6" y="34.50" text-anchor="end">10 000</text><text x="63.6" y="150.90" text-anchor="end">1 000</text><text x="63.6" y="167.42" text-anchor="end">500</text><text x="63.6" y="183.95" text-anchor="end">0</text><text x="63.6" y="200.47" text-anchor="end">-500</text><text x="63.6" y="217.00" text-anchor="end">-1 000</text><text x="71.5" y="253.9" text-anchor="middle">20</text><text x="163.5" y="253.9" text-anchor="middle">40</text><text x="255.5" y="253.9" text-anchor="middle">60</text><text x="347.5" y="253.9" text-anchor="middle">80</text><text x="439.5" y="253.9" text-anchor="middle">100</text><text x="531.5" y="253.9" text-anchor="middle">120</text><text x="300" y="253.9" text-anchor="middle">2&#920; /&#176;</text><text x="14.8" y="21.6">Al</text><text x="15" y="130.1" textLength="4.7" lengthAdjust="spacingAndGlyphs">&#945;</text><text x="20.2" y="130.1">-Al</text><text x="33.2" y="132.6" style="font-size:8.2px">2</text><text x="38.3" y="130.1">O</text><text x="47.9" y="132.6" style="font-size:8.2px">3</text><text x="15" y="227.5" textLength="4.7" lengthAdjust="spacingAndGlyphs">&#947;</text><text x="20.2" y="227.5">-Al</text><text x="33.2" y="230.0" style="font-size:8.2px">2</text><text x="38.3" y="227.5">O</text><text x="47.9" y="230.0" style="font-size:8.2px">3</text><text transform="translate(18.3,73.7) rotate(-90)" text-anchor="middle" style="font-size:10.9px">counts</text><text transform="translate(18.3,180.2) rotate(-90)" text-anchor="middle" style="font-size:10.9px">&#916; counts</text></svg></body></html>
